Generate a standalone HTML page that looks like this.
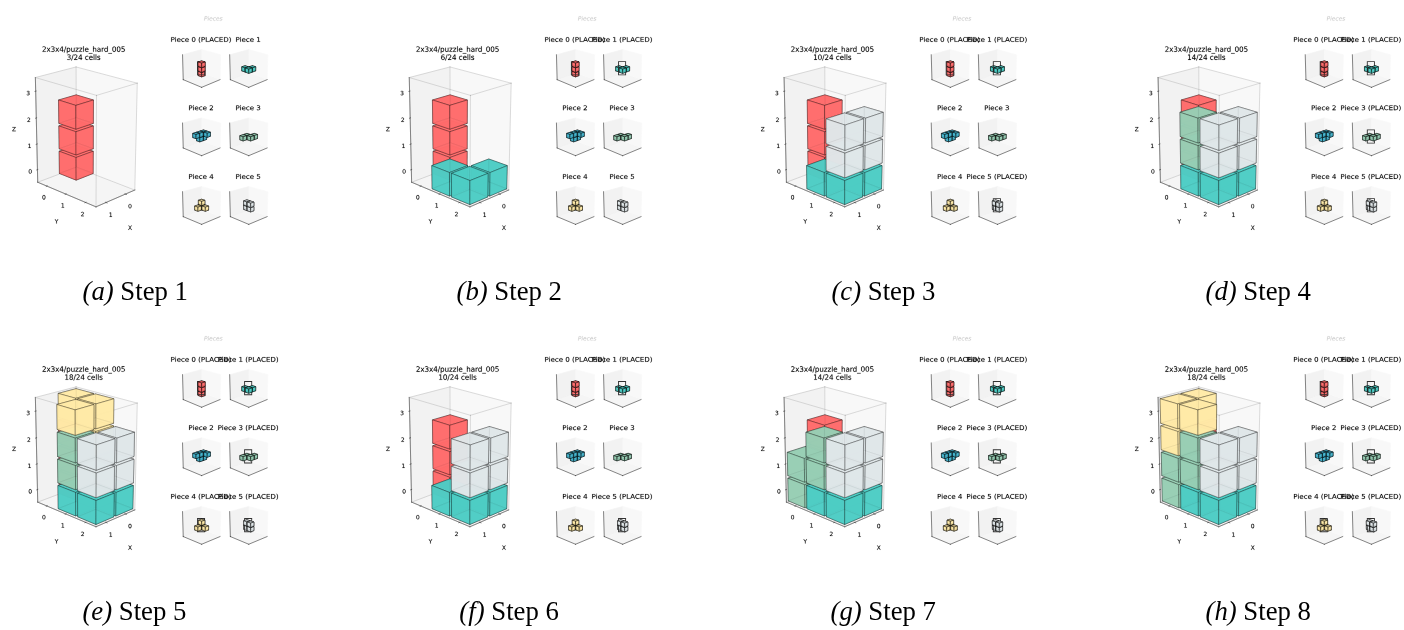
<!DOCTYPE html>
<html><head><meta charset="utf-8"><style>
html,body{margin:0;padding:0;background:#fff;}
body{width:1404px;height:630px;position:relative;overflow:hidden;}
.pn{position:absolute;width:360px;height:262px;}
.pn svg{display:block;overflow:visible;filter:blur(0.3px)}
.pn g[transform]{stroke:#000;stroke-width:0.12px}
.pn g.s12[transform]{stroke:#cccccc}
.pn use[href="#DejaVuSans-2705"]{stroke:none;fill:#333}
.cap{position:absolute;width:200px;text-align:center;font-family:"Liberation Serif",serif;font-size:28px;line-height:1;white-space:nowrap;color:#000;}
.cap span{display:inline-block;transform:scaleX(0.955);transform-origin:50% 50%;}
.s0{fill:#f2f2f2;opacity:0.5;stroke:#f2f2f2;stroke-linejoin:miter}.s1{fill:#e6e6e6;opacity:0.5;stroke:#e6e6e6;stroke-linejoin:miter}.s2{fill:#ececec;opacity:0.5;stroke:#ececec;stroke-linejoin:miter}.s3{fill:none;stroke:#000000;stroke-width:0.8;stroke-linecap:square}.s4{fill:none;stroke:#808080;stroke-opacity:0.45;stroke-linecap:square}.s5{fill:#ff6b6b;fill-opacity:0.85;stroke:#000000;stroke-width:0.5}.s6{fill:#ff6b6b;fill-opacity:0.85;stroke:#000000;stroke-width:0.8}.s7{fill:#4ecdc4;fill-opacity:0.85;stroke:#000000;stroke-width:0.8}.s8{fill:#45b7d1;fill-opacity:0.85;stroke:#000000;stroke-width:0.8}.s9{fill:#96ceb4;fill-opacity:0.85;stroke:#000000;stroke-width:0.8}.s10{fill:#ffeaa7;fill-opacity:0.85;stroke:#000000;stroke-width:0.8}.s11{fill:#dfe6e9;fill-opacity:0.85;stroke:#000000;stroke-width:0.8}.s12{fill:#cccccc;stroke:#cccccc}.s13{fill:#4ecdc4;fill-opacity:0.85;stroke:#000000;stroke-width:0.5}.s14{fill:#dfe6e9;fill-opacity:0.85;stroke:#000000;stroke-width:0.5}.s15{fill:#96ceb4;fill-opacity:0.85;stroke:#000000;stroke-width:0.5}.s16{fill:#ffeaa7;fill-opacity:0.85;stroke:#000000;stroke-width:0.5}
</style></head><body>
<svg width="0" height="0" style="position:absolute"><defs><path id="DejaVuSans-30" d="M2034 4250Q1547 4250 1301 3770Q1056 3291 1056 2328Q1056 1369 1301 889Q1547 409 2034 409Q2525 409 2770 889Q3016 1369 3016 2328Q3016 3291 2770 3770Q2525 4250 2034 4250zM2034 4750Q2819 4750 3233 4129Q3647 3509 3647 2328Q3647 1150 3233 529Q2819 -91 2034 -91Q1250 -91 836 529Q422 1150 422 2328Q422 3509 836 4129Q1250 4750 2034 4750z" transform="scale(0.015625)" vector-effect="non-scaling-stroke"/><path id="DejaVuSans-31" d="M794 531L1825 531L1825 4091L703 3866L703 4441L1819 4666L2450 4666L2450 531L3481 531L3481 0L794 0L794 531z" transform="scale(0.015625)" vector-effect="non-scaling-stroke"/><path id="DejaVuSans-58" d="M403 4666L1081 4666L2241 2931L3406 4666L4084 4666L2584 2425L4184 0L3506 0L2194 1984L872 0L191 0L1856 2491L403 4666z" transform="scale(0.015625)" vector-effect="non-scaling-stroke"/><path id="DejaVuSans-32" d="M1228 531L3431 531L3431 0L469 0L469 531Q828 903 1448 1529Q2069 2156 2228 2338Q2531 2678 2651 2914Q2772 3150 2772 3378Q2772 3750 2511 3984Q2250 4219 1831 4219Q1534 4219 1204 4116Q875 4013 500 3803L500 4441Q881 4594 1212 4672Q1544 4750 1819 4750Q2544 4750 2975 4387Q3406 4025 3406 3419Q3406 3131 3298 2873Q3191 2616 2906 2266Q2828 2175 2409 1742Q1991 1309 1228 531z" transform="scale(0.015625)" vector-effect="non-scaling-stroke"/><path id="DejaVuSans-59" d="M-13 4666L666 4666L1959 2747L3244 4666L3922 4666L2272 2222L2272 0L1638 0L1638 2222L-13 4666z" transform="scale(0.015625)" vector-effect="non-scaling-stroke"/><path id="DejaVuSans-33" d="M2597 2516Q3050 2419 3304 2112Q3559 1806 3559 1356Q3559 666 3084 287Q2609 -91 1734 -91Q1441 -91 1130 -33Q819 25 488 141L488 750Q750 597 1062 519Q1375 441 1716 441Q2309 441 2620 675Q2931 909 2931 1356Q2931 1769 2642 2001Q2353 2234 1838 2234L1294 2234L1294 2753L1863 2753Q2328 2753 2575 2939Q2822 3125 2822 3475Q2822 3834 2567 4026Q2313 4219 1838 4219Q1578 4219 1281 4162Q984 4106 628 3988L628 4550Q988 4650 1302 4700Q1616 4750 1894 4750Q2613 4750 3031 4423Q3450 4097 3450 3541Q3450 3153 3228 2886Q3006 2619 2597 2516z" transform="scale(0.015625)" vector-effect="non-scaling-stroke"/><path id="DejaVuSans-5a" d="M359 4666L4025 4666L4025 4184L1075 531L4097 531L4097 0L288 0L288 481L3238 4134L359 4134L359 4666z" transform="scale(0.015625)" vector-effect="non-scaling-stroke"/><path id="DejaVuSans-78" d="M3513 3500L2247 1797L3578 0L2900 0L1881 1375L863 0L184 0L1544 1831L300 3500L978 3500L1906 2253L2834 3500L3513 3500z" transform="scale(0.015625)" vector-effect="non-scaling-stroke"/><path id="DejaVuSans-34" d="M2419 4116L825 1625L2419 1625L2419 4116zM2253 4666L3047 4666L3047 1625L3713 1625L3713 1100L3047 1100L3047 0L2419 0L2419 1100L313 1100L313 1709L2253 4666z" transform="scale(0.015625)" vector-effect="non-scaling-stroke"/><path id="DejaVuSans-2f" d="M1625 4666L2156 4666L531 -594L0 -594L1625 4666z" transform="scale(0.015625)" vector-effect="non-scaling-stroke"/><path id="DejaVuSans-70" d="M1159 525L1159 -1331L581 -1331L581 3500L1159 3500L1159 2969Q1341 3281 1617 3432Q1894 3584 2278 3584Q2916 3584 3314 3078Q3713 2572 3713 1747Q3713 922 3314 415Q2916 -91 2278 -91Q1894 -91 1617 61Q1341 213 1159 525zM3116 1747Q3116 2381 2855 2742Q2594 3103 2138 3103Q1681 3103 1420 2742Q1159 2381 1159 1747Q1159 1113 1420 752Q1681 391 2138 391Q2594 391 2855 752Q3116 1113 3116 1747z" transform="scale(0.015625)" vector-effect="non-scaling-stroke"/><path id="DejaVuSans-75" d="M544 1381L544 3500L1119 3500L1119 1403Q1119 906 1312 657Q1506 409 1894 409Q2359 409 2629 706Q2900 1003 2900 1516L2900 3500L3475 3500L3475 0L2900 0L2900 538Q2691 219 2414 64Q2138 -91 1772 -91Q1169 -91 856 284Q544 659 544 1381zM1991 3584L1991 3584z" transform="scale(0.015625)" vector-effect="non-scaling-stroke"/><path id="DejaVuSans-7a" d="M353 3500L3084 3500L3084 2975L922 459L3084 459L3084 0L275 0L275 525L2438 3041L353 3041L353 3500z" transform="scale(0.015625)" vector-effect="non-scaling-stroke"/><path id="DejaVuSans-6c" d="M603 4863L1178 4863L1178 0L603 0L603 4863z" transform="scale(0.015625)" vector-effect="non-scaling-stroke"/><path id="DejaVuSans-65" d="M3597 1894L3597 1613L953 1613Q991 1019 1311 708Q1631 397 2203 397Q2534 397 2845 478Q3156 559 3463 722L3463 178Q3153 47 2828 -22Q2503 -91 2169 -91Q1331 -91 842 396Q353 884 353 1716Q353 2575 817 3079Q1281 3584 2069 3584Q2775 3584 3186 3129Q3597 2675 3597 1894zM3022 2063Q3016 2534 2758 2815Q2500 3097 2075 3097Q1594 3097 1305 2825Q1016 2553 972 2059L3022 2063z" transform="scale(0.015625)" vector-effect="non-scaling-stroke"/><path id="DejaVuSans-5f" d="M3263 -1063L3263 -1509L-63 -1509L-63 -1063L3263 -1063z" transform="scale(0.015625)" vector-effect="non-scaling-stroke"/><path id="DejaVuSans-68" d="M3513 2113L3513 0L2938 0L2938 2094Q2938 2591 2744 2837Q2550 3084 2163 3084Q1697 3084 1428 2787Q1159 2491 1159 1978L1159 0L581 0L581 4863L1159 4863L1159 2956Q1366 3272 1645 3428Q1925 3584 2291 3584Q2894 3584 3203 3211Q3513 2838 3513 2113z" transform="scale(0.015625)" vector-effect="non-scaling-stroke"/><path id="DejaVuSans-61" d="M2194 1759Q1497 1759 1228 1600Q959 1441 959 1056Q959 750 1161 570Q1363 391 1709 391Q2188 391 2477 730Q2766 1069 2766 1631L2766 1759L2194 1759zM3341 1997L3341 0L2766 0L2766 531Q2569 213 2275 61Q1981 -91 1556 -91Q1019 -91 701 211Q384 513 384 1019Q384 1609 779 1909Q1175 2209 1959 2209L2766 2209L2766 2266Q2766 2663 2505 2880Q2244 3097 1772 3097Q1472 3097 1187 3025Q903 2953 641 2809L641 3341Q956 3463 1253 3523Q1550 3584 1831 3584Q2591 3584 2966 3190Q3341 2797 3341 1997z" transform="scale(0.015625)" vector-effect="non-scaling-stroke"/><path id="DejaVuSans-72" d="M2631 2963Q2534 3019 2420 3045Q2306 3072 2169 3072Q1681 3072 1420 2755Q1159 2438 1159 1844L1159 0L581 0L581 3500L1159 3500L1159 2956Q1341 3275 1631 3429Q1922 3584 2338 3584Q2397 3584 2469 3576Q2541 3569 2628 3553L2631 2963z" transform="scale(0.015625)" vector-effect="non-scaling-stroke"/><path id="DejaVuSans-64" d="M2906 2969L2906 4863L3481 4863L3481 0L2906 0L2906 525Q2725 213 2448 61Q2172 -91 1784 -91Q1150 -91 751 415Q353 922 353 1747Q353 2572 751 3078Q1150 3584 1784 3584Q2172 3584 2448 3432Q2725 3281 2906 2969zM947 1747Q947 1113 1208 752Q1469 391 1925 391Q2381 391 2643 752Q2906 1113 2906 1747Q2906 2381 2643 2742Q2381 3103 1925 3103Q1469 3103 1208 2742Q947 2381 947 1747z" transform="scale(0.015625)" vector-effect="non-scaling-stroke"/><path id="DejaVuSans-35" d="M691 4666L3169 4666L3169 4134L1269 4134L1269 2991Q1406 3038 1543 3061Q1681 3084 1819 3084Q2600 3084 3056 2656Q3513 2228 3513 1497Q3513 744 3044 326Q2575 -91 1722 -91Q1428 -91 1123 -41Q819 9 494 109L494 744Q775 591 1075 516Q1375 441 1709 441Q2250 441 2565 725Q2881 1009 2881 1497Q2881 1984 2565 2268Q2250 2553 1709 2553Q1456 2553 1204 2497Q953 2441 691 2322L691 4666z" transform="scale(0.015625)" vector-effect="non-scaling-stroke"/><path id="DejaVuSans-63" d="M3122 3366L3122 2828Q2878 2963 2633 3030Q2388 3097 2138 3097Q1578 3097 1268 2742Q959 2388 959 1747Q959 1106 1268 751Q1578 397 2138 397Q2388 397 2633 464Q2878 531 3122 666L3122 134Q2881 22 2623 -34Q2366 -91 2075 -91Q1284 -91 818 406Q353 903 353 1747Q353 2603 823 3093Q1294 3584 2113 3584Q2378 3584 2631 3529Q2884 3475 3122 3366z" transform="scale(0.015625)" vector-effect="non-scaling-stroke"/><path id="DejaVuSans-73" d="M2834 3397L2834 2853Q2591 2978 2328 3040Q2066 3103 1784 3103Q1356 3103 1142 2972Q928 2841 928 2578Q928 2378 1081 2264Q1234 2150 1697 2047L1894 2003Q2506 1872 2764 1633Q3022 1394 3022 966Q3022 478 2636 193Q2250 -91 1575 -91Q1294 -91 989 -36Q684 19 347 128L347 722Q666 556 975 473Q1284 391 1588 391Q1994 391 2212 530Q2431 669 2431 922Q2431 1156 2273 1281Q2116 1406 1581 1522L1381 1569Q847 1681 609 1914Q372 2147 372 2553Q372 3047 722 3315Q1072 3584 1716 3584Q2034 3584 2315 3537Q2597 3491 2834 3397z" transform="scale(0.015625)" vector-effect="non-scaling-stroke"/><path id="DejaVuSans-2705" d="M319 -1131L319 4513L3519 4513L3519 -1131L319 -1131zM678 -775L3163 -775L3163 4153L678 4153L678 -775z" transform="scale(0.015625)" vector-effect="non-scaling-stroke"/><path id="DejaVuSans-50" d="M1259 4147L1259 2394L2053 2394Q2494 2394 2734 2622Q2975 2850 2975 3272Q2975 3691 2734 3919Q2494 4147 2053 4147L1259 4147zM628 4666L2053 4666Q2838 4666 3239 4311Q3641 3956 3641 3272Q3641 2581 3239 2228Q2838 1875 2053 1875L1259 1875L1259 0L628 0L628 4666z" transform="scale(0.015625)" vector-effect="non-scaling-stroke"/><path id="DejaVuSans-69" d="M603 3500L1178 3500L1178 0L603 0L603 3500zM603 4863L1178 4863L1178 4134L603 4134L603 4863z" transform="scale(0.015625)" vector-effect="non-scaling-stroke"/><path id="DejaVuSans-28" d="M1984 4856Q1566 4138 1362 3434Q1159 2731 1159 2009Q1159 1288 1364 580Q1569 -128 1984 -844L1484 -844Q1016 -109 783 600Q550 1309 550 2009Q550 2706 781 3412Q1013 4119 1484 4856L1984 4856z" transform="scale(0.015625)" vector-effect="non-scaling-stroke"/><path id="DejaVuSans-4c" d="M628 4666L1259 4666L1259 531L3531 531L3531 0L628 0L628 4666z" transform="scale(0.015625)" vector-effect="non-scaling-stroke"/><path id="DejaVuSans-41" d="M2188 4044L1331 1722L3047 1722L2188 4044zM1831 4666L2547 4666L4325 0L3669 0L3244 1197L1141 1197L716 0L50 0L1831 4666z" transform="scale(0.015625)" vector-effect="non-scaling-stroke"/><path id="DejaVuSans-43" d="M4122 4306L4122 3641Q3803 3938 3442 4084Q3081 4231 2675 4231Q1875 4231 1450 3742Q1025 3253 1025 2328Q1025 1406 1450 917Q1875 428 2675 428Q3081 428 3442 575Q3803 722 4122 1019L4122 359Q3791 134 3420 21Q3050 -91 2638 -91Q1578 -91 968 557Q359 1206 359 2328Q359 3453 968 4101Q1578 4750 2638 4750Q3056 4750 3426 4639Q3797 4528 4122 4306z" transform="scale(0.015625)" vector-effect="non-scaling-stroke"/><path id="DejaVuSans-45" d="M628 4666L3578 4666L3578 4134L1259 4134L1259 2753L3481 2753L3481 2222L1259 2222L1259 531L3634 531L3634 0L628 0L628 4666z" transform="scale(0.015625)" vector-effect="non-scaling-stroke"/><path id="DejaVuSans-44" d="M1259 4147L1259 519L2022 519Q2988 519 3436 956Q3884 1394 3884 2338Q3884 3275 3436 3711Q2988 4147 2022 4147L1259 4147zM628 4666L1925 4666Q3281 4666 3915 4102Q4550 3538 4550 2338Q4550 1131 3912 565Q3275 0 1925 0L628 0L628 4666z" transform="scale(0.015625)" vector-effect="non-scaling-stroke"/><path id="DejaVuSans-29" d="M513 4856L1013 4856Q1481 4119 1714 3412Q1947 2706 1947 2009Q1947 1309 1714 600Q1481 -109 1013 -844L513 -844Q928 -128 1133 580Q1338 1288 1338 2009Q1338 2731 1133 3434Q928 4138 513 4856z" transform="scale(0.015625)" vector-effect="non-scaling-stroke"/><path id="DejaVuSans-Oblique-50" d="M1081 4666L2541 4666Q3178 4666 3512 4369Q3847 4072 3847 3500Q3847 2731 3353 2303Q2859 1875 1966 1875L1172 1875L806 0L172 0L1081 4666zM1613 4147L1275 2394L2069 2394Q2606 2394 2893 2669Q3181 2944 3181 3456Q3181 3784 2986 3965Q2791 4147 2438 4147L1613 4147z" transform="scale(0.015625)" vector-effect="non-scaling-stroke"/><path id="DejaVuSans-Oblique-69" d="M1172 4863L1747 4863L1606 4134L1031 4134L1172 4863zM909 3500L1484 3500L800 0L225 0L909 3500z" transform="scale(0.015625)" vector-effect="non-scaling-stroke"/><path id="DejaVuSans-Oblique-65" d="M3078 2063Q3088 2113 3092 2166Q3097 2219 3097 2272Q3097 2653 2873 2875Q2650 3097 2266 3097Q1838 3097 1509 2826Q1181 2556 1013 2059L3078 2063zM3578 1613L903 1613Q884 1494 878 1425Q872 1356 872 1306Q872 872 1139 634Q1406 397 1894 397Q2269 397 2603 481Q2938 566 3225 728L3116 159Q2806 34 2476 -28Q2147 -91 1806 -91Q1078 -91 686 257Q294 606 294 1247Q294 1794 489 2264Q684 2734 1063 3103Q1306 3334 1642 3459Q1978 3584 2356 3584Q2950 3584 3301 3228Q3653 2872 3653 2272Q3653 2128 3634 1964Q3616 1800 3578 1613z" transform="scale(0.015625)" vector-effect="non-scaling-stroke"/><path id="DejaVuSans-Oblique-63" d="M3431 3366L3316 2797Q3109 2947 2876 3022Q2644 3097 2394 3097Q2119 3097 1870 3000Q1622 2903 1453 2725Q1184 2453 1037 2087Q891 1722 891 1331Q891 859 1127 628Q1363 397 1844 397Q2081 397 2348 469Q2616 541 2906 684L2797 116Q2547 13 2283 -39Q2019 -91 1741 -91Q1044 -91 669 257Q294 606 294 1253Q294 1797 489 2255Q684 2713 1069 3078Q1331 3328 1684 3456Q2038 3584 2456 3584Q2700 3584 2940 3529Q3181 3475 3431 3366z" transform="scale(0.015625)" vector-effect="non-scaling-stroke"/><path id="DejaVuSans-Oblique-73" d="M3200 3397L3091 2853Q2863 2978 2609 3040Q2356 3103 2088 3103Q1634 3103 1373 2948Q1113 2794 1113 2528Q1113 2219 1719 2053Q1766 2041 1788 2034L1972 1978Q2547 1819 2739 1644Q2931 1469 2931 1166Q2931 609 2489 259Q2047 -91 1331 -91Q1053 -91 747 -37Q441 16 72 128L184 722Q500 559 806 475Q1113 391 1394 391Q1816 391 2080 572Q2344 753 2344 1031Q2344 1331 1650 1516L1591 1531L1394 1581Q956 1697 753 1886Q550 2075 550 2369Q550 2928 970 3256Q1391 3584 2113 3584Q2397 3584 2667 3537Q2938 3491 3200 3397z" transform="scale(0.015625)" vector-effect="non-scaling-stroke"/><path id="DejaVuSans-36" d="M2113 2584Q1688 2584 1439 2293Q1191 2003 1191 1497Q1191 994 1439 701Q1688 409 2113 409Q2538 409 2786 701Q3034 994 3034 1497Q3034 2003 2786 2293Q2538 2584 2113 2584zM3366 4563L3366 3988Q3128 4100 2886 4159Q2644 4219 2406 4219Q1781 4219 1451 3797Q1122 3375 1075 2522Q1259 2794 1537 2939Q1816 3084 2150 3084Q2853 3084 3261 2657Q3669 2231 3669 1497Q3669 778 3244 343Q2819 -91 2113 -91Q1303 -91 875 529Q447 1150 447 2328Q447 3434 972 4092Q1497 4750 2381 4750Q2619 4750 2861 4703Q3103 4656 3366 4563z" transform="scale(0.015625)" vector-effect="non-scaling-stroke"/><path id="DejaVuSans-38" d="M2034 2216Q1584 2216 1326 1975Q1069 1734 1069 1313Q1069 891 1326 650Q1584 409 2034 409Q2484 409 2743 651Q3003 894 3003 1313Q3003 1734 2745 1975Q2488 2216 2034 2216zM1403 2484Q997 2584 770 2862Q544 3141 544 3541Q544 4100 942 4425Q1341 4750 2034 4750Q2731 4750 3128 4425Q3525 4100 3525 3541Q3525 3141 3298 2862Q3072 2584 2669 2484Q3125 2378 3379 2068Q3634 1759 3634 1313Q3634 634 3220 271Q2806 -91 2034 -91Q1263 -91 848 271Q434 634 434 1313Q434 1759 690 2068Q947 2378 1403 2484zM1172 3481Q1172 3119 1398 2916Q1625 2713 2034 2713Q2441 2713 2670 2916Q2900 3119 2900 3481Q2900 3844 2670 4047Q2441 4250 2034 4250Q1625 4250 1398 4047Q1172 3844 1172 3481z" transform="scale(0.015625)" vector-effect="non-scaling-stroke"/></defs></svg>
<div class="pn" style="left:0px;top:0px"><svg width="360" height="262" viewBox="-0.511 -0.681 612.766 445.957"><path d="M129.7 284.6L228.9 322.8L233.1 140.9L129 113.3" class="s0"/><path d="M129.7 284.6L63.7 309.5L59.7 131.3L129 113.3" class="s1"/><path d="M129.7 284.6L63.7 309.5L162.9 351.4L228.9 322.8" class="s2"/><path d="M228.9 322.8L162.9 351.4" class="s3"/><path d="M212.1 329.3L214.7 330.3" class="s3"/><g transform="translate(217.6 353.8) scale(0.1 -0.1)"><use href="#DejaVuSans-30"/></g><path d="M179.1 343.6L181.7 344.7" class="s3"/><g transform="translate(184.8 368.5) scale(0.1 -0.1)"><use href="#DejaVuSans-31"/></g><g transform="translate(217.4 390.6) scale(0.1 -0.1)"><use href="#DejaVuSans-58"/></g><path d="M63.7 309.5L162.9 351.4" class="s3"/><path d="M79.8 315.8L78.2 316.5" class="s3"/><g transform="translate(71.08 338.7) scale(0.1 -0.1)"><use href="#DejaVuSans-30"/></g><path d="M112.1 329.4L110.4 330.1" class="s3"/><g transform="translate(103.2 352.7) scale(0.1 -0.1)"><use href="#DejaVuSans-31"/></g><path d="M145.9 343.7L144.2 344.4" class="s3"/><g transform="translate(136.9 367.3) scale(0.1 -0.1)"><use href="#DejaVuSans-32"/></g><g transform="translate(92.67 379.9) scale(0.1 -0.1)"><use href="#DejaVuSans-59"/></g><path d="M63.7 309.5L59.7 131.3" class="s3"/><path d="M63.8 287.9L62.1 288.5" class="s3"/><g transform="translate(47.72 294.7) scale(0.1 -0.1)"><use href="#DejaVuSans-30"/></g><path d="M62.8 244.4L61.1 245" class="s3"/><g transform="translate(46.59 251.3) scale(0.1 -0.1)"><use href="#DejaVuSans-31"/></g><path d="M61.8 199.9L60.1 200.5" class="s3"/><g transform="translate(45.45 206.9) scale(0.1 -0.1)"><use href="#DejaVuSans-32"/></g><path d="M60.8 154.4L59.1 154.8" class="s3"/><g transform="translate(44.27 161.4) scale(0.1 -0.1)"><use href="#DejaVuSans-33"/></g><g transform="translate(19.96 222.6) scale(0.1 -0.1)"><use href="#DejaVuSans-5a"/></g><path d="M129.7 284.6L129 113.3" class="s4"/><path d="M228.9 322.8L233.1 140.9" class="s4"/><path d="M63.7 309.5L59.7 131.3" class="s4"/><path d="M162.9 351.4L163.8 161.7" class="s4"/><path d="M129.7 284.6L228.9 322.8" class="s4"/><path d="M129 113.3L233.1 140.9" class="s4"/><path d="M63.7 309.5L162.9 351.4" class="s4"/><path d="M59.7 131.3L163.8 161.7" class="s4"/><path d="M129.7 284.6L63.7 309.5" class="s4"/><path d="M129 113.3L59.7 131.3" class="s4"/><path d="M228.9 322.8L162.9 351.4" class="s4"/><path d="M233.1 140.9L163.8 161.7" class="s4"/><path d="M129.7 283.7L158.1 294.6L158.3 256.7L129.5 246.4z" class="s5"/><path d="M129.7 283.7L100.6 294.6L100.1 256.7L129.5 246.4z" class="s5"/><path d="M129.7 283.7L100.6 294.6L129.1 306L158.1 294.6z" class="s5"/><path d="M129.5 246.4L100.1 256.7L128.9 267.4L158.3 256.7z" class="s5"/><path d="M100.6 294.6L129.1 306L128.9 267.4L100.1 256.7z" class="s5"/><path d="M158.1 294.6L129.1 306L128.9 267.4L158.3 256.7z" class="s5"/><g transform="translate(71.03 87.52) scale(0.12 -0.1248)"><use href="#DejaVuSans-32"/><use href="#DejaVuSans-78" transform="translate(63.62 0)"/><use href="#DejaVuSans-33" transform="translate(122.8 0)"/><use href="#DejaVuSans-78" transform="translate(186.4 0)"/><use href="#DejaVuSans-34" transform="translate(245.6 0)"/><use href="#DejaVuSans-2f" transform="translate(309.2 0)"/><use href="#DejaVuSans-70" transform="translate(342.9 0)"/><use href="#DejaVuSans-75" transform="translate(406.4 0)"/><use href="#DejaVuSans-7a" transform="translate(469.8 0)"/><use href="#DejaVuSans-7a" transform="translate(522.3 0)"/><use href="#DejaVuSans-6c" transform="translate(574.8 0)"/><use href="#DejaVuSans-65" transform="translate(602.5 0)"/><use href="#DejaVuSans-5f" transform="translate(664.1 0)"/><use href="#DejaVuSans-68" transform="translate(714.1 0)"/><use href="#DejaVuSans-61" transform="translate(777.4 0)"/><use href="#DejaVuSans-72" transform="translate(838.7 0)"/><use href="#DejaVuSans-64" transform="translate(878.1 0)"/><use href="#DejaVuSans-5f" transform="translate(941.6 0)"/><use href="#DejaVuSans-30" transform="translate(991.6 0)"/><use href="#DejaVuSans-30" transform="translate(1055 0)"/><use href="#DejaVuSans-35" transform="translate(1119 0)"/></g><g transform="translate(113.1 101.3) scale(0.12 -0.1248)"><use href="#DejaVuSans-33"/><use href="#DejaVuSans-2f" transform="translate(63.62 0)"/><use href="#DejaVuSans-32" transform="translate(97.31 0)"/><use href="#DejaVuSans-34" transform="translate(160.9 0)"/><use href="#DejaVuSans-20" transform="translate(224.6 0)"/><use href="#DejaVuSans-63" transform="translate(256.3 0)"/><use href="#DejaVuSans-65" transform="translate(311.3 0)"/><use href="#DejaVuSans-6c" transform="translate(372.9 0)"/><use href="#DejaVuSans-6c" transform="translate(400.6 0)"/><use href="#DejaVuSans-73" transform="translate(428.4 0)"/></g><path d="M129.5 242.2L158.3 252.5L158.4 213.6L129.3 204.1z" class="s5"/><path d="M129.5 242.2L100.1 252.5L99.6 213.6L129.3 204.1z" class="s5"/><path d="M129.5 242.2L100.1 252.5L128.9 263.1L158.3 252.5z" class="s5"/><path d="M129.3 204.1L99.6 213.6L128.7 223.6L158.4 213.6z" class="s5"/><path d="M100.1 252.5L128.9 263.1L128.7 223.6L99.6 213.6z" class="s5"/><path d="M158.3 252.5L128.9 263.1L128.7 223.6L158.4 213.6z" class="s5"/><path d="M129.3 199.8L158.4 209.3L158.6 169.5L129.2 160.8z" class="s5"/><path d="M129.3 199.8L99.6 209.3L99.1 169.5L129.2 160.8z" class="s5"/><path d="M129.3 199.8L99.6 209.3L128.7 219.2L158.4 209.3z" class="s5"/><path d="M129.2 160.8L99.1 169.5L128.5 178.7L158.6 169.5z" class="s5"/><path d="M99.6 209.3L128.7 219.2L128.5 178.7L99.1 169.5z" class="s5"/><path d="M158.4 209.3L128.7 219.2L128.5 178.7L158.6 169.5z" class="s5"/><path d="M342.7 123.5L374 134.9L375.2 92.6L342.7 83.7" class="s0"/><path d="M342.7 123.5L311.4 134.9L310.2 92.6L342.7 83.7" class="s1"/><path d="M342.7 123.5L311.4 134.9L342.7 148L374 134.9" class="s2"/><g/><g/><g/><path d="M374 134.9L342.7 148" class="s3"/><path d="M311.4 134.9L342.7 148" class="s3"/><path d="M311.4 134.9L310.2 92.6" class="s3"/><path d="M342.7 125.8L348.7 128L348.7 120.9L342.7 118.8z" class="s6"/><path d="M342.7 125.8L336.8 128L336.7 120.9L342.7 118.8z" class="s6"/><path d="M342.7 125.8L336.8 128L342.7 130.2L348.7 128z" class="s6"/><path d="M342.7 118.8L336.7 120.9L342.7 123.1L348.7 120.9z" class="s6"/><path d="M336.8 128L342.7 130.2L342.7 123.1L336.7 120.9z" class="s6"/><path d="M348.7 128L342.7 130.2L342.7 123.1L348.7 120.9z" class="s6"/><g transform="translate(333.5 122.7) scale(0.273 -0.273)"><use href="#DejaVuSans-2705"/></g><g transform="translate(289.8 70.58) scale(0.12 -0.1104)"><use href="#DejaVuSans-50"/><use href="#DejaVuSans-69" transform="translate(58.05 0)"/><use href="#DejaVuSans-65" transform="translate(85.84 0)"/><use href="#DejaVuSans-63" transform="translate(147.4 0)"/><use href="#DejaVuSans-65" transform="translate(202.3 0)"/><use href="#DejaVuSans-20" transform="translate(263.9 0)"/><use href="#DejaVuSans-30" transform="translate(295.7 0)"/><use href="#DejaVuSans-20" transform="translate(359.3 0)"/><use href="#DejaVuSans-28" transform="translate(391.1 0)"/><use href="#DejaVuSans-50" transform="translate(430.1 0)"/><use href="#DejaVuSans-4c" transform="translate(490.4 0)"/><use href="#DejaVuSans-41" transform="translate(548.3 0)"/><use href="#DejaVuSans-43" transform="translate(615 0)"/><use href="#DejaVuSans-45" transform="translate(684.8 0)"/><use href="#DejaVuSans-44" transform="translate(748 0)"/><use href="#DejaVuSans-29" transform="translate(825 0)"/></g><path d="M342.7 118L348.7 120.1L348.7 112.9L342.7 110.9z" class="s6"/><path d="M342.7 118L336.7 120.1L336.7 112.9L342.7 110.9z" class="s6"/><path d="M342.7 118L336.7 120.1L342.7 122.3L348.7 120.1z" class="s6"/><path d="M342.7 110.9L336.7 112.9L342.7 115L348.7 112.9z" class="s6"/><path d="M336.7 120.1L342.7 122.3L342.7 115L336.7 112.9z" class="s6"/><path d="M348.7 120.1L342.7 122.3L342.7 115L348.7 112.9z" class="s6"/><path d="M342.7 110.1L348.8 112.1L348.8 104.8L342.7 102.9z" class="s6"/><path d="M342.7 110.1L336.7 112.1L336.6 104.8L342.7 102.9z" class="s6"/><path d="M342.7 110.1L336.7 112.1L342.7 114.2L348.8 112.1z" class="s6"/><path d="M342.7 102.9L336.6 104.8L342.7 106.8L348.8 104.8z" class="s6"/><path d="M336.7 112.1L342.7 114.2L342.7 106.8L336.6 104.8z" class="s6"/><path d="M348.8 112.1L342.7 114.2L342.7 106.8L348.8 104.8z" class="s6"/><path d="M422.9 123.5L454.2 134.9L455.4 92.6L422.9 83.7" class="s0"/><path d="M422.9 123.5L391.6 134.9L390.4 92.6L422.9 83.7" class="s1"/><path d="M422.9 123.5L391.6 134.9L422.9 148L454.2 134.9" class="s2"/><g/><g/><g/><path d="M454.2 134.9L422.9 148" class="s3"/><path d="M391.6 134.9L422.9 148" class="s3"/><path d="M391.6 134.9L390.4 92.6" class="s3"/><path d="M416.7 117.9L422.3 119.9L422.3 113L416.7 111.1z" class="s7"/><path d="M416.7 117.9L411 119.9L411 113L416.7 111.1z" class="s7"/><path d="M416.7 117.9L411 119.9L416.6 121.9L422.3 119.9z" class="s7"/><path d="M416.7 111.1L411 113L416.5 114.9L422.3 113z" class="s7"/><path d="M411 119.9L416.6 121.9L416.5 114.9L411 113z" class="s7"/><path d="M422.3 119.9L416.6 121.9L416.5 114.9L422.3 113z" class="s7"/><g transform="translate(400.3 70.58) scale(0.12 -0.1104)"><use href="#DejaVuSans-50"/><use href="#DejaVuSans-69" transform="translate(58.05 0)"/><use href="#DejaVuSans-65" transform="translate(85.84 0)"/><use href="#DejaVuSans-63" transform="translate(147.4 0)"/><use href="#DejaVuSans-65" transform="translate(202.3 0)"/><use href="#DejaVuSans-20" transform="translate(263.9 0)"/><use href="#DejaVuSans-31" transform="translate(295.7 0)"/></g><path d="M429.1 117.9L434.7 119.9L434.8 113L429.1 111.1z" class="s7"/><path d="M429.1 117.9L423.5 119.9L423.5 113L429.1 111.1z" class="s7"/><path d="M429.1 117.9L423.5 119.9L429.2 121.9L434.7 119.9z" class="s7"/><path d="M429.1 111.1L423.5 113L429.3 114.9L434.8 113z" class="s7"/><path d="M423.5 119.9L429.2 121.9L429.3 114.9L423.5 113z" class="s7"/><path d="M434.7 119.9L429.2 121.9L429.3 114.9L434.8 113z" class="s7"/><path d="M422.9 120.1L428.6 122.1L428.6 115.1L422.9 113.2z" class="s7"/><path d="M422.9 120.1L417.2 122.1L417.2 115.1L422.9 113.2z" class="s7"/><path d="M422.9 120.1L417.2 122.1L422.9 124.2L428.6 122.1z" class="s7"/><path d="M422.9 113.2L417.2 115.1L422.9 117.1L428.6 115.1z" class="s7"/><path d="M417.2 122.1L422.9 124.2L422.9 117.1L417.2 115.1z" class="s7"/><path d="M428.6 122.1L422.9 124.2L422.9 117.1L428.6 115.1z" class="s7"/><path d="M342.7 239.8L374 251.2L375.2 208.8L342.7 200" class="s0"/><path d="M342.7 239.8L311.4 251.2L310.2 208.8L342.7 200" class="s1"/><path d="M342.7 239.8L311.4 251.2L342.7 264.3L374 251.2" class="s2"/><g/><g/><g/><path d="M374 251.2L342.7 264.3" class="s3"/><path d="M311.4 251.2L342.7 264.3" class="s3"/><path d="M311.4 251.2L310.2 208.8" class="s3"/><path d="M345.7 234.7L351.2 236.6L351.3 229.9L345.7 228z" class="s8"/><path d="M345.7 234.7L340.3 236.6L340.3 229.9L345.7 228z" class="s8"/><path d="M345.7 234.7L340.3 236.6L345.8 238.6L351.2 236.6z" class="s8"/><path d="M345.7 228L340.3 229.9L345.8 231.8L351.3 229.9z" class="s8"/><path d="M340.3 236.6L345.8 238.6L345.8 231.8L340.3 229.9z" class="s8"/><path d="M351.2 236.6L345.8 238.6L345.8 231.8L351.3 229.9z" class="s8"/><g transform="translate(320.1 186.8) scale(0.12 -0.1104)"><use href="#DejaVuSans-50"/><use href="#DejaVuSans-69" transform="translate(58.05 0)"/><use href="#DejaVuSans-65" transform="translate(85.84 0)"/><use href="#DejaVuSans-63" transform="translate(147.4 0)"/><use href="#DejaVuSans-65" transform="translate(202.3 0)"/><use href="#DejaVuSans-20" transform="translate(263.9 0)"/><use href="#DejaVuSans-32" transform="translate(295.7 0)"/></g><path d="M345.7 227.3L351.3 229.1L351.3 222.3L345.8 220.5z" class="s8"/><path d="M345.7 227.3L340.3 229.1L340.2 222.3L345.8 220.5z" class="s8"/><path d="M345.7 227.3L340.3 229.1L345.8 231L351.3 229.1z" class="s8"/><path d="M345.8 220.5L340.2 222.3L345.8 224.1L351.3 222.3z" class="s8"/><path d="M340.3 229.1L345.8 231L345.8 224.1L340.2 222.3z" class="s8"/><path d="M351.3 229.1L345.8 231L345.8 224.1L351.3 222.3z" class="s8"/><path d="M339.7 236.8L345.2 238.8L345.2 232L339.6 230.1z" class="s8"/><path d="M339.7 236.8L334.1 238.8L334 232L339.6 230.1z" class="s8"/><path d="M339.7 236.8L334.1 238.8L339.6 240.8L345.2 238.8z" class="s8"/><path d="M339.6 230.1L334 232L339.6 233.9L345.2 232z" class="s8"/><path d="M334.1 238.8L339.6 240.8L339.6 233.9L334 232z" class="s8"/><path d="M345.2 238.8L339.6 240.8L339.6 233.9L345.2 232z" class="s8"/><path d="M339.6 229.3L345.2 231.2L345.2 224.3L339.6 222.5z" class="s8"/><path d="M339.6 229.3L334 231.2L334 224.3L339.6 222.5z" class="s8"/><path d="M339.6 229.3L334 231.2L339.6 233.2L345.2 231.2z" class="s8"/><path d="M339.6 222.5L334 224.3L339.5 226.2L345.2 224.3z" class="s8"/><path d="M334 231.2L339.6 233.2L339.5 226.2L334 224.3z" class="s8"/><path d="M345.2 231.2L339.6 233.2L339.5 226.2L345.2 224.3z" class="s8"/><path d="M351.9 229.3L357.6 231.2L357.7 224.3L352 222.5z" class="s8"/><path d="M351.9 229.3L346.4 231.2L346.5 224.3L352 222.5z" class="s8"/><path d="M351.9 229.3L346.4 231.2L352.2 233.2L357.6 231.2z" class="s8"/><path d="M352 222.5L346.5 224.3L352.2 226.2L357.7 224.3z" class="s8"/><path d="M346.4 231.2L352.2 233.2L352.2 226.2L346.5 224.3z" class="s8"/><path d="M357.6 231.2L352.2 233.2L352.2 226.2L357.7 224.3z" class="s8"/><path d="M333.4 231.4L338.9 233.4L338.9 226.4L333.3 224.5z" class="s8"/><path d="M333.4 231.4L327.6 233.4L327.5 226.4L333.3 224.5z" class="s8"/><path d="M333.4 231.4L327.6 233.4L333.1 235.4L338.9 233.4z" class="s8"/><path d="M333.3 224.5L327.5 226.4L333.1 228.3L338.9 226.4z" class="s8"/><path d="M327.6 233.4L333.1 235.4L333.1 228.3L327.5 226.4z" class="s8"/><path d="M338.9 233.4L333.1 235.4L333.1 228.3L338.9 226.4z" class="s8"/><path d="M422.9 239.8L454.2 251.2L455.4 208.8L422.9 200" class="s0"/><path d="M422.9 239.8L391.6 251.2L390.4 208.8L422.9 200" class="s1"/><path d="M422.9 239.8L391.6 251.2L422.9 264.3L454.2 251.2" class="s2"/><g/><g/><g/><path d="M454.2 251.2L422.9 264.3" class="s3"/><path d="M391.6 251.2L422.9 264.3" class="s3"/><path d="M391.6 251.2L390.4 208.8" class="s3"/><path d="M419.8 233.1L425.4 235L425.4 228.2L419.8 226.3z" class="s9"/><path d="M419.8 233.1L414.2 235L414.2 228.2L419.8 226.3z" class="s9"/><path d="M419.8 233.1L414.2 235L419.8 237L425.4 235z" class="s9"/><path d="M419.8 226.3L414.2 228.2L419.7 230.1L425.4 228.2z" class="s9"/><path d="M414.2 235L419.8 237L419.7 230.1L414.2 228.2z" class="s9"/><path d="M425.4 235L419.8 237L419.7 230.1L425.4 228.2z" class="s9"/><g transform="translate(400.3 186.8) scale(0.12 -0.1104)"><use href="#DejaVuSans-50"/><use href="#DejaVuSans-69" transform="translate(58.05 0)"/><use href="#DejaVuSans-65" transform="translate(85.84 0)"/><use href="#DejaVuSans-63" transform="translate(147.4 0)"/><use href="#DejaVuSans-65" transform="translate(202.3 0)"/><use href="#DejaVuSans-20" transform="translate(263.9 0)"/><use href="#DejaVuSans-33" transform="translate(295.7 0)"/></g><path d="M432.1 233.1L437.8 235L437.9 228.2L432.1 226.3z" class="s9"/><path d="M432.1 233.1L426.6 235L426.6 228.2L432.1 226.3z" class="s9"/><path d="M432.1 233.1L426.6 235L432.3 237L437.8 235z" class="s9"/><path d="M432.1 226.3L426.6 228.2L432.4 230.1L437.9 228.2z" class="s9"/><path d="M426.6 235L432.3 237L432.4 230.1L426.6 228.2z" class="s9"/><path d="M437.8 235L432.3 237L432.4 230.1L437.9 228.2z" class="s9"/><path d="M413.6 235.2L419.1 237.2L419.1 230.3L413.5 228.4z" class="s9"/><path d="M413.6 235.2L407.8 237.2L407.7 230.3L413.5 228.4z" class="s9"/><path d="M413.6 235.2L407.8 237.2L413.3 239.3L419.1 237.2z" class="s9"/><path d="M413.5 228.4L407.7 230.3L413.3 232.3L419.1 230.3z" class="s9"/><path d="M407.8 237.2L413.3 239.3L413.3 232.3L407.7 230.3z" class="s9"/><path d="M419.1 237.2L413.3 239.3L413.3 232.3L419.1 230.3z" class="s9"/><path d="M426 235.2L431.7 237.2L431.7 230.3L426 228.4z" class="s9"/><path d="M426 235.2L420.4 237.2L420.4 230.3L426 228.4z" class="s9"/><path d="M426 235.2L420.4 237.2L426.1 239.3L431.7 237.2z" class="s9"/><path d="M426 228.4L420.4 230.3L426.1 232.3L431.7 230.3z" class="s9"/><path d="M420.4 237.2L426.1 239.3L426.1 232.3L420.4 230.3z" class="s9"/><path d="M431.7 237.2L426.1 239.3L426.1 232.3L431.7 230.3z" class="s9"/><path d="M342.7 356.7L374 368.1L375.2 325.7L342.7 316.9" class="s0"/><path d="M342.7 356.7L311.4 368.1L310.2 325.7L342.7 316.9" class="s1"/><path d="M342.7 356.7L311.4 368.1L342.7 381.2L374 368.1" class="s2"/><g/><g/><g/><path d="M374 368.1L342.7 381.2" class="s3"/><path d="M311.4 368.1L342.7 381.2" class="s3"/><path d="M311.4 368.1L310.2 325.7" class="s3"/><path d="M342.7 352.7L348.2 354.6L348.3 347.9L342.7 346z" class="s10"/><path d="M342.7 352.7L337.2 354.6L337.2 347.9L342.7 346z" class="s10"/><path d="M342.7 352.7L337.2 354.6L342.7 356.6L348.2 354.6z" class="s10"/><path d="M342.7 346L337.2 347.9L342.7 349.8L348.3 347.9z" class="s10"/><path d="M337.2 354.6L342.7 356.6L342.7 349.8L337.2 347.9z" class="s10"/><path d="M348.2 354.6L342.7 356.6L342.7 349.8L348.3 347.9z" class="s10"/><g transform="translate(320.1 303.8) scale(0.12 -0.1104)"><use href="#DejaVuSans-50"/><use href="#DejaVuSans-69" transform="translate(58.05 0)"/><use href="#DejaVuSans-65" transform="translate(85.84 0)"/><use href="#DejaVuSans-63" transform="translate(147.4 0)"/><use href="#DejaVuSans-65" transform="translate(202.3 0)"/><use href="#DejaVuSans-20" transform="translate(263.9 0)"/><use href="#DejaVuSans-34" transform="translate(295.7 0)"/></g><path d="M342.7 345.2L348.3 347.1L348.3 340.2L342.7 338.4z" class="s10"/><path d="M342.7 345.2L337.2 347.1L337.1 340.2L342.7 338.4z" class="s10"/><path d="M342.7 345.2L337.2 347.1L342.7 349L348.3 347.1z" class="s10"/><path d="M342.7 338.4L337.1 340.2L342.7 342.1L348.3 340.2z" class="s10"/><path d="M337.2 347.1L342.7 349L342.7 342.1L337.1 340.2z" class="s10"/><path d="M348.3 347.1L342.7 349L342.7 342.1L348.3 340.2z" class="s10"/><path d="M336.6 354.8L342.1 356.9L342.1 350L336.5 348.1z" class="s10"/><path d="M336.6 354.8L330.9 356.9L330.8 350L336.5 348.1z" class="s10"/><path d="M336.6 354.8L330.9 356.9L336.4 358.9L342.1 356.9z" class="s10"/><path d="M336.5 348.1L330.8 350L336.4 352L342.1 350z" class="s10"/><path d="M330.9 356.9L336.4 358.9L336.4 352L330.8 350z" class="s10"/><path d="M342.1 356.9L336.4 358.9L336.4 352L342.1 350z" class="s10"/><path d="M348.8 354.8L354.5 356.9L354.6 350L348.9 348.1z" class="s10"/><path d="M348.8 354.8L343.3 356.9L343.3 350L348.9 348.1z" class="s10"/><path d="M348.8 354.8L343.3 356.9L349 358.9L354.5 356.9z" class="s10"/><path d="M348.9 348.1L343.3 350L349 352L354.6 350z" class="s10"/><path d="M343.3 356.9L349 358.9L349 352L343.3 350z" class="s10"/><path d="M354.5 356.9L349 358.9L349 352L354.6 350z" class="s10"/><path d="M422.9 356.7L454.2 368.1L455.4 325.7L422.9 316.9" class="s0"/><path d="M422.9 356.7L391.6 368.1L390.4 325.7L422.9 316.9" class="s1"/><path d="M422.9 356.7L391.6 368.1L422.9 381.2L454.2 368.1" class="s2"/><g/><g/><g/><path d="M454.2 368.1L422.9 381.2" class="s3"/><path d="M391.6 368.1L422.9 381.2" class="s3"/><path d="M391.6 368.1L390.4 325.7" class="s3"/><path d="M419.8 353.8L425.4 355.7L425.4 348.9L419.8 347z" class="s11"/><path d="M419.8 353.8L414.3 355.7L414.2 348.9L419.8 347z" class="s11"/><path d="M419.8 353.8L414.3 355.7L419.8 357.8L425.4 355.7z" class="s11"/><path d="M419.8 347L414.2 348.9L419.8 350.9L425.4 348.9z" class="s11"/><path d="M414.3 355.7L419.8 357.8L419.8 350.9L414.2 348.9z" class="s11"/><path d="M425.4 355.7L419.8 357.8L419.8 350.9L425.4 348.9z" class="s11"/><g transform="translate(400.3 303.8) scale(0.12 -0.1104)"><use href="#DejaVuSans-50"/><use href="#DejaVuSans-69" transform="translate(58.05 0)"/><use href="#DejaVuSans-65" transform="translate(85.84 0)"/><use href="#DejaVuSans-63" transform="translate(147.4 0)"/><use href="#DejaVuSans-65" transform="translate(202.3 0)"/><use href="#DejaVuSans-20" transform="translate(263.9 0)"/><use href="#DejaVuSans-35" transform="translate(295.7 0)"/></g><path d="M419.8 346.3L425.4 348.2L425.4 341.3L419.8 339.4z" class="s11"/><path d="M419.8 346.3L414.2 348.2L414.1 341.3L419.8 339.4z" class="s11"/><path d="M419.8 346.3L414.2 348.2L419.7 350.1L425.4 348.2z" class="s11"/><path d="M419.8 339.4L414.1 341.3L419.7 343.1L425.4 341.3z" class="s11"/><path d="M414.2 348.2L419.7 350.1L419.7 343.1L414.1 341.3z" class="s11"/><path d="M425.4 348.2L419.7 350.1L419.7 343.1L425.4 341.3z" class="s11"/><path d="M426 356L431.7 358L431.7 351.1L426 349.1z" class="s11"/><path d="M426 356L420.4 358L420.4 351.1L426 349.1z" class="s11"/><path d="M426 356L420.4 358L426.1 360.1L431.7 358z" class="s11"/><path d="M426 349.1L420.4 351.1L426.1 353.1L431.7 351.1z" class="s11"/><path d="M420.4 358L426.1 360.1L426.1 353.1L420.4 351.1z" class="s11"/><path d="M431.7 358L426.1 360.1L426.1 353.1L431.7 351.1z" class="s11"/><path d="M426 348.4L431.7 350.3L431.8 343.3L426 341.5z" class="s11"/><path d="M426 348.4L420.4 350.3L420.4 343.3L426 341.5z" class="s11"/><path d="M426 348.4L420.4 350.3L426.1 352.3L431.7 350.3z" class="s11"/><path d="M426 341.5L420.4 343.3L426.1 345.3L431.8 343.3z" class="s11"/><path d="M420.4 350.3L426.1 352.3L426.1 345.3L420.4 343.3z" class="s11"/><path d="M431.7 350.3L426.1 352.3L426.1 345.3L431.8 343.3z" class="s11"/><g class="s12" transform="translate(346.6 34.38) scale(0.1 -0.1)"><use href="#DejaVuSans-Oblique-50"/><use href="#DejaVuSans-Oblique-69" transform="translate(60.3 0)"/><use href="#DejaVuSans-Oblique-65" transform="translate(88.09 0)"/><use href="#DejaVuSans-Oblique-63" transform="translate(149.6 0)"/><use href="#DejaVuSans-Oblique-65" transform="translate(204.6 0)"/><use href="#DejaVuSans-Oblique-73" transform="translate(266.1 0)"/></g></svg></div>
<div class="cap" style="left:34.9px;top:276.75px"><span><i>(a)</i> Step 1</span></div>
<div class="pn" style="left:374px;top:0px"><svg width="360" height="262" viewBox="-0.340 -0.681 612.766 445.957"><path d="M129.7 284.6L228.9 322.8L233.1 140.9L129 113.3" class="s0"/><path d="M129.7 284.6L63.7 309.5L59.7 131.3L129 113.3" class="s1"/><path d="M129.7 284.6L63.7 309.5L162.9 351.4L228.9 322.8" class="s2"/><path d="M228.9 322.8L162.9 351.4" class="s3"/><path d="M212.1 329.3L214.7 330.3" class="s3"/><g transform="translate(217.6 353.8) scale(0.1 -0.1)"><use href="#DejaVuSans-30"/></g><path d="M179.1 343.6L181.7 344.7" class="s3"/><g transform="translate(184.8 368.5) scale(0.1 -0.1)"><use href="#DejaVuSans-31"/></g><g transform="translate(217.4 390.6) scale(0.1 -0.1)"><use href="#DejaVuSans-58"/></g><path d="M63.7 309.5L162.9 351.4" class="s3"/><path d="M79.8 315.8L78.2 316.5" class="s3"/><g transform="translate(71.08 338.7) scale(0.1 -0.1)"><use href="#DejaVuSans-30"/></g><path d="M112.1 329.4L110.4 330.1" class="s3"/><g transform="translate(103.2 352.7) scale(0.1 -0.1)"><use href="#DejaVuSans-31"/></g><path d="M145.9 343.7L144.2 344.4" class="s3"/><g transform="translate(136.9 367.3) scale(0.1 -0.1)"><use href="#DejaVuSans-32"/></g><g transform="translate(92.67 379.9) scale(0.1 -0.1)"><use href="#DejaVuSans-59"/></g><path d="M63.7 309.5L59.7 131.3" class="s3"/><path d="M63.8 287.9L62.1 288.5" class="s3"/><g transform="translate(47.72 294.7) scale(0.1 -0.1)"><use href="#DejaVuSans-30"/></g><path d="M62.8 244.4L61.1 245" class="s3"/><g transform="translate(46.59 251.3) scale(0.1 -0.1)"><use href="#DejaVuSans-31"/></g><path d="M61.8 199.9L60.1 200.5" class="s3"/><g transform="translate(45.45 206.9) scale(0.1 -0.1)"><use href="#DejaVuSans-32"/></g><path d="M60.8 154.4L59.1 154.8" class="s3"/><g transform="translate(44.27 161.4) scale(0.1 -0.1)"><use href="#DejaVuSans-33"/></g><g transform="translate(19.96 222.6) scale(0.1 -0.1)"><use href="#DejaVuSans-5a"/></g><path d="M129.7 284.6L129 113.3" class="s4"/><path d="M228.9 322.8L233.1 140.9" class="s4"/><path d="M63.7 309.5L59.7 131.3" class="s4"/><path d="M162.9 351.4L163.8 161.7" class="s4"/><path d="M129.7 284.6L228.9 322.8" class="s4"/><path d="M129 113.3L233.1 140.9" class="s4"/><path d="M63.7 309.5L162.9 351.4" class="s4"/><path d="M59.7 131.3L163.8 161.7" class="s4"/><path d="M129.7 284.6L63.7 309.5" class="s4"/><path d="M129 113.3L59.7 131.3" class="s4"/><path d="M228.9 322.8L162.9 351.4" class="s4"/><path d="M233.1 140.9L163.8 161.7" class="s4"/><path d="M129.7 283.7L158.1 294.6L158.3 256.7L129.5 246.4z" class="s5"/><path d="M129.7 283.7L100.6 294.6L100.1 256.7L129.5 246.4z" class="s5"/><path d="M129.7 283.7L100.6 294.6L129.1 306L158.1 294.6z" class="s5"/><path d="M129.5 246.4L100.1 256.7L128.9 267.4L158.3 256.7z" class="s5"/><path d="M100.6 294.6L129.1 306L128.9 267.4L100.1 256.7z" class="s5"/><path d="M158.1 294.6L129.1 306L128.9 267.4L158.3 256.7z" class="s5"/><g transform="translate(71.03 87.52) scale(0.12 -0.1248)"><use href="#DejaVuSans-32"/><use href="#DejaVuSans-78" transform="translate(63.62 0)"/><use href="#DejaVuSans-33" transform="translate(122.8 0)"/><use href="#DejaVuSans-78" transform="translate(186.4 0)"/><use href="#DejaVuSans-34" transform="translate(245.6 0)"/><use href="#DejaVuSans-2f" transform="translate(309.2 0)"/><use href="#DejaVuSans-70" transform="translate(342.9 0)"/><use href="#DejaVuSans-75" transform="translate(406.4 0)"/><use href="#DejaVuSans-7a" transform="translate(469.8 0)"/><use href="#DejaVuSans-7a" transform="translate(522.3 0)"/><use href="#DejaVuSans-6c" transform="translate(574.8 0)"/><use href="#DejaVuSans-65" transform="translate(602.5 0)"/><use href="#DejaVuSans-5f" transform="translate(664.1 0)"/><use href="#DejaVuSans-68" transform="translate(714.1 0)"/><use href="#DejaVuSans-61" transform="translate(777.4 0)"/><use href="#DejaVuSans-72" transform="translate(838.7 0)"/><use href="#DejaVuSans-64" transform="translate(878.1 0)"/><use href="#DejaVuSans-5f" transform="translate(941.6 0)"/><use href="#DejaVuSans-30" transform="translate(991.6 0)"/><use href="#DejaVuSans-30" transform="translate(1055 0)"/><use href="#DejaVuSans-35" transform="translate(1119 0)"/></g><g transform="translate(113.1 101.3) scale(0.12 -0.1248)"><use href="#DejaVuSans-36"/><use href="#DejaVuSans-2f" transform="translate(63.62 0)"/><use href="#DejaVuSans-32" transform="translate(97.31 0)"/><use href="#DejaVuSans-34" transform="translate(160.9 0)"/><use href="#DejaVuSans-20" transform="translate(224.6 0)"/><use href="#DejaVuSans-63" transform="translate(256.3 0)"/><use href="#DejaVuSans-65" transform="translate(311.3 0)"/><use href="#DejaVuSans-6c" transform="translate(372.9 0)"/><use href="#DejaVuSans-6c" transform="translate(400.6 0)"/><use href="#DejaVuSans-73" transform="translate(428.4 0)"/></g><path d="M129.5 242.2L158.3 252.5L158.4 213.6L129.3 204.1z" class="s5"/><path d="M129.5 242.2L100.1 252.5L99.6 213.6L129.3 204.1z" class="s5"/><path d="M129.5 242.2L100.1 252.5L128.9 263.1L158.3 252.5z" class="s5"/><path d="M129.3 204.1L99.6 213.6L128.7 223.6L158.4 213.6z" class="s5"/><path d="M100.1 252.5L128.9 263.1L128.7 223.6L99.6 213.6z" class="s5"/><path d="M158.3 252.5L128.9 263.1L128.7 223.6L158.4 213.6z" class="s5"/><path d="M129.3 199.8L158.4 209.3L158.6 169.5L129.2 160.8z" class="s5"/><path d="M129.3 199.8L99.6 209.3L99.1 169.5L129.2 160.8z" class="s5"/><path d="M129.3 199.8L99.6 209.3L128.7 219.2L158.4 209.3z" class="s5"/><path d="M129.2 160.8L99.1 169.5L128.5 178.7L158.6 169.5z" class="s5"/><path d="M99.6 209.3L128.7 219.2L128.5 178.7L99.1 169.5z" class="s5"/><path d="M158.4 209.3L128.7 219.2L128.5 178.7L158.6 169.5z" class="s5"/><path d="M129 308.6L158.7 320.6L158.9 281.2L128.8 269.9z" class="s13"/><path d="M129 308.6L98.5 320.6L98 281.2L128.8 269.9z" class="s13"/><path d="M129 308.6L98.5 320.6L128.3 333.1L158.7 320.6z" class="s13"/><path d="M128.8 269.9L98 281.2L128.1 293L158.9 281.2z" class="s13"/><path d="M98.5 320.6L128.3 333.1L128.1 293L98 281.2z" class="s13"/><path d="M158.7 320.6L128.3 333.1L128.1 293L158.9 281.2z" class="s13"/><path d="M194.5 308.6L225.6 320.6L226.5 281.2L195 269.9z" class="s13"/><path d="M194.5 308.6L165.4 320.6L165.6 281.2L195 269.9z" class="s13"/><path d="M194.5 308.6L165.4 320.6L196.6 333.1L225.6 320.6z" class="s13"/><path d="M195 269.9L165.6 281.2L197.2 293L226.5 281.2z" class="s13"/><path d="M165.4 320.6L196.6 333.1L197.2 293L165.6 281.2z" class="s13"/><path d="M225.6 320.6L196.6 333.1L197.2 293L226.5 281.2z" class="s13"/><path d="M162.1 322L193.3 334.5L193.8 294.3L162.3 282.5z" class="s13"/><path d="M162.1 322L131.7 334.5L131.5 294.3L162.3 282.5z" class="s13"/><path d="M162.1 322L131.7 334.5L162.8 347.6L193.3 334.5z" class="s13"/><path d="M162.3 282.5L131.5 294.3L163 306.7L193.8 294.3z" class="s13"/><path d="M131.7 334.5L162.8 347.6L163 306.7L131.5 294.3z" class="s13"/><path d="M193.3 334.5L162.8 347.6L163 306.7L193.8 294.3z" class="s13"/><path d="M342.7 123.5L374 134.9L375.2 92.6L342.7 83.7" class="s0"/><path d="M342.7 123.5L311.4 134.9L310.2 92.6L342.7 83.7" class="s1"/><path d="M342.7 123.5L311.4 134.9L342.7 148L374 134.9" class="s2"/><g/><g/><g/><path d="M374 134.9L342.7 148" class="s3"/><path d="M311.4 134.9L342.7 148" class="s3"/><path d="M311.4 134.9L310.2 92.6" class="s3"/><path d="M342.7 125.8L348.7 128L348.7 120.9L342.7 118.8z" class="s6"/><path d="M342.7 125.8L336.8 128L336.7 120.9L342.7 118.8z" class="s6"/><path d="M342.7 125.8L336.8 128L342.7 130.2L348.7 128z" class="s6"/><path d="M342.7 118.8L336.7 120.9L342.7 123.1L348.7 120.9z" class="s6"/><path d="M336.8 128L342.7 130.2L342.7 123.1L336.7 120.9z" class="s6"/><path d="M348.7 128L342.7 130.2L342.7 123.1L348.7 120.9z" class="s6"/><g transform="translate(333.5 122.7) scale(0.273 -0.273)"><use href="#DejaVuSans-2705"/></g><g transform="translate(289.8 70.58) scale(0.12 -0.1104)"><use href="#DejaVuSans-50"/><use href="#DejaVuSans-69" transform="translate(58.05 0)"/><use href="#DejaVuSans-65" transform="translate(85.84 0)"/><use href="#DejaVuSans-63" transform="translate(147.4 0)"/><use href="#DejaVuSans-65" transform="translate(202.3 0)"/><use href="#DejaVuSans-20" transform="translate(263.9 0)"/><use href="#DejaVuSans-30" transform="translate(295.7 0)"/><use href="#DejaVuSans-20" transform="translate(359.3 0)"/><use href="#DejaVuSans-28" transform="translate(391.1 0)"/><use href="#DejaVuSans-50" transform="translate(430.1 0)"/><use href="#DejaVuSans-4c" transform="translate(490.4 0)"/><use href="#DejaVuSans-41" transform="translate(548.3 0)"/><use href="#DejaVuSans-43" transform="translate(615 0)"/><use href="#DejaVuSans-45" transform="translate(684.8 0)"/><use href="#DejaVuSans-44" transform="translate(748 0)"/><use href="#DejaVuSans-29" transform="translate(825 0)"/></g><path d="M342.7 118L348.7 120.1L348.7 112.9L342.7 110.9z" class="s6"/><path d="M342.7 118L336.7 120.1L336.7 112.9L342.7 110.9z" class="s6"/><path d="M342.7 118L336.7 120.1L342.7 122.3L348.7 120.1z" class="s6"/><path d="M342.7 110.9L336.7 112.9L342.7 115L348.7 112.9z" class="s6"/><path d="M336.7 120.1L342.7 122.3L342.7 115L336.7 112.9z" class="s6"/><path d="M348.7 120.1L342.7 122.3L342.7 115L348.7 112.9z" class="s6"/><path d="M342.7 110.1L348.8 112.1L348.8 104.8L342.7 102.9z" class="s6"/><path d="M342.7 110.1L336.7 112.1L336.6 104.8L342.7 102.9z" class="s6"/><path d="M342.7 110.1L336.7 112.1L342.7 114.2L348.8 112.1z" class="s6"/><path d="M342.7 102.9L336.6 104.8L342.7 106.8L348.8 104.8z" class="s6"/><path d="M336.7 112.1L342.7 114.2L342.7 106.8L336.6 104.8z" class="s6"/><path d="M348.8 112.1L342.7 114.2L342.7 106.8L348.8 104.8z" class="s6"/><path d="M422.9 123.5L454.2 134.9L455.4 92.6L422.9 83.7" class="s0"/><path d="M422.9 123.5L391.6 134.9L390.4 92.6L422.9 83.7" class="s1"/><path d="M422.9 123.5L391.6 134.9L422.9 148L454.2 134.9" class="s2"/><g/><g/><g/><path d="M454.2 134.9L422.9 148" class="s3"/><path d="M391.6 134.9L422.9 148" class="s3"/><path d="M391.6 134.9L390.4 92.6" class="s3"/><path d="M416.7 117.9L422.3 119.9L422.3 113L416.7 111.1z" class="s7"/><path d="M416.7 117.9L411 119.9L411 113L416.7 111.1z" class="s7"/><path d="M416.7 117.9L411 119.9L416.6 121.9L422.3 119.9z" class="s7"/><path d="M416.7 111.1L411 113L416.5 114.9L422.3 113z" class="s7"/><path d="M411 119.9L416.6 121.9L416.5 114.9L411 113z" class="s7"/><path d="M422.3 119.9L416.6 121.9L416.5 114.9L422.3 113z" class="s7"/><g transform="translate(413.7 122.7) scale(0.273 -0.273)"><use href="#DejaVuSans-2705"/></g><g transform="translate(370 70.58) scale(0.12 -0.1104)"><use href="#DejaVuSans-50"/><use href="#DejaVuSans-69" transform="translate(58.05 0)"/><use href="#DejaVuSans-65" transform="translate(85.84 0)"/><use href="#DejaVuSans-63" transform="translate(147.4 0)"/><use href="#DejaVuSans-65" transform="translate(202.3 0)"/><use href="#DejaVuSans-20" transform="translate(263.9 0)"/><use href="#DejaVuSans-31" transform="translate(295.7 0)"/><use href="#DejaVuSans-20" transform="translate(359.3 0)"/><use href="#DejaVuSans-28" transform="translate(391.1 0)"/><use href="#DejaVuSans-50" transform="translate(430.1 0)"/><use href="#DejaVuSans-4c" transform="translate(490.4 0)"/><use href="#DejaVuSans-41" transform="translate(548.3 0)"/><use href="#DejaVuSans-43" transform="translate(615 0)"/><use href="#DejaVuSans-45" transform="translate(684.8 0)"/><use href="#DejaVuSans-44" transform="translate(748 0)"/><use href="#DejaVuSans-29" transform="translate(825 0)"/></g><path d="M429.1 117.9L434.7 119.9L434.8 113L429.1 111.1z" class="s7"/><path d="M429.1 117.9L423.5 119.9L423.5 113L429.1 111.1z" class="s7"/><path d="M429.1 117.9L423.5 119.9L429.2 121.9L434.7 119.9z" class="s7"/><path d="M429.1 111.1L423.5 113L429.3 114.9L434.8 113z" class="s7"/><path d="M423.5 119.9L429.2 121.9L429.3 114.9L423.5 113z" class="s7"/><path d="M434.7 119.9L429.2 121.9L429.3 114.9L434.8 113z" class="s7"/><path d="M422.9 120.1L428.6 122.1L428.6 115.1L422.9 113.2z" class="s7"/><path d="M422.9 120.1L417.2 122.1L417.2 115.1L422.9 113.2z" class="s7"/><path d="M422.9 120.1L417.2 122.1L422.9 124.2L428.6 122.1z" class="s7"/><path d="M422.9 113.2L417.2 115.1L422.9 117.1L428.6 115.1z" class="s7"/><path d="M417.2 122.1L422.9 124.2L422.9 117.1L417.2 115.1z" class="s7"/><path d="M428.6 122.1L422.9 124.2L422.9 117.1L428.6 115.1z" class="s7"/><path d="M342.7 239.8L374 251.2L375.2 208.8L342.7 200" class="s0"/><path d="M342.7 239.8L311.4 251.2L310.2 208.8L342.7 200" class="s1"/><path d="M342.7 239.8L311.4 251.2L342.7 264.3L374 251.2" class="s2"/><g/><g/><g/><path d="M374 251.2L342.7 264.3" class="s3"/><path d="M311.4 251.2L342.7 264.3" class="s3"/><path d="M311.4 251.2L310.2 208.8" class="s3"/><path d="M345.7 234.7L351.2 236.6L351.3 229.9L345.7 228z" class="s8"/><path d="M345.7 234.7L340.3 236.6L340.3 229.9L345.7 228z" class="s8"/><path d="M345.7 234.7L340.3 236.6L345.8 238.6L351.2 236.6z" class="s8"/><path d="M345.7 228L340.3 229.9L345.8 231.8L351.3 229.9z" class="s8"/><path d="M340.3 236.6L345.8 238.6L345.8 231.8L340.3 229.9z" class="s8"/><path d="M351.2 236.6L345.8 238.6L345.8 231.8L351.3 229.9z" class="s8"/><g transform="translate(320.1 186.8) scale(0.12 -0.1104)"><use href="#DejaVuSans-50"/><use href="#DejaVuSans-69" transform="translate(58.05 0)"/><use href="#DejaVuSans-65" transform="translate(85.84 0)"/><use href="#DejaVuSans-63" transform="translate(147.4 0)"/><use href="#DejaVuSans-65" transform="translate(202.3 0)"/><use href="#DejaVuSans-20" transform="translate(263.9 0)"/><use href="#DejaVuSans-32" transform="translate(295.7 0)"/></g><path d="M345.7 227.3L351.3 229.1L351.3 222.3L345.8 220.5z" class="s8"/><path d="M345.7 227.3L340.3 229.1L340.2 222.3L345.8 220.5z" class="s8"/><path d="M345.7 227.3L340.3 229.1L345.8 231L351.3 229.1z" class="s8"/><path d="M345.8 220.5L340.2 222.3L345.8 224.1L351.3 222.3z" class="s8"/><path d="M340.3 229.1L345.8 231L345.8 224.1L340.2 222.3z" class="s8"/><path d="M351.3 229.1L345.8 231L345.8 224.1L351.3 222.3z" class="s8"/><path d="M339.7 236.8L345.2 238.8L345.2 232L339.6 230.1z" class="s8"/><path d="M339.7 236.8L334.1 238.8L334 232L339.6 230.1z" class="s8"/><path d="M339.7 236.8L334.1 238.8L339.6 240.8L345.2 238.8z" class="s8"/><path d="M339.6 230.1L334 232L339.6 233.9L345.2 232z" class="s8"/><path d="M334.1 238.8L339.6 240.8L339.6 233.9L334 232z" class="s8"/><path d="M345.2 238.8L339.6 240.8L339.6 233.9L345.2 232z" class="s8"/><path d="M339.6 229.3L345.2 231.2L345.2 224.3L339.6 222.5z" class="s8"/><path d="M339.6 229.3L334 231.2L334 224.3L339.6 222.5z" class="s8"/><path d="M339.6 229.3L334 231.2L339.6 233.2L345.2 231.2z" class="s8"/><path d="M339.6 222.5L334 224.3L339.5 226.2L345.2 224.3z" class="s8"/><path d="M334 231.2L339.6 233.2L339.5 226.2L334 224.3z" class="s8"/><path d="M345.2 231.2L339.6 233.2L339.5 226.2L345.2 224.3z" class="s8"/><path d="M351.9 229.3L357.6 231.2L357.7 224.3L352 222.5z" class="s8"/><path d="M351.9 229.3L346.4 231.2L346.5 224.3L352 222.5z" class="s8"/><path d="M351.9 229.3L346.4 231.2L352.2 233.2L357.6 231.2z" class="s8"/><path d="M352 222.5L346.5 224.3L352.2 226.2L357.7 224.3z" class="s8"/><path d="M346.4 231.2L352.2 233.2L352.2 226.2L346.5 224.3z" class="s8"/><path d="M357.6 231.2L352.2 233.2L352.2 226.2L357.7 224.3z" class="s8"/><path d="M333.4 231.4L338.9 233.4L338.9 226.4L333.3 224.5z" class="s8"/><path d="M333.4 231.4L327.6 233.4L327.5 226.4L333.3 224.5z" class="s8"/><path d="M333.4 231.4L327.6 233.4L333.1 235.4L338.9 233.4z" class="s8"/><path d="M333.3 224.5L327.5 226.4L333.1 228.3L338.9 226.4z" class="s8"/><path d="M327.6 233.4L333.1 235.4L333.1 228.3L327.5 226.4z" class="s8"/><path d="M338.9 233.4L333.1 235.4L333.1 228.3L338.9 226.4z" class="s8"/><path d="M422.9 239.8L454.2 251.2L455.4 208.8L422.9 200" class="s0"/><path d="M422.9 239.8L391.6 251.2L390.4 208.8L422.9 200" class="s1"/><path d="M422.9 239.8L391.6 251.2L422.9 264.3L454.2 251.2" class="s2"/><g/><g/><g/><path d="M454.2 251.2L422.9 264.3" class="s3"/><path d="M391.6 251.2L422.9 264.3" class="s3"/><path d="M391.6 251.2L390.4 208.8" class="s3"/><path d="M419.8 233.1L425.4 235L425.4 228.2L419.8 226.3z" class="s9"/><path d="M419.8 233.1L414.2 235L414.2 228.2L419.8 226.3z" class="s9"/><path d="M419.8 233.1L414.2 235L419.8 237L425.4 235z" class="s9"/><path d="M419.8 226.3L414.2 228.2L419.7 230.1L425.4 228.2z" class="s9"/><path d="M414.2 235L419.8 237L419.7 230.1L414.2 228.2z" class="s9"/><path d="M425.4 235L419.8 237L419.7 230.1L425.4 228.2z" class="s9"/><g transform="translate(400.3 186.8) scale(0.12 -0.1104)"><use href="#DejaVuSans-50"/><use href="#DejaVuSans-69" transform="translate(58.05 0)"/><use href="#DejaVuSans-65" transform="translate(85.84 0)"/><use href="#DejaVuSans-63" transform="translate(147.4 0)"/><use href="#DejaVuSans-65" transform="translate(202.3 0)"/><use href="#DejaVuSans-20" transform="translate(263.9 0)"/><use href="#DejaVuSans-33" transform="translate(295.7 0)"/></g><path d="M432.1 233.1L437.8 235L437.9 228.2L432.1 226.3z" class="s9"/><path d="M432.1 233.1L426.6 235L426.6 228.2L432.1 226.3z" class="s9"/><path d="M432.1 233.1L426.6 235L432.3 237L437.8 235z" class="s9"/><path d="M432.1 226.3L426.6 228.2L432.4 230.1L437.9 228.2z" class="s9"/><path d="M426.6 235L432.3 237L432.4 230.1L426.6 228.2z" class="s9"/><path d="M437.8 235L432.3 237L432.4 230.1L437.9 228.2z" class="s9"/><path d="M413.6 235.2L419.1 237.2L419.1 230.3L413.5 228.4z" class="s9"/><path d="M413.6 235.2L407.8 237.2L407.7 230.3L413.5 228.4z" class="s9"/><path d="M413.6 235.2L407.8 237.2L413.3 239.3L419.1 237.2z" class="s9"/><path d="M413.5 228.4L407.7 230.3L413.3 232.3L419.1 230.3z" class="s9"/><path d="M407.8 237.2L413.3 239.3L413.3 232.3L407.7 230.3z" class="s9"/><path d="M419.1 237.2L413.3 239.3L413.3 232.3L419.1 230.3z" class="s9"/><path d="M426 235.2L431.7 237.2L431.7 230.3L426 228.4z" class="s9"/><path d="M426 235.2L420.4 237.2L420.4 230.3L426 228.4z" class="s9"/><path d="M426 235.2L420.4 237.2L426.1 239.3L431.7 237.2z" class="s9"/><path d="M426 228.4L420.4 230.3L426.1 232.3L431.7 230.3z" class="s9"/><path d="M420.4 237.2L426.1 239.3L426.1 232.3L420.4 230.3z" class="s9"/><path d="M431.7 237.2L426.1 239.3L426.1 232.3L431.7 230.3z" class="s9"/><path d="M342.7 356.7L374 368.1L375.2 325.7L342.7 316.9" class="s0"/><path d="M342.7 356.7L311.4 368.1L310.2 325.7L342.7 316.9" class="s1"/><path d="M342.7 356.7L311.4 368.1L342.7 381.2L374 368.1" class="s2"/><g/><g/><g/><path d="M374 368.1L342.7 381.2" class="s3"/><path d="M311.4 368.1L342.7 381.2" class="s3"/><path d="M311.4 368.1L310.2 325.7" class="s3"/><path d="M342.7 352.7L348.2 354.6L348.3 347.9L342.7 346z" class="s10"/><path d="M342.7 352.7L337.2 354.6L337.2 347.9L342.7 346z" class="s10"/><path d="M342.7 352.7L337.2 354.6L342.7 356.6L348.2 354.6z" class="s10"/><path d="M342.7 346L337.2 347.9L342.7 349.8L348.3 347.9z" class="s10"/><path d="M337.2 354.6L342.7 356.6L342.7 349.8L337.2 347.9z" class="s10"/><path d="M348.2 354.6L342.7 356.6L342.7 349.8L348.3 347.9z" class="s10"/><g transform="translate(320.1 303.8) scale(0.12 -0.1104)"><use href="#DejaVuSans-50"/><use href="#DejaVuSans-69" transform="translate(58.05 0)"/><use href="#DejaVuSans-65" transform="translate(85.84 0)"/><use href="#DejaVuSans-63" transform="translate(147.4 0)"/><use href="#DejaVuSans-65" transform="translate(202.3 0)"/><use href="#DejaVuSans-20" transform="translate(263.9 0)"/><use href="#DejaVuSans-34" transform="translate(295.7 0)"/></g><path d="M342.7 345.2L348.3 347.1L348.3 340.2L342.7 338.4z" class="s10"/><path d="M342.7 345.2L337.2 347.1L337.1 340.2L342.7 338.4z" class="s10"/><path d="M342.7 345.2L337.2 347.1L342.7 349L348.3 347.1z" class="s10"/><path d="M342.7 338.4L337.1 340.2L342.7 342.1L348.3 340.2z" class="s10"/><path d="M337.2 347.1L342.7 349L342.7 342.1L337.1 340.2z" class="s10"/><path d="M348.3 347.1L342.7 349L342.7 342.1L348.3 340.2z" class="s10"/><path d="M336.6 354.8L342.1 356.9L342.1 350L336.5 348.1z" class="s10"/><path d="M336.6 354.8L330.9 356.9L330.8 350L336.5 348.1z" class="s10"/><path d="M336.6 354.8L330.9 356.9L336.4 358.9L342.1 356.9z" class="s10"/><path d="M336.5 348.1L330.8 350L336.4 352L342.1 350z" class="s10"/><path d="M330.9 356.9L336.4 358.9L336.4 352L330.8 350z" class="s10"/><path d="M342.1 356.9L336.4 358.9L336.4 352L342.1 350z" class="s10"/><path d="M348.8 354.8L354.5 356.9L354.6 350L348.9 348.1z" class="s10"/><path d="M348.8 354.8L343.3 356.9L343.3 350L348.9 348.1z" class="s10"/><path d="M348.8 354.8L343.3 356.9L349 358.9L354.5 356.9z" class="s10"/><path d="M348.9 348.1L343.3 350L349 352L354.6 350z" class="s10"/><path d="M343.3 356.9L349 358.9L349 352L343.3 350z" class="s10"/><path d="M354.5 356.9L349 358.9L349 352L354.6 350z" class="s10"/><path d="M422.9 356.7L454.2 368.1L455.4 325.7L422.9 316.9" class="s0"/><path d="M422.9 356.7L391.6 368.1L390.4 325.7L422.9 316.9" class="s1"/><path d="M422.9 356.7L391.6 368.1L422.9 381.2L454.2 368.1" class="s2"/><g/><g/><g/><path d="M454.2 368.1L422.9 381.2" class="s3"/><path d="M391.6 368.1L422.9 381.2" class="s3"/><path d="M391.6 368.1L390.4 325.7" class="s3"/><path d="M419.8 353.8L425.4 355.7L425.4 348.9L419.8 347z" class="s11"/><path d="M419.8 353.8L414.3 355.7L414.2 348.9L419.8 347z" class="s11"/><path d="M419.8 353.8L414.3 355.7L419.8 357.8L425.4 355.7z" class="s11"/><path d="M419.8 347L414.2 348.9L419.8 350.9L425.4 348.9z" class="s11"/><path d="M414.3 355.7L419.8 357.8L419.8 350.9L414.2 348.9z" class="s11"/><path d="M425.4 355.7L419.8 357.8L419.8 350.9L425.4 348.9z" class="s11"/><g transform="translate(400.3 303.8) scale(0.12 -0.1104)"><use href="#DejaVuSans-50"/><use href="#DejaVuSans-69" transform="translate(58.05 0)"/><use href="#DejaVuSans-65" transform="translate(85.84 0)"/><use href="#DejaVuSans-63" transform="translate(147.4 0)"/><use href="#DejaVuSans-65" transform="translate(202.3 0)"/><use href="#DejaVuSans-20" transform="translate(263.9 0)"/><use href="#DejaVuSans-35" transform="translate(295.7 0)"/></g><path d="M419.8 346.3L425.4 348.2L425.4 341.3L419.8 339.4z" class="s11"/><path d="M419.8 346.3L414.2 348.2L414.1 341.3L419.8 339.4z" class="s11"/><path d="M419.8 346.3L414.2 348.2L419.7 350.1L425.4 348.2z" class="s11"/><path d="M419.8 339.4L414.1 341.3L419.7 343.1L425.4 341.3z" class="s11"/><path d="M414.2 348.2L419.7 350.1L419.7 343.1L414.1 341.3z" class="s11"/><path d="M425.4 348.2L419.7 350.1L419.7 343.1L425.4 341.3z" class="s11"/><path d="M426 356L431.7 358L431.7 351.1L426 349.1z" class="s11"/><path d="M426 356L420.4 358L420.4 351.1L426 349.1z" class="s11"/><path d="M426 356L420.4 358L426.1 360.1L431.7 358z" class="s11"/><path d="M426 349.1L420.4 351.1L426.1 353.1L431.7 351.1z" class="s11"/><path d="M420.4 358L426.1 360.1L426.1 353.1L420.4 351.1z" class="s11"/><path d="M431.7 358L426.1 360.1L426.1 353.1L431.7 351.1z" class="s11"/><path d="M426 348.4L431.7 350.3L431.8 343.3L426 341.5z" class="s11"/><path d="M426 348.4L420.4 350.3L420.4 343.3L426 341.5z" class="s11"/><path d="M426 348.4L420.4 350.3L426.1 352.3L431.7 350.3z" class="s11"/><path d="M426 341.5L420.4 343.3L426.1 345.3L431.8 343.3z" class="s11"/><path d="M420.4 350.3L426.1 352.3L426.1 345.3L420.4 343.3z" class="s11"/><path d="M431.7 350.3L426.1 352.3L426.1 345.3L431.8 343.3z" class="s11"/><g class="s12" transform="translate(346.6 34.38) scale(0.1 -0.1)"><use href="#DejaVuSans-Oblique-50"/><use href="#DejaVuSans-Oblique-69" transform="translate(60.3 0)"/><use href="#DejaVuSans-Oblique-65" transform="translate(88.09 0)"/><use href="#DejaVuSans-Oblique-63" transform="translate(149.6 0)"/><use href="#DejaVuSans-Oblique-65" transform="translate(204.6 0)"/><use href="#DejaVuSans-Oblique-73" transform="translate(266.1 0)"/></g></svg></div>
<div class="cap" style="left:409.2px;top:276.75px"><span><i>(b)</i> Step 2</span></div>
<div class="pn" style="left:749px;top:0px"><svg width="360" height="262" viewBox="-0.000 -0.681 612.766 445.957"><path d="M129.7 284.6L228.9 322.8L233.1 140.9L129 113.3" class="s0"/><path d="M129.7 284.6L63.7 309.5L59.7 131.3L129 113.3" class="s1"/><path d="M129.7 284.6L63.7 309.5L162.9 351.4L228.9 322.8" class="s2"/><path d="M228.9 322.8L162.9 351.4" class="s3"/><path d="M212.1 329.3L214.7 330.3" class="s3"/><g transform="translate(217.6 353.8) scale(0.1 -0.1)"><use href="#DejaVuSans-30"/></g><path d="M179.1 343.6L181.7 344.7" class="s3"/><g transform="translate(184.8 368.5) scale(0.1 -0.1)"><use href="#DejaVuSans-31"/></g><g transform="translate(217.4 390.6) scale(0.1 -0.1)"><use href="#DejaVuSans-58"/></g><path d="M63.7 309.5L162.9 351.4" class="s3"/><path d="M79.8 315.8L78.2 316.5" class="s3"/><g transform="translate(71.08 338.7) scale(0.1 -0.1)"><use href="#DejaVuSans-30"/></g><path d="M112.1 329.4L110.4 330.1" class="s3"/><g transform="translate(103.2 352.7) scale(0.1 -0.1)"><use href="#DejaVuSans-31"/></g><path d="M145.9 343.7L144.2 344.4" class="s3"/><g transform="translate(136.9 367.3) scale(0.1 -0.1)"><use href="#DejaVuSans-32"/></g><g transform="translate(92.67 379.9) scale(0.1 -0.1)"><use href="#DejaVuSans-59"/></g><path d="M63.7 309.5L59.7 131.3" class="s3"/><path d="M63.8 287.9L62.1 288.5" class="s3"/><g transform="translate(47.72 294.7) scale(0.1 -0.1)"><use href="#DejaVuSans-30"/></g><path d="M62.8 244.4L61.1 245" class="s3"/><g transform="translate(46.59 251.3) scale(0.1 -0.1)"><use href="#DejaVuSans-31"/></g><path d="M61.8 199.9L60.1 200.5" class="s3"/><g transform="translate(45.45 206.9) scale(0.1 -0.1)"><use href="#DejaVuSans-32"/></g><path d="M60.8 154.4L59.1 154.8" class="s3"/><g transform="translate(44.27 161.4) scale(0.1 -0.1)"><use href="#DejaVuSans-33"/></g><g transform="translate(19.96 222.6) scale(0.1 -0.1)"><use href="#DejaVuSans-5a"/></g><path d="M129.7 284.6L129 113.3" class="s4"/><path d="M228.9 322.8L233.1 140.9" class="s4"/><path d="M63.7 309.5L59.7 131.3" class="s4"/><path d="M162.9 351.4L163.8 161.7" class="s4"/><path d="M129.7 284.6L228.9 322.8" class="s4"/><path d="M129 113.3L233.1 140.9" class="s4"/><path d="M63.7 309.5L162.9 351.4" class="s4"/><path d="M59.7 131.3L163.8 161.7" class="s4"/><path d="M129.7 284.6L63.7 309.5" class="s4"/><path d="M129 113.3L59.7 131.3" class="s4"/><path d="M228.9 322.8L162.9 351.4" class="s4"/><path d="M233.1 140.9L163.8 161.7" class="s4"/><path d="M129.7 283.7L158.1 294.6L158.3 256.7L129.5 246.4z" class="s5"/><path d="M129.7 283.7L100.6 294.6L100.1 256.7L129.5 246.4z" class="s5"/><path d="M129.7 283.7L100.6 294.6L129.1 306L158.1 294.6z" class="s5"/><path d="M129.5 246.4L100.1 256.7L128.9 267.4L158.3 256.7z" class="s5"/><path d="M100.6 294.6L129.1 306L128.9 267.4L100.1 256.7z" class="s5"/><path d="M158.1 294.6L129.1 306L128.9 267.4L158.3 256.7z" class="s5"/><g transform="translate(71.03 87.52) scale(0.12 -0.1248)"><use href="#DejaVuSans-32"/><use href="#DejaVuSans-78" transform="translate(63.62 0)"/><use href="#DejaVuSans-33" transform="translate(122.8 0)"/><use href="#DejaVuSans-78" transform="translate(186.4 0)"/><use href="#DejaVuSans-34" transform="translate(245.6 0)"/><use href="#DejaVuSans-2f" transform="translate(309.2 0)"/><use href="#DejaVuSans-70" transform="translate(342.9 0)"/><use href="#DejaVuSans-75" transform="translate(406.4 0)"/><use href="#DejaVuSans-7a" transform="translate(469.8 0)"/><use href="#DejaVuSans-7a" transform="translate(522.3 0)"/><use href="#DejaVuSans-6c" transform="translate(574.8 0)"/><use href="#DejaVuSans-65" transform="translate(602.5 0)"/><use href="#DejaVuSans-5f" transform="translate(664.1 0)"/><use href="#DejaVuSans-68" transform="translate(714.1 0)"/><use href="#DejaVuSans-61" transform="translate(777.4 0)"/><use href="#DejaVuSans-72" transform="translate(838.7 0)"/><use href="#DejaVuSans-64" transform="translate(878.1 0)"/><use href="#DejaVuSans-5f" transform="translate(941.6 0)"/><use href="#DejaVuSans-30" transform="translate(991.6 0)"/><use href="#DejaVuSans-30" transform="translate(1055 0)"/><use href="#DejaVuSans-35" transform="translate(1119 0)"/></g><g transform="translate(109.3 101.3) scale(0.12 -0.1248)"><use href="#DejaVuSans-31"/><use href="#DejaVuSans-30" transform="translate(63.62 0)"/><use href="#DejaVuSans-2f" transform="translate(127.2 0)"/><use href="#DejaVuSans-32" transform="translate(160.9 0)"/><use href="#DejaVuSans-34" transform="translate(224.6 0)"/><use href="#DejaVuSans-20" transform="translate(288.2 0)"/><use href="#DejaVuSans-63" transform="translate(320 0)"/><use href="#DejaVuSans-65" transform="translate(375 0)"/><use href="#DejaVuSans-6c" transform="translate(436.5 0)"/><use href="#DejaVuSans-6c" transform="translate(464.3 0)"/><use href="#DejaVuSans-73" transform="translate(492 0)"/></g><path d="M129.5 242.2L158.3 252.5L158.4 213.6L129.3 204.1z" class="s5"/><path d="M129.5 242.2L100.1 252.5L99.6 213.6L129.3 204.1z" class="s5"/><path d="M129.5 242.2L100.1 252.5L128.9 263.1L158.3 252.5z" class="s5"/><path d="M129.3 204.1L99.6 213.6L128.7 223.6L158.4 213.6z" class="s5"/><path d="M100.1 252.5L128.9 263.1L128.7 223.6L99.6 213.6z" class="s5"/><path d="M158.3 252.5L128.9 263.1L128.7 223.6L158.4 213.6z" class="s5"/><path d="M129.3 199.8L158.4 209.3L158.6 169.5L129.2 160.8z" class="s5"/><path d="M129.3 199.8L99.6 209.3L99.1 169.5L129.2 160.8z" class="s5"/><path d="M129.3 199.8L99.6 209.3L128.7 219.2L158.4 209.3z" class="s5"/><path d="M129.2 160.8L99.1 169.5L128.5 178.7L158.6 169.5z" class="s5"/><path d="M99.6 209.3L128.7 219.2L128.5 178.7L99.1 169.5z" class="s5"/><path d="M158.4 209.3L128.7 219.2L128.5 178.7L158.6 169.5z" class="s5"/><path d="M129 308.6L158.7 320.6L158.9 281.2L128.8 269.9z" class="s13"/><path d="M129 308.6L98.5 320.6L98 281.2L128.8 269.9z" class="s13"/><path d="M129 308.6L98.5 320.6L128.3 333.1L158.7 320.6z" class="s13"/><path d="M128.8 269.9L98 281.2L128.1 293L158.9 281.2z" class="s13"/><path d="M98.5 320.6L128.3 333.1L128.1 293L98 281.2z" class="s13"/><path d="M158.7 320.6L128.3 333.1L128.1 293L158.9 281.2z" class="s13"/><path d="M194.5 308.6L225.6 320.6L226.5 281.2L195 269.9z" class="s13"/><path d="M194.5 308.6L165.4 320.6L165.6 281.2L195 269.9z" class="s13"/><path d="M194.5 308.6L165.4 320.6L196.6 333.1L225.6 320.6z" class="s13"/><path d="M195 269.9L165.6 281.2L197.2 293L226.5 281.2z" class="s13"/><path d="M165.4 320.6L196.6 333.1L197.2 293L165.6 281.2z" class="s13"/><path d="M225.6 320.6L196.6 333.1L197.2 293L226.5 281.2z" class="s13"/><path d="M195.1 265.5L226.6 276.7L227.5 236.4L195.6 225.9z" class="s14"/><path d="M195.1 265.5L165.7 276.7L165.9 236.4L195.6 225.9z" class="s14"/><path d="M195.1 265.5L165.7 276.7L197.2 288.4L226.6 276.7z" class="s14"/><path d="M195.6 225.9L165.9 236.4L197.8 247.3L227.5 236.4z" class="s14"/><path d="M165.7 276.7L197.2 288.4L197.8 247.3L165.9 236.4z" class="s14"/><path d="M226.6 276.7L197.2 288.4L197.8 247.3L227.5 236.4z" class="s14"/><path d="M162.1 322L193.3 334.5L193.8 294.3L162.3 282.5z" class="s13"/><path d="M162.1 322L131.7 334.5L131.5 294.3L162.3 282.5z" class="s13"/><path d="M162.1 322L131.7 334.5L162.8 347.6L193.3 334.5z" class="s13"/><path d="M162.3 282.5L131.5 294.3L163 306.7L193.8 294.3z" class="s13"/><path d="M131.7 334.5L162.8 347.6L163 306.7L131.5 294.3z" class="s13"/><path d="M193.3 334.5L162.8 347.6L163 306.7L193.8 294.3z" class="s13"/><path d="M195.7 221.4L227.6 231.8L228.5 190.4L196.2 180.8z" class="s14"/><path d="M195.7 221.4L165.9 231.8L166.1 190.4L196.2 180.8z" class="s14"/><path d="M195.7 221.4L165.9 231.8L197.9 242.7L227.6 231.8z" class="s14"/><path d="M196.2 180.8L166.1 190.4L198.5 200.5L228.5 190.4z" class="s14"/><path d="M165.9 231.8L197.9 242.7L198.5 200.5L166.1 190.4z" class="s14"/><path d="M227.6 231.8L197.9 242.7L198.5 200.5L228.5 190.4z" class="s14"/><path d="M162.3 278L193.9 289.8L194.4 248.5L162.5 237.5z" class="s14"/><path d="M162.3 278L131.5 289.8L131.3 248.5L162.5 237.5z" class="s14"/><path d="M162.3 278L131.5 289.8L163.1 302L193.9 289.8z" class="s14"/><path d="M162.5 237.5L131.3 248.5L163.3 260L194.4 248.5z" class="s14"/><path d="M131.5 289.8L163.1 302L163.3 260L131.3 248.5z" class="s14"/><path d="M193.9 289.8L163.1 302L163.3 260L194.4 248.5z" class="s14"/><path d="M162.5 233L194.5 243.9L195.1 201.6L162.7 191.5z" class="s14"/><path d="M162.5 233L131.3 243.9L131.2 201.6L162.7 191.5z" class="s14"/><path d="M162.5 233L131.3 243.9L163.3 255.3L194.5 243.9z" class="s14"/><path d="M162.7 191.5L131.2 201.6L163.5 212.2L195.1 201.6z" class="s14"/><path d="M131.3 243.9L163.3 255.3L163.5 212.2L131.2 201.6z" class="s14"/><path d="M194.5 243.9L163.3 255.3L163.5 212.2L195.1 201.6z" class="s14"/><path d="M342.7 123.5L374 134.9L375.2 92.6L342.7 83.7" class="s0"/><path d="M342.7 123.5L311.4 134.9L310.2 92.6L342.7 83.7" class="s1"/><path d="M342.7 123.5L311.4 134.9L342.7 148L374 134.9" class="s2"/><g/><g/><g/><path d="M374 134.9L342.7 148" class="s3"/><path d="M311.4 134.9L342.7 148" class="s3"/><path d="M311.4 134.9L310.2 92.6" class="s3"/><path d="M342.7 125.8L348.7 128L348.7 120.9L342.7 118.8z" class="s6"/><path d="M342.7 125.8L336.8 128L336.7 120.9L342.7 118.8z" class="s6"/><path d="M342.7 125.8L336.8 128L342.7 130.2L348.7 128z" class="s6"/><path d="M342.7 118.8L336.7 120.9L342.7 123.1L348.7 120.9z" class="s6"/><path d="M336.8 128L342.7 130.2L342.7 123.1L336.7 120.9z" class="s6"/><path d="M348.7 128L342.7 130.2L342.7 123.1L348.7 120.9z" class="s6"/><g transform="translate(333.5 122.7) scale(0.273 -0.273)"><use href="#DejaVuSans-2705"/></g><g transform="translate(289.8 70.58) scale(0.12 -0.1104)"><use href="#DejaVuSans-50"/><use href="#DejaVuSans-69" transform="translate(58.05 0)"/><use href="#DejaVuSans-65" transform="translate(85.84 0)"/><use href="#DejaVuSans-63" transform="translate(147.4 0)"/><use href="#DejaVuSans-65" transform="translate(202.3 0)"/><use href="#DejaVuSans-20" transform="translate(263.9 0)"/><use href="#DejaVuSans-30" transform="translate(295.7 0)"/><use href="#DejaVuSans-20" transform="translate(359.3 0)"/><use href="#DejaVuSans-28" transform="translate(391.1 0)"/><use href="#DejaVuSans-50" transform="translate(430.1 0)"/><use href="#DejaVuSans-4c" transform="translate(490.4 0)"/><use href="#DejaVuSans-41" transform="translate(548.3 0)"/><use href="#DejaVuSans-43" transform="translate(615 0)"/><use href="#DejaVuSans-45" transform="translate(684.8 0)"/><use href="#DejaVuSans-44" transform="translate(748 0)"/><use href="#DejaVuSans-29" transform="translate(825 0)"/></g><path d="M342.7 118L348.7 120.1L348.7 112.9L342.7 110.9z" class="s6"/><path d="M342.7 118L336.7 120.1L336.7 112.9L342.7 110.9z" class="s6"/><path d="M342.7 118L336.7 120.1L342.7 122.3L348.7 120.1z" class="s6"/><path d="M342.7 110.9L336.7 112.9L342.7 115L348.7 112.9z" class="s6"/><path d="M336.7 120.1L342.7 122.3L342.7 115L336.7 112.9z" class="s6"/><path d="M348.7 120.1L342.7 122.3L342.7 115L348.7 112.9z" class="s6"/><path d="M342.7 110.1L348.8 112.1L348.8 104.8L342.7 102.9z" class="s6"/><path d="M342.7 110.1L336.7 112.1L336.6 104.8L342.7 102.9z" class="s6"/><path d="M342.7 110.1L336.7 112.1L342.7 114.2L348.8 112.1z" class="s6"/><path d="M342.7 102.9L336.6 104.8L342.7 106.8L348.8 104.8z" class="s6"/><path d="M336.7 112.1L342.7 114.2L342.7 106.8L336.6 104.8z" class="s6"/><path d="M348.8 112.1L342.7 114.2L342.7 106.8L348.8 104.8z" class="s6"/><path d="M422.9 123.5L454.2 134.9L455.4 92.6L422.9 83.7" class="s0"/><path d="M422.9 123.5L391.6 134.9L390.4 92.6L422.9 83.7" class="s1"/><path d="M422.9 123.5L391.6 134.9L422.9 148L454.2 134.9" class="s2"/><g/><g/><g/><path d="M454.2 134.9L422.9 148" class="s3"/><path d="M391.6 134.9L422.9 148" class="s3"/><path d="M391.6 134.9L390.4 92.6" class="s3"/><path d="M416.7 117.9L422.3 119.9L422.3 113L416.7 111.1z" class="s7"/><path d="M416.7 117.9L411 119.9L411 113L416.7 111.1z" class="s7"/><path d="M416.7 117.9L411 119.9L416.6 121.9L422.3 119.9z" class="s7"/><path d="M416.7 111.1L411 113L416.5 114.9L422.3 113z" class="s7"/><path d="M411 119.9L416.6 121.9L416.5 114.9L411 113z" class="s7"/><path d="M422.3 119.9L416.6 121.9L416.5 114.9L422.3 113z" class="s7"/><g transform="translate(413.7 122.7) scale(0.273 -0.273)"><use href="#DejaVuSans-2705"/></g><g transform="translate(370 70.58) scale(0.12 -0.1104)"><use href="#DejaVuSans-50"/><use href="#DejaVuSans-69" transform="translate(58.05 0)"/><use href="#DejaVuSans-65" transform="translate(85.84 0)"/><use href="#DejaVuSans-63" transform="translate(147.4 0)"/><use href="#DejaVuSans-65" transform="translate(202.3 0)"/><use href="#DejaVuSans-20" transform="translate(263.9 0)"/><use href="#DejaVuSans-31" transform="translate(295.7 0)"/><use href="#DejaVuSans-20" transform="translate(359.3 0)"/><use href="#DejaVuSans-28" transform="translate(391.1 0)"/><use href="#DejaVuSans-50" transform="translate(430.1 0)"/><use href="#DejaVuSans-4c" transform="translate(490.4 0)"/><use href="#DejaVuSans-41" transform="translate(548.3 0)"/><use href="#DejaVuSans-43" transform="translate(615 0)"/><use href="#DejaVuSans-45" transform="translate(684.8 0)"/><use href="#DejaVuSans-44" transform="translate(748 0)"/><use href="#DejaVuSans-29" transform="translate(825 0)"/></g><path d="M429.1 117.9L434.7 119.9L434.8 113L429.1 111.1z" class="s7"/><path d="M429.1 117.9L423.5 119.9L423.5 113L429.1 111.1z" class="s7"/><path d="M429.1 117.9L423.5 119.9L429.2 121.9L434.7 119.9z" class="s7"/><path d="M429.1 111.1L423.5 113L429.3 114.9L434.8 113z" class="s7"/><path d="M423.5 119.9L429.2 121.9L429.3 114.9L423.5 113z" class="s7"/><path d="M434.7 119.9L429.2 121.9L429.3 114.9L434.8 113z" class="s7"/><path d="M422.9 120.1L428.6 122.1L428.6 115.1L422.9 113.2z" class="s7"/><path d="M422.9 120.1L417.2 122.1L417.2 115.1L422.9 113.2z" class="s7"/><path d="M422.9 120.1L417.2 122.1L422.9 124.2L428.6 122.1z" class="s7"/><path d="M422.9 113.2L417.2 115.1L422.9 117.1L428.6 115.1z" class="s7"/><path d="M417.2 122.1L422.9 124.2L422.9 117.1L417.2 115.1z" class="s7"/><path d="M428.6 122.1L422.9 124.2L422.9 117.1L428.6 115.1z" class="s7"/><path d="M342.7 239.8L374 251.2L375.2 208.8L342.7 200" class="s0"/><path d="M342.7 239.8L311.4 251.2L310.2 208.8L342.7 200" class="s1"/><path d="M342.7 239.8L311.4 251.2L342.7 264.3L374 251.2" class="s2"/><g/><g/><g/><path d="M374 251.2L342.7 264.3" class="s3"/><path d="M311.4 251.2L342.7 264.3" class="s3"/><path d="M311.4 251.2L310.2 208.8" class="s3"/><path d="M345.7 234.7L351.2 236.6L351.3 229.9L345.7 228z" class="s8"/><path d="M345.7 234.7L340.3 236.6L340.3 229.9L345.7 228z" class="s8"/><path d="M345.7 234.7L340.3 236.6L345.8 238.6L351.2 236.6z" class="s8"/><path d="M345.7 228L340.3 229.9L345.8 231.8L351.3 229.9z" class="s8"/><path d="M340.3 236.6L345.8 238.6L345.8 231.8L340.3 229.9z" class="s8"/><path d="M351.2 236.6L345.8 238.6L345.8 231.8L351.3 229.9z" class="s8"/><g transform="translate(320.1 186.8) scale(0.12 -0.1104)"><use href="#DejaVuSans-50"/><use href="#DejaVuSans-69" transform="translate(58.05 0)"/><use href="#DejaVuSans-65" transform="translate(85.84 0)"/><use href="#DejaVuSans-63" transform="translate(147.4 0)"/><use href="#DejaVuSans-65" transform="translate(202.3 0)"/><use href="#DejaVuSans-20" transform="translate(263.9 0)"/><use href="#DejaVuSans-32" transform="translate(295.7 0)"/></g><path d="M345.7 227.3L351.3 229.1L351.3 222.3L345.8 220.5z" class="s8"/><path d="M345.7 227.3L340.3 229.1L340.2 222.3L345.8 220.5z" class="s8"/><path d="M345.7 227.3L340.3 229.1L345.8 231L351.3 229.1z" class="s8"/><path d="M345.8 220.5L340.2 222.3L345.8 224.1L351.3 222.3z" class="s8"/><path d="M340.3 229.1L345.8 231L345.8 224.1L340.2 222.3z" class="s8"/><path d="M351.3 229.1L345.8 231L345.8 224.1L351.3 222.3z" class="s8"/><path d="M339.7 236.8L345.2 238.8L345.2 232L339.6 230.1z" class="s8"/><path d="M339.7 236.8L334.1 238.8L334 232L339.6 230.1z" class="s8"/><path d="M339.7 236.8L334.1 238.8L339.6 240.8L345.2 238.8z" class="s8"/><path d="M339.6 230.1L334 232L339.6 233.9L345.2 232z" class="s8"/><path d="M334.1 238.8L339.6 240.8L339.6 233.9L334 232z" class="s8"/><path d="M345.2 238.8L339.6 240.8L339.6 233.9L345.2 232z" class="s8"/><path d="M339.6 229.3L345.2 231.2L345.2 224.3L339.6 222.5z" class="s8"/><path d="M339.6 229.3L334 231.2L334 224.3L339.6 222.5z" class="s8"/><path d="M339.6 229.3L334 231.2L339.6 233.2L345.2 231.2z" class="s8"/><path d="M339.6 222.5L334 224.3L339.5 226.2L345.2 224.3z" class="s8"/><path d="M334 231.2L339.6 233.2L339.5 226.2L334 224.3z" class="s8"/><path d="M345.2 231.2L339.6 233.2L339.5 226.2L345.2 224.3z" class="s8"/><path d="M351.9 229.3L357.6 231.2L357.7 224.3L352 222.5z" class="s8"/><path d="M351.9 229.3L346.4 231.2L346.5 224.3L352 222.5z" class="s8"/><path d="M351.9 229.3L346.4 231.2L352.2 233.2L357.6 231.2z" class="s8"/><path d="M352 222.5L346.5 224.3L352.2 226.2L357.7 224.3z" class="s8"/><path d="M346.4 231.2L352.2 233.2L352.2 226.2L346.5 224.3z" class="s8"/><path d="M357.6 231.2L352.2 233.2L352.2 226.2L357.7 224.3z" class="s8"/><path d="M333.4 231.4L338.9 233.4L338.9 226.4L333.3 224.5z" class="s8"/><path d="M333.4 231.4L327.6 233.4L327.5 226.4L333.3 224.5z" class="s8"/><path d="M333.4 231.4L327.6 233.4L333.1 235.4L338.9 233.4z" class="s8"/><path d="M333.3 224.5L327.5 226.4L333.1 228.3L338.9 226.4z" class="s8"/><path d="M327.6 233.4L333.1 235.4L333.1 228.3L327.5 226.4z" class="s8"/><path d="M338.9 233.4L333.1 235.4L333.1 228.3L338.9 226.4z" class="s8"/><path d="M422.9 239.8L454.2 251.2L455.4 208.8L422.9 200" class="s0"/><path d="M422.9 239.8L391.6 251.2L390.4 208.8L422.9 200" class="s1"/><path d="M422.9 239.8L391.6 251.2L422.9 264.3L454.2 251.2" class="s2"/><g/><g/><g/><path d="M454.2 251.2L422.9 264.3" class="s3"/><path d="M391.6 251.2L422.9 264.3" class="s3"/><path d="M391.6 251.2L390.4 208.8" class="s3"/><path d="M419.8 233.1L425.4 235L425.4 228.2L419.8 226.3z" class="s9"/><path d="M419.8 233.1L414.2 235L414.2 228.2L419.8 226.3z" class="s9"/><path d="M419.8 233.1L414.2 235L419.8 237L425.4 235z" class="s9"/><path d="M419.8 226.3L414.2 228.2L419.7 230.1L425.4 228.2z" class="s9"/><path d="M414.2 235L419.8 237L419.7 230.1L414.2 228.2z" class="s9"/><path d="M425.4 235L419.8 237L419.7 230.1L425.4 228.2z" class="s9"/><g transform="translate(400.3 186.8) scale(0.12 -0.1104)"><use href="#DejaVuSans-50"/><use href="#DejaVuSans-69" transform="translate(58.05 0)"/><use href="#DejaVuSans-65" transform="translate(85.84 0)"/><use href="#DejaVuSans-63" transform="translate(147.4 0)"/><use href="#DejaVuSans-65" transform="translate(202.3 0)"/><use href="#DejaVuSans-20" transform="translate(263.9 0)"/><use href="#DejaVuSans-33" transform="translate(295.7 0)"/></g><path d="M432.1 233.1L437.8 235L437.9 228.2L432.1 226.3z" class="s9"/><path d="M432.1 233.1L426.6 235L426.6 228.2L432.1 226.3z" class="s9"/><path d="M432.1 233.1L426.6 235L432.3 237L437.8 235z" class="s9"/><path d="M432.1 226.3L426.6 228.2L432.4 230.1L437.9 228.2z" class="s9"/><path d="M426.6 235L432.3 237L432.4 230.1L426.6 228.2z" class="s9"/><path d="M437.8 235L432.3 237L432.4 230.1L437.9 228.2z" class="s9"/><path d="M413.6 235.2L419.1 237.2L419.1 230.3L413.5 228.4z" class="s9"/><path d="M413.6 235.2L407.8 237.2L407.7 230.3L413.5 228.4z" class="s9"/><path d="M413.6 235.2L407.8 237.2L413.3 239.3L419.1 237.2z" class="s9"/><path d="M413.5 228.4L407.7 230.3L413.3 232.3L419.1 230.3z" class="s9"/><path d="M407.8 237.2L413.3 239.3L413.3 232.3L407.7 230.3z" class="s9"/><path d="M419.1 237.2L413.3 239.3L413.3 232.3L419.1 230.3z" class="s9"/><path d="M426 235.2L431.7 237.2L431.7 230.3L426 228.4z" class="s9"/><path d="M426 235.2L420.4 237.2L420.4 230.3L426 228.4z" class="s9"/><path d="M426 235.2L420.4 237.2L426.1 239.3L431.7 237.2z" class="s9"/><path d="M426 228.4L420.4 230.3L426.1 232.3L431.7 230.3z" class="s9"/><path d="M420.4 237.2L426.1 239.3L426.1 232.3L420.4 230.3z" class="s9"/><path d="M431.7 237.2L426.1 239.3L426.1 232.3L431.7 230.3z" class="s9"/><path d="M342.7 356.7L374 368.1L375.2 325.7L342.7 316.9" class="s0"/><path d="M342.7 356.7L311.4 368.1L310.2 325.7L342.7 316.9" class="s1"/><path d="M342.7 356.7L311.4 368.1L342.7 381.2L374 368.1" class="s2"/><g/><g/><g/><path d="M374 368.1L342.7 381.2" class="s3"/><path d="M311.4 368.1L342.7 381.2" class="s3"/><path d="M311.4 368.1L310.2 325.7" class="s3"/><path d="M342.7 352.7L348.2 354.6L348.3 347.9L342.7 346z" class="s10"/><path d="M342.7 352.7L337.2 354.6L337.2 347.9L342.7 346z" class="s10"/><path d="M342.7 352.7L337.2 354.6L342.7 356.6L348.2 354.6z" class="s10"/><path d="M342.7 346L337.2 347.9L342.7 349.8L348.3 347.9z" class="s10"/><path d="M337.2 354.6L342.7 356.6L342.7 349.8L337.2 347.9z" class="s10"/><path d="M348.2 354.6L342.7 356.6L342.7 349.8L348.3 347.9z" class="s10"/><g transform="translate(320.1 303.8) scale(0.12 -0.1104)"><use href="#DejaVuSans-50"/><use href="#DejaVuSans-69" transform="translate(58.05 0)"/><use href="#DejaVuSans-65" transform="translate(85.84 0)"/><use href="#DejaVuSans-63" transform="translate(147.4 0)"/><use href="#DejaVuSans-65" transform="translate(202.3 0)"/><use href="#DejaVuSans-20" transform="translate(263.9 0)"/><use href="#DejaVuSans-34" transform="translate(295.7 0)"/></g><path d="M342.7 345.2L348.3 347.1L348.3 340.2L342.7 338.4z" class="s10"/><path d="M342.7 345.2L337.2 347.1L337.1 340.2L342.7 338.4z" class="s10"/><path d="M342.7 345.2L337.2 347.1L342.7 349L348.3 347.1z" class="s10"/><path d="M342.7 338.4L337.1 340.2L342.7 342.1L348.3 340.2z" class="s10"/><path d="M337.2 347.1L342.7 349L342.7 342.1L337.1 340.2z" class="s10"/><path d="M348.3 347.1L342.7 349L342.7 342.1L348.3 340.2z" class="s10"/><path d="M336.6 354.8L342.1 356.9L342.1 350L336.5 348.1z" class="s10"/><path d="M336.6 354.8L330.9 356.9L330.8 350L336.5 348.1z" class="s10"/><path d="M336.6 354.8L330.9 356.9L336.4 358.9L342.1 356.9z" class="s10"/><path d="M336.5 348.1L330.8 350L336.4 352L342.1 350z" class="s10"/><path d="M330.9 356.9L336.4 358.9L336.4 352L330.8 350z" class="s10"/><path d="M342.1 356.9L336.4 358.9L336.4 352L342.1 350z" class="s10"/><path d="M348.8 354.8L354.5 356.9L354.6 350L348.9 348.1z" class="s10"/><path d="M348.8 354.8L343.3 356.9L343.3 350L348.9 348.1z" class="s10"/><path d="M348.8 354.8L343.3 356.9L349 358.9L354.5 356.9z" class="s10"/><path d="M348.9 348.1L343.3 350L349 352L354.6 350z" class="s10"/><path d="M343.3 356.9L349 358.9L349 352L343.3 350z" class="s10"/><path d="M354.5 356.9L349 358.9L349 352L354.6 350z" class="s10"/><path d="M422.9 356.7L454.2 368.1L455.4 325.7L422.9 316.9" class="s0"/><path d="M422.9 356.7L391.6 368.1L390.4 325.7L422.9 316.9" class="s1"/><path d="M422.9 356.7L391.6 368.1L422.9 381.2L454.2 368.1" class="s2"/><g/><g/><g/><path d="M454.2 368.1L422.9 381.2" class="s3"/><path d="M391.6 368.1L422.9 381.2" class="s3"/><path d="M391.6 368.1L390.4 325.7" class="s3"/><path d="M419.8 353.8L425.4 355.7L425.4 348.9L419.8 347z" class="s11"/><path d="M419.8 353.8L414.3 355.7L414.2 348.9L419.8 347z" class="s11"/><path d="M419.8 353.8L414.3 355.7L419.8 357.8L425.4 355.7z" class="s11"/><path d="M419.8 347L414.2 348.9L419.8 350.9L425.4 348.9z" class="s11"/><path d="M414.3 355.7L419.8 357.8L419.8 350.9L414.2 348.9z" class="s11"/><path d="M425.4 355.7L419.8 357.8L419.8 350.9L425.4 348.9z" class="s11"/><g transform="translate(413.7 355.9) scale(0.273 -0.273)"><use href="#DejaVuSans-2705"/></g><g transform="translate(370 303.8) scale(0.12 -0.1104)"><use href="#DejaVuSans-50"/><use href="#DejaVuSans-69" transform="translate(58.05 0)"/><use href="#DejaVuSans-65" transform="translate(85.84 0)"/><use href="#DejaVuSans-63" transform="translate(147.4 0)"/><use href="#DejaVuSans-65" transform="translate(202.3 0)"/><use href="#DejaVuSans-20" transform="translate(263.9 0)"/><use href="#DejaVuSans-35" transform="translate(295.7 0)"/><use href="#DejaVuSans-20" transform="translate(359.3 0)"/><use href="#DejaVuSans-28" transform="translate(391.1 0)"/><use href="#DejaVuSans-50" transform="translate(430.1 0)"/><use href="#DejaVuSans-4c" transform="translate(490.4 0)"/><use href="#DejaVuSans-41" transform="translate(548.3 0)"/><use href="#DejaVuSans-43" transform="translate(615 0)"/><use href="#DejaVuSans-45" transform="translate(684.8 0)"/><use href="#DejaVuSans-44" transform="translate(748 0)"/><use href="#DejaVuSans-29" transform="translate(825 0)"/></g><path d="M419.8 346.3L425.4 348.2L425.4 341.3L419.8 339.4z" class="s11"/><path d="M419.8 346.3L414.2 348.2L414.1 341.3L419.8 339.4z" class="s11"/><path d="M419.8 346.3L414.2 348.2L419.7 350.1L425.4 348.2z" class="s11"/><path d="M419.8 339.4L414.1 341.3L419.7 343.1L425.4 341.3z" class="s11"/><path d="M414.2 348.2L419.7 350.1L419.7 343.1L414.1 341.3z" class="s11"/><path d="M425.4 348.2L419.7 350.1L419.7 343.1L425.4 341.3z" class="s11"/><path d="M426 356L431.7 358L431.7 351.1L426 349.1z" class="s11"/><path d="M426 356L420.4 358L420.4 351.1L426 349.1z" class="s11"/><path d="M426 356L420.4 358L426.1 360.1L431.7 358z" class="s11"/><path d="M426 349.1L420.4 351.1L426.1 353.1L431.7 351.1z" class="s11"/><path d="M420.4 358L426.1 360.1L426.1 353.1L420.4 351.1z" class="s11"/><path d="M431.7 358L426.1 360.1L426.1 353.1L431.7 351.1z" class="s11"/><path d="M426 348.4L431.7 350.3L431.8 343.3L426 341.5z" class="s11"/><path d="M426 348.4L420.4 350.3L420.4 343.3L426 341.5z" class="s11"/><path d="M426 348.4L420.4 350.3L426.1 352.3L431.7 350.3z" class="s11"/><path d="M426 341.5L420.4 343.3L426.1 345.3L431.8 343.3z" class="s11"/><path d="M420.4 350.3L426.1 352.3L426.1 345.3L420.4 343.3z" class="s11"/><path d="M431.7 350.3L426.1 352.3L426.1 345.3L431.8 343.3z" class="s11"/><g class="s12" transform="translate(346.6 34.38) scale(0.1 -0.1)"><use href="#DejaVuSans-Oblique-50"/><use href="#DejaVuSans-Oblique-69" transform="translate(60.3 0)"/><use href="#DejaVuSans-Oblique-65" transform="translate(88.09 0)"/><use href="#DejaVuSans-Oblique-63" transform="translate(149.6 0)"/><use href="#DejaVuSans-Oblique-65" transform="translate(204.6 0)"/><use href="#DejaVuSans-Oblique-73" transform="translate(266.1 0)"/></g></svg></div>
<div class="cap" style="left:783.5px;top:276.75px"><span><i>(c)</i> Step 3</span></div>
<div class="pn" style="left:1123px;top:0px"><svg width="360" height="262" viewBox="-0.000 -0.681 612.766 445.957"><path d="M129.7 284.6L228.9 322.8L233.1 140.9L129 113.3" class="s0"/><path d="M129.7 284.6L63.7 309.5L59.7 131.3L129 113.3" class="s1"/><path d="M129.7 284.6L63.7 309.5L162.9 351.4L228.9 322.8" class="s2"/><path d="M228.9 322.8L162.9 351.4" class="s3"/><path d="M212.1 329.3L214.7 330.3" class="s3"/><g transform="translate(217.6 353.8) scale(0.1 -0.1)"><use href="#DejaVuSans-30"/></g><path d="M179.1 343.6L181.7 344.7" class="s3"/><g transform="translate(184.8 368.5) scale(0.1 -0.1)"><use href="#DejaVuSans-31"/></g><g transform="translate(217.4 390.6) scale(0.1 -0.1)"><use href="#DejaVuSans-58"/></g><path d="M63.7 309.5L162.9 351.4" class="s3"/><path d="M79.8 315.8L78.2 316.5" class="s3"/><g transform="translate(71.08 338.7) scale(0.1 -0.1)"><use href="#DejaVuSans-30"/></g><path d="M112.1 329.4L110.4 330.1" class="s3"/><g transform="translate(103.2 352.7) scale(0.1 -0.1)"><use href="#DejaVuSans-31"/></g><path d="M145.9 343.7L144.2 344.4" class="s3"/><g transform="translate(136.9 367.3) scale(0.1 -0.1)"><use href="#DejaVuSans-32"/></g><g transform="translate(92.67 379.9) scale(0.1 -0.1)"><use href="#DejaVuSans-59"/></g><path d="M63.7 309.5L59.7 131.3" class="s3"/><path d="M63.8 287.9L62.1 288.5" class="s3"/><g transform="translate(47.72 294.7) scale(0.1 -0.1)"><use href="#DejaVuSans-30"/></g><path d="M62.8 244.4L61.1 245" class="s3"/><g transform="translate(46.59 251.3) scale(0.1 -0.1)"><use href="#DejaVuSans-31"/></g><path d="M61.8 199.9L60.1 200.5" class="s3"/><g transform="translate(45.45 206.9) scale(0.1 -0.1)"><use href="#DejaVuSans-32"/></g><path d="M60.8 154.4L59.1 154.8" class="s3"/><g transform="translate(44.27 161.4) scale(0.1 -0.1)"><use href="#DejaVuSans-33"/></g><g transform="translate(19.96 222.6) scale(0.1 -0.1)"><use href="#DejaVuSans-5a"/></g><path d="M129.7 284.6L129 113.3" class="s4"/><path d="M228.9 322.8L233.1 140.9" class="s4"/><path d="M63.7 309.5L59.7 131.3" class="s4"/><path d="M162.9 351.4L163.8 161.7" class="s4"/><path d="M129.7 284.6L228.9 322.8" class="s4"/><path d="M129 113.3L233.1 140.9" class="s4"/><path d="M63.7 309.5L162.9 351.4" class="s4"/><path d="M59.7 131.3L163.8 161.7" class="s4"/><path d="M129.7 284.6L63.7 309.5" class="s4"/><path d="M129 113.3L59.7 131.3" class="s4"/><path d="M228.9 322.8L162.9 351.4" class="s4"/><path d="M233.1 140.9L163.8 161.7" class="s4"/><path d="M129.7 283.7L158.1 294.6L158.3 256.7L129.5 246.4z" class="s5"/><path d="M129.7 283.7L100.6 294.6L100.1 256.7L129.5 246.4z" class="s5"/><path d="M129.7 283.7L100.6 294.6L129.1 306L158.1 294.6z" class="s5"/><path d="M129.5 246.4L100.1 256.7L128.9 267.4L158.3 256.7z" class="s5"/><path d="M100.6 294.6L129.1 306L128.9 267.4L100.1 256.7z" class="s5"/><path d="M158.1 294.6L129.1 306L128.9 267.4L158.3 256.7z" class="s5"/><g transform="translate(71.03 87.52) scale(0.12 -0.1248)"><use href="#DejaVuSans-32"/><use href="#DejaVuSans-78" transform="translate(63.62 0)"/><use href="#DejaVuSans-33" transform="translate(122.8 0)"/><use href="#DejaVuSans-78" transform="translate(186.4 0)"/><use href="#DejaVuSans-34" transform="translate(245.6 0)"/><use href="#DejaVuSans-2f" transform="translate(309.2 0)"/><use href="#DejaVuSans-70" transform="translate(342.9 0)"/><use href="#DejaVuSans-75" transform="translate(406.4 0)"/><use href="#DejaVuSans-7a" transform="translate(469.8 0)"/><use href="#DejaVuSans-7a" transform="translate(522.3 0)"/><use href="#DejaVuSans-6c" transform="translate(574.8 0)"/><use href="#DejaVuSans-65" transform="translate(602.5 0)"/><use href="#DejaVuSans-5f" transform="translate(664.1 0)"/><use href="#DejaVuSans-68" transform="translate(714.1 0)"/><use href="#DejaVuSans-61" transform="translate(777.4 0)"/><use href="#DejaVuSans-72" transform="translate(838.7 0)"/><use href="#DejaVuSans-64" transform="translate(878.1 0)"/><use href="#DejaVuSans-5f" transform="translate(941.6 0)"/><use href="#DejaVuSans-30" transform="translate(991.6 0)"/><use href="#DejaVuSans-30" transform="translate(1055 0)"/><use href="#DejaVuSans-35" transform="translate(1119 0)"/></g><g transform="translate(109.3 101.3) scale(0.12 -0.1248)"><use href="#DejaVuSans-31"/><use href="#DejaVuSans-34" transform="translate(63.62 0)"/><use href="#DejaVuSans-2f" transform="translate(127.2 0)"/><use href="#DejaVuSans-32" transform="translate(160.9 0)"/><use href="#DejaVuSans-34" transform="translate(224.6 0)"/><use href="#DejaVuSans-20" transform="translate(288.2 0)"/><use href="#DejaVuSans-63" transform="translate(320 0)"/><use href="#DejaVuSans-65" transform="translate(375 0)"/><use href="#DejaVuSans-6c" transform="translate(436.5 0)"/><use href="#DejaVuSans-6c" transform="translate(464.3 0)"/><use href="#DejaVuSans-73" transform="translate(492 0)"/></g><path d="M129.5 242.2L158.3 252.5L158.4 213.6L129.3 204.1z" class="s5"/><path d="M129.5 242.2L100.1 252.5L99.6 213.6L129.3 204.1z" class="s5"/><path d="M129.5 242.2L100.1 252.5L128.9 263.1L158.3 252.5z" class="s5"/><path d="M129.3 204.1L99.6 213.6L128.7 223.6L158.4 213.6z" class="s5"/><path d="M100.1 252.5L128.9 263.1L128.7 223.6L99.6 213.6z" class="s5"/><path d="M158.3 252.5L128.9 263.1L128.7 223.6L158.4 213.6z" class="s5"/><path d="M161.4 295.9L191.1 307.3L191.6 268.7L161.5 257.9z" class="s15"/><path d="M161.4 295.9L132.3 307.3L132.1 268.7L161.5 257.9z" class="s15"/><path d="M161.4 295.9L132.3 307.3L162 319.3L191.1 307.3z" class="s15"/><path d="M161.5 257.9L132.1 268.7L162.2 279.9L191.6 268.7z" class="s15"/><path d="M132.3 307.3L162 319.3L162.2 279.9L132.1 268.7z" class="s15"/><path d="M191.1 307.3L162 319.3L162.2 279.9L191.6 268.7z" class="s15"/><path d="M129.3 199.8L158.4 209.3L158.6 169.5L129.2 160.8z" class="s5"/><path d="M129.3 199.8L99.6 209.3L99.1 169.5L129.2 160.8z" class="s5"/><path d="M129.3 199.8L99.6 209.3L128.7 219.2L158.4 209.3z" class="s5"/><path d="M129.2 160.8L99.1 169.5L128.5 178.7L158.6 169.5z" class="s5"/><path d="M99.6 209.3L128.7 219.2L128.5 178.7L99.1 169.5z" class="s5"/><path d="M158.4 209.3L128.7 219.2L128.5 178.7L158.6 169.5z" class="s5"/><path d="M161.6 253.6L191.7 264.3L192.2 224.7L161.7 214.7z" class="s15"/><path d="M161.6 253.6L132.1 264.3L132 224.7L161.7 214.7z" class="s15"/><path d="M161.6 253.6L132.1 264.3L162.2 275.5L191.7 264.3z" class="s15"/><path d="M161.7 214.7L132 224.7L162.4 235.2L192.2 224.7z" class="s15"/><path d="M132.1 264.3L162.2 275.5L162.4 235.2L132 224.7z" class="s15"/><path d="M191.7 264.3L162.2 275.5L162.4 235.2L192.2 224.7z" class="s15"/><path d="M129 308.6L158.7 320.6L158.9 281.2L128.8 269.9z" class="s13"/><path d="M129 308.6L98.5 320.6L98 281.2L128.8 269.9z" class="s13"/><path d="M129 308.6L98.5 320.6L128.3 333.1L158.7 320.6z" class="s13"/><path d="M128.8 269.9L98 281.2L128.1 293L158.9 281.2z" class="s13"/><path d="M98.5 320.6L128.3 333.1L128.1 293L98 281.2z" class="s13"/><path d="M158.7 320.6L128.3 333.1L128.1 293L158.9 281.2z" class="s13"/><path d="M194.5 308.6L225.6 320.6L226.5 281.2L195 269.9z" class="s13"/><path d="M194.5 308.6L165.4 320.6L165.6 281.2L195 269.9z" class="s13"/><path d="M194.5 308.6L165.4 320.6L196.6 333.1L225.6 320.6z" class="s13"/><path d="M195 269.9L165.6 281.2L197.2 293L226.5 281.2z" class="s13"/><path d="M165.4 320.6L196.6 333.1L197.2 293L165.6 281.2z" class="s13"/><path d="M225.6 320.6L196.6 333.1L197.2 293L226.5 281.2z" class="s13"/><path d="M195.1 265.5L226.6 276.7L227.5 236.4L195.6 225.9z" class="s14"/><path d="M195.1 265.5L165.7 276.7L165.9 236.4L195.6 225.9z" class="s14"/><path d="M195.1 265.5L165.7 276.7L197.2 288.4L226.6 276.7z" class="s14"/><path d="M195.6 225.9L165.9 236.4L197.8 247.3L227.5 236.4z" class="s14"/><path d="M165.7 276.7L197.2 288.4L197.8 247.3L165.9 236.4z" class="s14"/><path d="M226.6 276.7L197.2 288.4L197.8 247.3L227.5 236.4z" class="s14"/><path d="M128.8 265.5L158.9 276.7L159 236.4L128.6 225.9z" class="s15"/><path d="M128.8 265.5L98 276.7L97.4 236.4L128.6 225.9z" class="s15"/><path d="M128.8 265.5L98 276.7L128.1 288.4L158.9 276.7z" class="s15"/><path d="M128.6 225.9L97.4 236.4L127.9 247.3L159 236.4z" class="s15"/><path d="M98 276.7L128.1 288.4L127.9 247.3L97.4 236.4z" class="s15"/><path d="M158.9 276.7L128.1 288.4L127.9 247.3L159 236.4z" class="s15"/><path d="M162.1 322L193.3 334.5L193.8 294.3L162.3 282.5z" class="s13"/><path d="M162.1 322L131.7 334.5L131.5 294.3L162.3 282.5z" class="s13"/><path d="M162.1 322L131.7 334.5L162.8 347.6L193.3 334.5z" class="s13"/><path d="M162.3 282.5L131.5 294.3L163 306.7L193.8 294.3z" class="s13"/><path d="M131.7 334.5L162.8 347.6L163 306.7L131.5 294.3z" class="s13"/><path d="M193.3 334.5L162.8 347.6L163 306.7L193.8 294.3z" class="s13"/><path d="M195.7 221.4L227.6 231.8L228.5 190.4L196.2 180.8z" class="s14"/><path d="M195.7 221.4L165.9 231.8L166.1 190.4L196.2 180.8z" class="s14"/><path d="M195.7 221.4L165.9 231.8L197.9 242.7L227.6 231.8z" class="s14"/><path d="M196.2 180.8L166.1 190.4L198.5 200.5L228.5 190.4z" class="s14"/><path d="M165.9 231.8L197.9 242.7L198.5 200.5L166.1 190.4z" class="s14"/><path d="M227.6 231.8L197.9 242.7L198.5 200.5L228.5 190.4z" class="s14"/><path d="M128.6 221.4L159.1 231.8L159.2 190.4L128.4 180.8z" class="s15"/><path d="M128.6 221.4L97.4 231.8L96.9 190.4L128.4 180.8z" class="s15"/><path d="M128.6 221.4L97.4 231.8L127.8 242.7L159.1 231.8z" class="s15"/><path d="M128.4 180.8L96.9 190.4L127.6 200.5L159.2 190.4z" class="s15"/><path d="M97.4 231.8L127.8 242.7L127.6 200.5L96.9 190.4z" class="s15"/><path d="M159.1 231.8L127.8 242.7L127.6 200.5L159.2 190.4z" class="s15"/><path d="M162.3 278L193.9 289.8L194.4 248.5L162.5 237.5z" class="s14"/><path d="M162.3 278L131.5 289.8L131.3 248.5L162.5 237.5z" class="s14"/><path d="M162.3 278L131.5 289.8L163.1 302L193.9 289.8z" class="s14"/><path d="M162.5 237.5L131.3 248.5L163.3 260L194.4 248.5z" class="s14"/><path d="M131.5 289.8L163.1 302L163.3 260L131.3 248.5z" class="s14"/><path d="M193.9 289.8L163.1 302L163.3 260L194.4 248.5z" class="s14"/><path d="M162.5 233L194.5 243.9L195.1 201.6L162.7 191.5z" class="s14"/><path d="M162.5 233L131.3 243.9L131.2 201.6L162.7 191.5z" class="s14"/><path d="M162.5 233L131.3 243.9L163.3 255.3L194.5 243.9z" class="s14"/><path d="M162.7 191.5L131.2 201.6L163.5 212.2L195.1 201.6z" class="s14"/><path d="M131.3 243.9L163.3 255.3L163.5 212.2L131.2 201.6z" class="s14"/><path d="M194.5 243.9L163.3 255.3L163.5 212.2L195.1 201.6z" class="s14"/><path d="M342.7 123.5L374 134.9L375.2 92.6L342.7 83.7" class="s0"/><path d="M342.7 123.5L311.4 134.9L310.2 92.6L342.7 83.7" class="s1"/><path d="M342.7 123.5L311.4 134.9L342.7 148L374 134.9" class="s2"/><g/><g/><g/><path d="M374 134.9L342.7 148" class="s3"/><path d="M311.4 134.9L342.7 148" class="s3"/><path d="M311.4 134.9L310.2 92.6" class="s3"/><path d="M342.7 125.8L348.7 128L348.7 120.9L342.7 118.8z" class="s6"/><path d="M342.7 125.8L336.8 128L336.7 120.9L342.7 118.8z" class="s6"/><path d="M342.7 125.8L336.8 128L342.7 130.2L348.7 128z" class="s6"/><path d="M342.7 118.8L336.7 120.9L342.7 123.1L348.7 120.9z" class="s6"/><path d="M336.8 128L342.7 130.2L342.7 123.1L336.7 120.9z" class="s6"/><path d="M348.7 128L342.7 130.2L342.7 123.1L348.7 120.9z" class="s6"/><g transform="translate(333.5 122.7) scale(0.273 -0.273)"><use href="#DejaVuSans-2705"/></g><g transform="translate(289.8 70.58) scale(0.12 -0.1104)"><use href="#DejaVuSans-50"/><use href="#DejaVuSans-69" transform="translate(58.05 0)"/><use href="#DejaVuSans-65" transform="translate(85.84 0)"/><use href="#DejaVuSans-63" transform="translate(147.4 0)"/><use href="#DejaVuSans-65" transform="translate(202.3 0)"/><use href="#DejaVuSans-20" transform="translate(263.9 0)"/><use href="#DejaVuSans-30" transform="translate(295.7 0)"/><use href="#DejaVuSans-20" transform="translate(359.3 0)"/><use href="#DejaVuSans-28" transform="translate(391.1 0)"/><use href="#DejaVuSans-50" transform="translate(430.1 0)"/><use href="#DejaVuSans-4c" transform="translate(490.4 0)"/><use href="#DejaVuSans-41" transform="translate(548.3 0)"/><use href="#DejaVuSans-43" transform="translate(615 0)"/><use href="#DejaVuSans-45" transform="translate(684.8 0)"/><use href="#DejaVuSans-44" transform="translate(748 0)"/><use href="#DejaVuSans-29" transform="translate(825 0)"/></g><path d="M342.7 118L348.7 120.1L348.7 112.9L342.7 110.9z" class="s6"/><path d="M342.7 118L336.7 120.1L336.7 112.9L342.7 110.9z" class="s6"/><path d="M342.7 118L336.7 120.1L342.7 122.3L348.7 120.1z" class="s6"/><path d="M342.7 110.9L336.7 112.9L342.7 115L348.7 112.9z" class="s6"/><path d="M336.7 120.1L342.7 122.3L342.7 115L336.7 112.9z" class="s6"/><path d="M348.7 120.1L342.7 122.3L342.7 115L348.7 112.9z" class="s6"/><path d="M342.7 110.1L348.8 112.1L348.8 104.8L342.7 102.9z" class="s6"/><path d="M342.7 110.1L336.7 112.1L336.6 104.8L342.7 102.9z" class="s6"/><path d="M342.7 110.1L336.7 112.1L342.7 114.2L348.8 112.1z" class="s6"/><path d="M342.7 102.9L336.6 104.8L342.7 106.8L348.8 104.8z" class="s6"/><path d="M336.7 112.1L342.7 114.2L342.7 106.8L336.6 104.8z" class="s6"/><path d="M348.8 112.1L342.7 114.2L342.7 106.8L348.8 104.8z" class="s6"/><path d="M422.9 123.5L454.2 134.9L455.4 92.6L422.9 83.7" class="s0"/><path d="M422.9 123.5L391.6 134.9L390.4 92.6L422.9 83.7" class="s1"/><path d="M422.9 123.5L391.6 134.9L422.9 148L454.2 134.9" class="s2"/><g/><g/><g/><path d="M454.2 134.9L422.9 148" class="s3"/><path d="M391.6 134.9L422.9 148" class="s3"/><path d="M391.6 134.9L390.4 92.6" class="s3"/><path d="M416.7 117.9L422.3 119.9L422.3 113L416.7 111.1z" class="s7"/><path d="M416.7 117.9L411 119.9L411 113L416.7 111.1z" class="s7"/><path d="M416.7 117.9L411 119.9L416.6 121.9L422.3 119.9z" class="s7"/><path d="M416.7 111.1L411 113L416.5 114.9L422.3 113z" class="s7"/><path d="M411 119.9L416.6 121.9L416.5 114.9L411 113z" class="s7"/><path d="M422.3 119.9L416.6 121.9L416.5 114.9L422.3 113z" class="s7"/><g transform="translate(413.7 122.7) scale(0.273 -0.273)"><use href="#DejaVuSans-2705"/></g><g transform="translate(370 70.58) scale(0.12 -0.1104)"><use href="#DejaVuSans-50"/><use href="#DejaVuSans-69" transform="translate(58.05 0)"/><use href="#DejaVuSans-65" transform="translate(85.84 0)"/><use href="#DejaVuSans-63" transform="translate(147.4 0)"/><use href="#DejaVuSans-65" transform="translate(202.3 0)"/><use href="#DejaVuSans-20" transform="translate(263.9 0)"/><use href="#DejaVuSans-31" transform="translate(295.7 0)"/><use href="#DejaVuSans-20" transform="translate(359.3 0)"/><use href="#DejaVuSans-28" transform="translate(391.1 0)"/><use href="#DejaVuSans-50" transform="translate(430.1 0)"/><use href="#DejaVuSans-4c" transform="translate(490.4 0)"/><use href="#DejaVuSans-41" transform="translate(548.3 0)"/><use href="#DejaVuSans-43" transform="translate(615 0)"/><use href="#DejaVuSans-45" transform="translate(684.8 0)"/><use href="#DejaVuSans-44" transform="translate(748 0)"/><use href="#DejaVuSans-29" transform="translate(825 0)"/></g><path d="M429.1 117.9L434.7 119.9L434.8 113L429.1 111.1z" class="s7"/><path d="M429.1 117.9L423.5 119.9L423.5 113L429.1 111.1z" class="s7"/><path d="M429.1 117.9L423.5 119.9L429.2 121.9L434.7 119.9z" class="s7"/><path d="M429.1 111.1L423.5 113L429.3 114.9L434.8 113z" class="s7"/><path d="M423.5 119.9L429.2 121.9L429.3 114.9L423.5 113z" class="s7"/><path d="M434.7 119.9L429.2 121.9L429.3 114.9L434.8 113z" class="s7"/><path d="M422.9 120.1L428.6 122.1L428.6 115.1L422.9 113.2z" class="s7"/><path d="M422.9 120.1L417.2 122.1L417.2 115.1L422.9 113.2z" class="s7"/><path d="M422.9 120.1L417.2 122.1L422.9 124.2L428.6 122.1z" class="s7"/><path d="M422.9 113.2L417.2 115.1L422.9 117.1L428.6 115.1z" class="s7"/><path d="M417.2 122.1L422.9 124.2L422.9 117.1L417.2 115.1z" class="s7"/><path d="M428.6 122.1L422.9 124.2L422.9 117.1L428.6 115.1z" class="s7"/><path d="M342.7 239.8L374 251.2L375.2 208.8L342.7 200" class="s0"/><path d="M342.7 239.8L311.4 251.2L310.2 208.8L342.7 200" class="s1"/><path d="M342.7 239.8L311.4 251.2L342.7 264.3L374 251.2" class="s2"/><g/><g/><g/><path d="M374 251.2L342.7 264.3" class="s3"/><path d="M311.4 251.2L342.7 264.3" class="s3"/><path d="M311.4 251.2L310.2 208.8" class="s3"/><path d="M345.7 234.7L351.2 236.6L351.3 229.9L345.7 228z" class="s8"/><path d="M345.7 234.7L340.3 236.6L340.3 229.9L345.7 228z" class="s8"/><path d="M345.7 234.7L340.3 236.6L345.8 238.6L351.2 236.6z" class="s8"/><path d="M345.7 228L340.3 229.9L345.8 231.8L351.3 229.9z" class="s8"/><path d="M340.3 236.6L345.8 238.6L345.8 231.8L340.3 229.9z" class="s8"/><path d="M351.2 236.6L345.8 238.6L345.8 231.8L351.3 229.9z" class="s8"/><g transform="translate(320.1 186.8) scale(0.12 -0.1104)"><use href="#DejaVuSans-50"/><use href="#DejaVuSans-69" transform="translate(58.05 0)"/><use href="#DejaVuSans-65" transform="translate(85.84 0)"/><use href="#DejaVuSans-63" transform="translate(147.4 0)"/><use href="#DejaVuSans-65" transform="translate(202.3 0)"/><use href="#DejaVuSans-20" transform="translate(263.9 0)"/><use href="#DejaVuSans-32" transform="translate(295.7 0)"/></g><path d="M345.7 227.3L351.3 229.1L351.3 222.3L345.8 220.5z" class="s8"/><path d="M345.7 227.3L340.3 229.1L340.2 222.3L345.8 220.5z" class="s8"/><path d="M345.7 227.3L340.3 229.1L345.8 231L351.3 229.1z" class="s8"/><path d="M345.8 220.5L340.2 222.3L345.8 224.1L351.3 222.3z" class="s8"/><path d="M340.3 229.1L345.8 231L345.8 224.1L340.2 222.3z" class="s8"/><path d="M351.3 229.1L345.8 231L345.8 224.1L351.3 222.3z" class="s8"/><path d="M339.7 236.8L345.2 238.8L345.2 232L339.6 230.1z" class="s8"/><path d="M339.7 236.8L334.1 238.8L334 232L339.6 230.1z" class="s8"/><path d="M339.7 236.8L334.1 238.8L339.6 240.8L345.2 238.8z" class="s8"/><path d="M339.6 230.1L334 232L339.6 233.9L345.2 232z" class="s8"/><path d="M334.1 238.8L339.6 240.8L339.6 233.9L334 232z" class="s8"/><path d="M345.2 238.8L339.6 240.8L339.6 233.9L345.2 232z" class="s8"/><path d="M339.6 229.3L345.2 231.2L345.2 224.3L339.6 222.5z" class="s8"/><path d="M339.6 229.3L334 231.2L334 224.3L339.6 222.5z" class="s8"/><path d="M339.6 229.3L334 231.2L339.6 233.2L345.2 231.2z" class="s8"/><path d="M339.6 222.5L334 224.3L339.5 226.2L345.2 224.3z" class="s8"/><path d="M334 231.2L339.6 233.2L339.5 226.2L334 224.3z" class="s8"/><path d="M345.2 231.2L339.6 233.2L339.5 226.2L345.2 224.3z" class="s8"/><path d="M351.9 229.3L357.6 231.2L357.7 224.3L352 222.5z" class="s8"/><path d="M351.9 229.3L346.4 231.2L346.5 224.3L352 222.5z" class="s8"/><path d="M351.9 229.3L346.4 231.2L352.2 233.2L357.6 231.2z" class="s8"/><path d="M352 222.5L346.5 224.3L352.2 226.2L357.7 224.3z" class="s8"/><path d="M346.4 231.2L352.2 233.2L352.2 226.2L346.5 224.3z" class="s8"/><path d="M357.6 231.2L352.2 233.2L352.2 226.2L357.7 224.3z" class="s8"/><path d="M333.4 231.4L338.9 233.4L338.9 226.4L333.3 224.5z" class="s8"/><path d="M333.4 231.4L327.6 233.4L327.5 226.4L333.3 224.5z" class="s8"/><path d="M333.4 231.4L327.6 233.4L333.1 235.4L338.9 233.4z" class="s8"/><path d="M333.3 224.5L327.5 226.4L333.1 228.3L338.9 226.4z" class="s8"/><path d="M327.6 233.4L333.1 235.4L333.1 228.3L327.5 226.4z" class="s8"/><path d="M338.9 233.4L333.1 235.4L333.1 228.3L338.9 226.4z" class="s8"/><path d="M422.9 239.8L454.2 251.2L455.4 208.8L422.9 200" class="s0"/><path d="M422.9 239.8L391.6 251.2L390.4 208.8L422.9 200" class="s1"/><path d="M422.9 239.8L391.6 251.2L422.9 264.3L454.2 251.2" class="s2"/><g/><g/><g/><path d="M454.2 251.2L422.9 264.3" class="s3"/><path d="M391.6 251.2L422.9 264.3" class="s3"/><path d="M391.6 251.2L390.4 208.8" class="s3"/><path d="M419.8 233.1L425.4 235L425.4 228.2L419.8 226.3z" class="s9"/><path d="M419.8 233.1L414.2 235L414.2 228.2L419.8 226.3z" class="s9"/><path d="M419.8 233.1L414.2 235L419.8 237L425.4 235z" class="s9"/><path d="M419.8 226.3L414.2 228.2L419.7 230.1L425.4 228.2z" class="s9"/><path d="M414.2 235L419.8 237L419.7 230.1L414.2 228.2z" class="s9"/><path d="M425.4 235L419.8 237L419.7 230.1L425.4 228.2z" class="s9"/><g transform="translate(413.7 238.9) scale(0.273 -0.273)"><use href="#DejaVuSans-2705"/></g><g transform="translate(370 186.8) scale(0.12 -0.1104)"><use href="#DejaVuSans-50"/><use href="#DejaVuSans-69" transform="translate(58.05 0)"/><use href="#DejaVuSans-65" transform="translate(85.84 0)"/><use href="#DejaVuSans-63" transform="translate(147.4 0)"/><use href="#DejaVuSans-65" transform="translate(202.3 0)"/><use href="#DejaVuSans-20" transform="translate(263.9 0)"/><use href="#DejaVuSans-33" transform="translate(295.7 0)"/><use href="#DejaVuSans-20" transform="translate(359.3 0)"/><use href="#DejaVuSans-28" transform="translate(391.1 0)"/><use href="#DejaVuSans-50" transform="translate(430.1 0)"/><use href="#DejaVuSans-4c" transform="translate(490.4 0)"/><use href="#DejaVuSans-41" transform="translate(548.3 0)"/><use href="#DejaVuSans-43" transform="translate(615 0)"/><use href="#DejaVuSans-45" transform="translate(684.8 0)"/><use href="#DejaVuSans-44" transform="translate(748 0)"/><use href="#DejaVuSans-29" transform="translate(825 0)"/></g><path d="M432.1 233.1L437.8 235L437.9 228.2L432.1 226.3z" class="s9"/><path d="M432.1 233.1L426.6 235L426.6 228.2L432.1 226.3z" class="s9"/><path d="M432.1 233.1L426.6 235L432.3 237L437.8 235z" class="s9"/><path d="M432.1 226.3L426.6 228.2L432.4 230.1L437.9 228.2z" class="s9"/><path d="M426.6 235L432.3 237L432.4 230.1L426.6 228.2z" class="s9"/><path d="M437.8 235L432.3 237L432.4 230.1L437.9 228.2z" class="s9"/><path d="M413.6 235.2L419.1 237.2L419.1 230.3L413.5 228.4z" class="s9"/><path d="M413.6 235.2L407.8 237.2L407.7 230.3L413.5 228.4z" class="s9"/><path d="M413.6 235.2L407.8 237.2L413.3 239.3L419.1 237.2z" class="s9"/><path d="M413.5 228.4L407.7 230.3L413.3 232.3L419.1 230.3z" class="s9"/><path d="M407.8 237.2L413.3 239.3L413.3 232.3L407.7 230.3z" class="s9"/><path d="M419.1 237.2L413.3 239.3L413.3 232.3L419.1 230.3z" class="s9"/><path d="M426 235.2L431.7 237.2L431.7 230.3L426 228.4z" class="s9"/><path d="M426 235.2L420.4 237.2L420.4 230.3L426 228.4z" class="s9"/><path d="M426 235.2L420.4 237.2L426.1 239.3L431.7 237.2z" class="s9"/><path d="M426 228.4L420.4 230.3L426.1 232.3L431.7 230.3z" class="s9"/><path d="M420.4 237.2L426.1 239.3L426.1 232.3L420.4 230.3z" class="s9"/><path d="M431.7 237.2L426.1 239.3L426.1 232.3L431.7 230.3z" class="s9"/><path d="M342.7 356.7L374 368.1L375.2 325.7L342.7 316.9" class="s0"/><path d="M342.7 356.7L311.4 368.1L310.2 325.7L342.7 316.9" class="s1"/><path d="M342.7 356.7L311.4 368.1L342.7 381.2L374 368.1" class="s2"/><g/><g/><g/><path d="M374 368.1L342.7 381.2" class="s3"/><path d="M311.4 368.1L342.7 381.2" class="s3"/><path d="M311.4 368.1L310.2 325.7" class="s3"/><path d="M342.7 352.7L348.2 354.6L348.3 347.9L342.7 346z" class="s10"/><path d="M342.7 352.7L337.2 354.6L337.2 347.9L342.7 346z" class="s10"/><path d="M342.7 352.7L337.2 354.6L342.7 356.6L348.2 354.6z" class="s10"/><path d="M342.7 346L337.2 347.9L342.7 349.8L348.3 347.9z" class="s10"/><path d="M337.2 354.6L342.7 356.6L342.7 349.8L337.2 347.9z" class="s10"/><path d="M348.2 354.6L342.7 356.6L342.7 349.8L348.3 347.9z" class="s10"/><g transform="translate(320.1 303.8) scale(0.12 -0.1104)"><use href="#DejaVuSans-50"/><use href="#DejaVuSans-69" transform="translate(58.05 0)"/><use href="#DejaVuSans-65" transform="translate(85.84 0)"/><use href="#DejaVuSans-63" transform="translate(147.4 0)"/><use href="#DejaVuSans-65" transform="translate(202.3 0)"/><use href="#DejaVuSans-20" transform="translate(263.9 0)"/><use href="#DejaVuSans-34" transform="translate(295.7 0)"/></g><path d="M342.7 345.2L348.3 347.1L348.3 340.2L342.7 338.4z" class="s10"/><path d="M342.7 345.2L337.2 347.1L337.1 340.2L342.7 338.4z" class="s10"/><path d="M342.7 345.2L337.2 347.1L342.7 349L348.3 347.1z" class="s10"/><path d="M342.7 338.4L337.1 340.2L342.7 342.1L348.3 340.2z" class="s10"/><path d="M337.2 347.1L342.7 349L342.7 342.1L337.1 340.2z" class="s10"/><path d="M348.3 347.1L342.7 349L342.7 342.1L348.3 340.2z" class="s10"/><path d="M336.6 354.8L342.1 356.9L342.1 350L336.5 348.1z" class="s10"/><path d="M336.6 354.8L330.9 356.9L330.8 350L336.5 348.1z" class="s10"/><path d="M336.6 354.8L330.9 356.9L336.4 358.9L342.1 356.9z" class="s10"/><path d="M336.5 348.1L330.8 350L336.4 352L342.1 350z" class="s10"/><path d="M330.9 356.9L336.4 358.9L336.4 352L330.8 350z" class="s10"/><path d="M342.1 356.9L336.4 358.9L336.4 352L342.1 350z" class="s10"/><path d="M348.8 354.8L354.5 356.9L354.6 350L348.9 348.1z" class="s10"/><path d="M348.8 354.8L343.3 356.9L343.3 350L348.9 348.1z" class="s10"/><path d="M348.8 354.8L343.3 356.9L349 358.9L354.5 356.9z" class="s10"/><path d="M348.9 348.1L343.3 350L349 352L354.6 350z" class="s10"/><path d="M343.3 356.9L349 358.9L349 352L343.3 350z" class="s10"/><path d="M354.5 356.9L349 358.9L349 352L354.6 350z" class="s10"/><path d="M422.9 356.7L454.2 368.1L455.4 325.7L422.9 316.9" class="s0"/><path d="M422.9 356.7L391.6 368.1L390.4 325.7L422.9 316.9" class="s1"/><path d="M422.9 356.7L391.6 368.1L422.9 381.2L454.2 368.1" class="s2"/><g/><g/><g/><path d="M454.2 368.1L422.9 381.2" class="s3"/><path d="M391.6 368.1L422.9 381.2" class="s3"/><path d="M391.6 368.1L390.4 325.7" class="s3"/><path d="M419.8 353.8L425.4 355.7L425.4 348.9L419.8 347z" class="s11"/><path d="M419.8 353.8L414.3 355.7L414.2 348.9L419.8 347z" class="s11"/><path d="M419.8 353.8L414.3 355.7L419.8 357.8L425.4 355.7z" class="s11"/><path d="M419.8 347L414.2 348.9L419.8 350.9L425.4 348.9z" class="s11"/><path d="M414.3 355.7L419.8 357.8L419.8 350.9L414.2 348.9z" class="s11"/><path d="M425.4 355.7L419.8 357.8L419.8 350.9L425.4 348.9z" class="s11"/><g transform="translate(413.7 355.9) scale(0.273 -0.273)"><use href="#DejaVuSans-2705"/></g><g transform="translate(370 303.8) scale(0.12 -0.1104)"><use href="#DejaVuSans-50"/><use href="#DejaVuSans-69" transform="translate(58.05 0)"/><use href="#DejaVuSans-65" transform="translate(85.84 0)"/><use href="#DejaVuSans-63" transform="translate(147.4 0)"/><use href="#DejaVuSans-65" transform="translate(202.3 0)"/><use href="#DejaVuSans-20" transform="translate(263.9 0)"/><use href="#DejaVuSans-35" transform="translate(295.7 0)"/><use href="#DejaVuSans-20" transform="translate(359.3 0)"/><use href="#DejaVuSans-28" transform="translate(391.1 0)"/><use href="#DejaVuSans-50" transform="translate(430.1 0)"/><use href="#DejaVuSans-4c" transform="translate(490.4 0)"/><use href="#DejaVuSans-41" transform="translate(548.3 0)"/><use href="#DejaVuSans-43" transform="translate(615 0)"/><use href="#DejaVuSans-45" transform="translate(684.8 0)"/><use href="#DejaVuSans-44" transform="translate(748 0)"/><use href="#DejaVuSans-29" transform="translate(825 0)"/></g><path d="M419.8 346.3L425.4 348.2L425.4 341.3L419.8 339.4z" class="s11"/><path d="M419.8 346.3L414.2 348.2L414.1 341.3L419.8 339.4z" class="s11"/><path d="M419.8 346.3L414.2 348.2L419.7 350.1L425.4 348.2z" class="s11"/><path d="M419.8 339.4L414.1 341.3L419.7 343.1L425.4 341.3z" class="s11"/><path d="M414.2 348.2L419.7 350.1L419.7 343.1L414.1 341.3z" class="s11"/><path d="M425.4 348.2L419.7 350.1L419.7 343.1L425.4 341.3z" class="s11"/><path d="M426 356L431.7 358L431.7 351.1L426 349.1z" class="s11"/><path d="M426 356L420.4 358L420.4 351.1L426 349.1z" class="s11"/><path d="M426 356L420.4 358L426.1 360.1L431.7 358z" class="s11"/><path d="M426 349.1L420.4 351.1L426.1 353.1L431.7 351.1z" class="s11"/><path d="M420.4 358L426.1 360.1L426.1 353.1L420.4 351.1z" class="s11"/><path d="M431.7 358L426.1 360.1L426.1 353.1L431.7 351.1z" class="s11"/><path d="M426 348.4L431.7 350.3L431.8 343.3L426 341.5z" class="s11"/><path d="M426 348.4L420.4 350.3L420.4 343.3L426 341.5z" class="s11"/><path d="M426 348.4L420.4 350.3L426.1 352.3L431.7 350.3z" class="s11"/><path d="M426 341.5L420.4 343.3L426.1 345.3L431.8 343.3z" class="s11"/><path d="M420.4 350.3L426.1 352.3L426.1 345.3L420.4 343.3z" class="s11"/><path d="M431.7 350.3L426.1 352.3L426.1 345.3L431.8 343.3z" class="s11"/><g class="s12" transform="translate(346.6 34.38) scale(0.1 -0.1)"><use href="#DejaVuSans-Oblique-50"/><use href="#DejaVuSans-Oblique-69" transform="translate(60.3 0)"/><use href="#DejaVuSans-Oblique-65" transform="translate(88.09 0)"/><use href="#DejaVuSans-Oblique-63" transform="translate(149.6 0)"/><use href="#DejaVuSans-Oblique-65" transform="translate(204.6 0)"/><use href="#DejaVuSans-Oblique-73" transform="translate(266.1 0)"/></g></svg></div>
<div class="cap" style="left:1157.8px;top:276.75px"><span><i>(d)</i> Step 4</span></div>
<div class="pn" style="left:0px;top:320px"><svg width="360" height="262" viewBox="-0.511 -0.511 612.766 445.957"><path d="M129.7 284.6L228.9 322.8L233.1 140.9L129 113.3" class="s0"/><path d="M129.7 284.6L63.7 309.5L59.7 131.3L129 113.3" class="s1"/><path d="M129.7 284.6L63.7 309.5L162.9 351.4L228.9 322.8" class="s2"/><path d="M228.9 322.8L162.9 351.4" class="s3"/><path d="M212.1 329.3L214.7 330.3" class="s3"/><g transform="translate(217.6 353.8) scale(0.1 -0.1)"><use href="#DejaVuSans-30"/></g><path d="M179.1 343.6L181.7 344.7" class="s3"/><g transform="translate(184.8 368.5) scale(0.1 -0.1)"><use href="#DejaVuSans-31"/></g><g transform="translate(217.4 390.6) scale(0.1 -0.1)"><use href="#DejaVuSans-58"/></g><path d="M63.7 309.5L162.9 351.4" class="s3"/><path d="M79.8 315.8L78.2 316.5" class="s3"/><g transform="translate(71.08 338.7) scale(0.1 -0.1)"><use href="#DejaVuSans-30"/></g><path d="M112.1 329.4L110.4 330.1" class="s3"/><g transform="translate(103.2 352.7) scale(0.1 -0.1)"><use href="#DejaVuSans-31"/></g><path d="M145.9 343.7L144.2 344.4" class="s3"/><g transform="translate(136.9 367.3) scale(0.1 -0.1)"><use href="#DejaVuSans-32"/></g><g transform="translate(92.67 379.9) scale(0.1 -0.1)"><use href="#DejaVuSans-59"/></g><path d="M63.7 309.5L59.7 131.3" class="s3"/><path d="M63.8 287.9L62.1 288.5" class="s3"/><g transform="translate(47.72 294.7) scale(0.1 -0.1)"><use href="#DejaVuSans-30"/></g><path d="M62.8 244.4L61.1 245" class="s3"/><g transform="translate(46.59 251.3) scale(0.1 -0.1)"><use href="#DejaVuSans-31"/></g><path d="M61.8 199.9L60.1 200.5" class="s3"/><g transform="translate(45.45 206.9) scale(0.1 -0.1)"><use href="#DejaVuSans-32"/></g><path d="M60.8 154.4L59.1 154.8" class="s3"/><g transform="translate(44.27 161.4) scale(0.1 -0.1)"><use href="#DejaVuSans-33"/></g><g transform="translate(19.96 222.6) scale(0.1 -0.1)"><use href="#DejaVuSans-5a"/></g><path d="M129.7 284.6L129 113.3" class="s4"/><path d="M228.9 322.8L233.1 140.9" class="s4"/><path d="M63.7 309.5L59.7 131.3" class="s4"/><path d="M162.9 351.4L163.8 161.7" class="s4"/><path d="M129.7 284.6L228.9 322.8" class="s4"/><path d="M129 113.3L233.1 140.9" class="s4"/><path d="M63.7 309.5L162.9 351.4" class="s4"/><path d="M59.7 131.3L163.8 161.7" class="s4"/><path d="M129.7 284.6L63.7 309.5" class="s4"/><path d="M129 113.3L59.7 131.3" class="s4"/><path d="M228.9 322.8L162.9 351.4" class="s4"/><path d="M233.1 140.9L163.8 161.7" class="s4"/><path d="M129.7 283.7L158.1 294.6L158.3 256.7L129.5 246.4z" class="s5"/><path d="M129.7 283.7L100.6 294.6L100.1 256.7L129.5 246.4z" class="s5"/><path d="M129.7 283.7L100.6 294.6L129.1 306L158.1 294.6z" class="s5"/><path d="M129.5 246.4L100.1 256.7L128.9 267.4L158.3 256.7z" class="s5"/><path d="M100.6 294.6L129.1 306L128.9 267.4L100.1 256.7z" class="s5"/><path d="M158.1 294.6L129.1 306L128.9 267.4L158.3 256.7z" class="s5"/><g transform="translate(71.03 87.52) scale(0.12 -0.1248)"><use href="#DejaVuSans-32"/><use href="#DejaVuSans-78" transform="translate(63.62 0)"/><use href="#DejaVuSans-33" transform="translate(122.8 0)"/><use href="#DejaVuSans-78" transform="translate(186.4 0)"/><use href="#DejaVuSans-34" transform="translate(245.6 0)"/><use href="#DejaVuSans-2f" transform="translate(309.2 0)"/><use href="#DejaVuSans-70" transform="translate(342.9 0)"/><use href="#DejaVuSans-75" transform="translate(406.4 0)"/><use href="#DejaVuSans-7a" transform="translate(469.8 0)"/><use href="#DejaVuSans-7a" transform="translate(522.3 0)"/><use href="#DejaVuSans-6c" transform="translate(574.8 0)"/><use href="#DejaVuSans-65" transform="translate(602.5 0)"/><use href="#DejaVuSans-5f" transform="translate(664.1 0)"/><use href="#DejaVuSans-68" transform="translate(714.1 0)"/><use href="#DejaVuSans-61" transform="translate(777.4 0)"/><use href="#DejaVuSans-72" transform="translate(838.7 0)"/><use href="#DejaVuSans-64" transform="translate(878.1 0)"/><use href="#DejaVuSans-5f" transform="translate(941.6 0)"/><use href="#DejaVuSans-30" transform="translate(991.6 0)"/><use href="#DejaVuSans-30" transform="translate(1055 0)"/><use href="#DejaVuSans-35" transform="translate(1119 0)"/></g><g transform="translate(109.3 101.3) scale(0.12 -0.1248)"><use href="#DejaVuSans-31"/><use href="#DejaVuSans-38" transform="translate(63.62 0)"/><use href="#DejaVuSans-2f" transform="translate(127.2 0)"/><use href="#DejaVuSans-32" transform="translate(160.9 0)"/><use href="#DejaVuSans-34" transform="translate(224.6 0)"/><use href="#DejaVuSans-20" transform="translate(288.2 0)"/><use href="#DejaVuSans-63" transform="translate(320 0)"/><use href="#DejaVuSans-65" transform="translate(375 0)"/><use href="#DejaVuSans-6c" transform="translate(436.5 0)"/><use href="#DejaVuSans-6c" transform="translate(464.3 0)"/><use href="#DejaVuSans-73" transform="translate(492 0)"/></g><path d="M129.5 242.2L158.3 252.5L158.4 213.6L129.3 204.1z" class="s5"/><path d="M129.5 242.2L100.1 252.5L99.6 213.6L129.3 204.1z" class="s5"/><path d="M129.5 242.2L100.1 252.5L128.9 263.1L158.3 252.5z" class="s5"/><path d="M129.3 204.1L99.6 213.6L128.7 223.6L158.4 213.6z" class="s5"/><path d="M100.1 252.5L128.9 263.1L128.7 223.6L99.6 213.6z" class="s5"/><path d="M158.3 252.5L128.9 263.1L128.7 223.6L158.4 213.6z" class="s5"/><path d="M161.4 295.9L191.1 307.3L191.6 268.7L161.5 257.9z" class="s15"/><path d="M161.4 295.9L132.3 307.3L132.1 268.7L161.5 257.9z" class="s15"/><path d="M161.4 295.9L132.3 307.3L162 319.3L191.1 307.3z" class="s15"/><path d="M161.5 257.9L132.1 268.7L162.2 279.9L191.6 268.7z" class="s15"/><path d="M132.3 307.3L162 319.3L162.2 279.9L132.1 268.7z" class="s15"/><path d="M191.1 307.3L162 319.3L162.2 279.9L191.6 268.7z" class="s15"/><path d="M129.3 199.8L158.4 209.3L158.6 169.5L129.2 160.8z" class="s5"/><path d="M129.3 199.8L99.6 209.3L99.1 169.5L129.2 160.8z" class="s5"/><path d="M129.3 199.8L99.6 209.3L128.7 219.2L158.4 209.3z" class="s5"/><path d="M129.2 160.8L99.1 169.5L128.5 178.7L158.6 169.5z" class="s5"/><path d="M99.6 209.3L128.7 219.2L128.5 178.7L99.1 169.5z" class="s5"/><path d="M158.4 209.3L128.7 219.2L128.5 178.7L158.6 169.5z" class="s5"/><path d="M161.6 253.6L191.7 264.3L192.2 224.7L161.7 214.7z" class="s15"/><path d="M161.6 253.6L132.1 264.3L132 224.7L161.7 214.7z" class="s15"/><path d="M161.6 253.6L132.1 264.3L162.2 275.5L191.7 264.3z" class="s15"/><path d="M161.7 214.7L132 224.7L162.4 235.2L192.2 224.7z" class="s15"/><path d="M132.1 264.3L162.2 275.5L162.4 235.2L132 224.7z" class="s15"/><path d="M191.7 264.3L162.2 275.5L162.4 235.2L192.2 224.7z" class="s15"/><path d="M129.1 156.4L158.6 165.1L158.7 124.4L129 116.4z" class="s16"/><path d="M129.1 156.4L99 165.1L98.5 124.4L129 116.4z" class="s16"/><path d="M129.1 156.4L99 165.1L128.5 174.1L158.6 165.1z" class="s16"/><path d="M129 116.4L98.5 124.4L128.3 132.7L158.7 124.4z" class="s16"/><path d="M99 165.1L128.5 174.1L128.3 132.7L98.5 124.4z" class="s16"/><path d="M158.6 165.1L128.5 174.1L128.3 132.7L158.7 124.4z" class="s16"/><path d="M129 308.6L158.7 320.6L158.9 281.2L128.8 269.9z" class="s13"/><path d="M129 308.6L98.5 320.6L98 281.2L128.8 269.9z" class="s13"/><path d="M129 308.6L98.5 320.6L128.3 333.1L158.7 320.6z" class="s13"/><path d="M128.8 269.9L98 281.2L128.1 293L158.9 281.2z" class="s13"/><path d="M98.5 320.6L128.3 333.1L128.1 293L98 281.2z" class="s13"/><path d="M158.7 320.6L128.3 333.1L128.1 293L158.9 281.2z" class="s13"/><path d="M194.5 308.6L225.6 320.6L226.5 281.2L195 269.9z" class="s13"/><path d="M194.5 308.6L165.4 320.6L165.6 281.2L195 269.9z" class="s13"/><path d="M194.5 308.6L165.4 320.6L196.6 333.1L225.6 320.6z" class="s13"/><path d="M195 269.9L165.6 281.2L197.2 293L226.5 281.2z" class="s13"/><path d="M165.4 320.6L196.6 333.1L197.2 293L165.6 281.2z" class="s13"/><path d="M225.6 320.6L196.6 333.1L197.2 293L226.5 281.2z" class="s13"/><path d="M161.7 210.4L192.2 220.3L192.7 179.7L161.9 170.5z" class="s16"/><path d="M161.7 210.4L132 220.3L131.8 179.7L161.9 170.5z" class="s16"/><path d="M161.7 210.4L132 220.3L162.4 230.6L192.2 220.3z" class="s16"/><path d="M161.9 170.5L131.8 179.7L162.6 189.3L192.7 179.7z" class="s16"/><path d="M132 220.3L162.4 230.6L162.6 189.3L131.8 179.7z" class="s16"/><path d="M192.2 220.3L162.4 230.6L162.6 189.3L192.7 179.7z" class="s16"/><path d="M195.1 265.5L226.6 276.7L227.5 236.4L195.6 225.9z" class="s14"/><path d="M195.1 265.5L165.7 276.7L165.9 236.4L195.6 225.9z" class="s14"/><path d="M195.1 265.5L165.7 276.7L197.2 288.4L226.6 276.7z" class="s14"/><path d="M195.6 225.9L165.9 236.4L197.8 247.3L227.5 236.4z" class="s14"/><path d="M165.7 276.7L197.2 288.4L197.8 247.3L165.9 236.4z" class="s14"/><path d="M226.6 276.7L197.2 288.4L197.8 247.3L227.5 236.4z" class="s14"/><path d="M128.8 265.5L158.9 276.7L159 236.4L128.6 225.9z" class="s15"/><path d="M128.8 265.5L98 276.7L97.4 236.4L128.6 225.9z" class="s15"/><path d="M128.8 265.5L98 276.7L128.1 288.4L158.9 276.7z" class="s15"/><path d="M128.6 225.9L97.4 236.4L127.9 247.3L159 236.4z" class="s15"/><path d="M98 276.7L128.1 288.4L127.9 247.3L97.4 236.4z" class="s15"/><path d="M158.9 276.7L128.1 288.4L127.9 247.3L159 236.4z" class="s15"/><path d="M161.9 166.1L192.8 175.2L193.3 133.6L162.1 125.3z" class="s16"/><path d="M161.9 166.1L131.8 175.2L131.7 133.6L162.1 125.3z" class="s16"/><path d="M161.9 166.1L131.8 175.2L162.7 184.7L192.8 175.2z" class="s16"/><path d="M162.1 125.3L131.7 133.6L162.9 142.3L193.3 133.6z" class="s16"/><path d="M131.8 175.2L162.7 184.7L162.9 142.3L131.7 133.6z" class="s16"/><path d="M192.8 175.2L162.7 184.7L162.9 142.3L193.3 133.6z" class="s16"/><path d="M162.1 322L193.3 334.5L193.8 294.3L162.3 282.5z" class="s13"/><path d="M162.1 322L131.7 334.5L131.5 294.3L162.3 282.5z" class="s13"/><path d="M162.1 322L131.7 334.5L162.8 347.6L193.3 334.5z" class="s13"/><path d="M162.3 282.5L131.5 294.3L163 306.7L193.8 294.3z" class="s13"/><path d="M131.7 334.5L162.8 347.6L163 306.7L131.5 294.3z" class="s13"/><path d="M193.3 334.5L162.8 347.6L163 306.7L193.8 294.3z" class="s13"/><path d="M195.7 221.4L227.6 231.8L228.5 190.4L196.2 180.8z" class="s14"/><path d="M195.7 221.4L165.9 231.8L166.1 190.4L196.2 180.8z" class="s14"/><path d="M195.7 221.4L165.9 231.8L197.9 242.7L227.6 231.8z" class="s14"/><path d="M196.2 180.8L166.1 190.4L198.5 200.5L228.5 190.4z" class="s14"/><path d="M165.9 231.8L197.9 242.7L198.5 200.5L166.1 190.4z" class="s14"/><path d="M227.6 231.8L197.9 242.7L198.5 200.5L228.5 190.4z" class="s14"/><path d="M128.6 221.4L159.1 231.8L159.2 190.4L128.4 180.8z" class="s15"/><path d="M128.6 221.4L97.4 231.8L96.9 190.4L128.4 180.8z" class="s15"/><path d="M128.6 221.4L97.4 231.8L127.8 242.7L159.1 231.8z" class="s15"/><path d="M128.4 180.8L96.9 190.4L127.6 200.5L159.2 190.4z" class="s15"/><path d="M97.4 231.8L127.8 242.7L127.6 200.5L96.9 190.4z" class="s15"/><path d="M159.1 231.8L127.8 242.7L127.6 200.5L159.2 190.4z" class="s15"/><path d="M162.3 278L193.9 289.8L194.4 248.5L162.5 237.5z" class="s14"/><path d="M162.3 278L131.5 289.8L131.3 248.5L162.5 237.5z" class="s14"/><path d="M162.3 278L131.5 289.8L163.1 302L193.9 289.8z" class="s14"/><path d="M162.5 237.5L131.3 248.5L163.3 260L194.4 248.5z" class="s14"/><path d="M131.5 289.8L163.1 302L163.3 260L131.3 248.5z" class="s14"/><path d="M193.9 289.8L163.1 302L163.3 260L194.4 248.5z" class="s14"/><path d="M128.4 176.2L159.2 185.8L159.4 143.3L128.2 134.6z" class="s16"/><path d="M128.4 176.2L96.8 185.8L96.2 143.3L128.2 134.6z" class="s16"/><path d="M128.4 176.2L96.8 185.8L127.6 195.7L159.2 185.8z" class="s16"/><path d="M128.2 134.6L96.2 143.3L127.4 152.5L159.4 143.3z" class="s16"/><path d="M96.8 185.8L127.6 195.7L127.4 152.5L96.2 143.3z" class="s16"/><path d="M159.2 185.8L127.6 195.7L127.4 152.5L159.4 143.3z" class="s16"/><path d="M162.5 233L194.5 243.9L195.1 201.6L162.7 191.5z" class="s14"/><path d="M162.5 233L131.3 243.9L131.2 201.6L162.7 191.5z" class="s14"/><path d="M162.5 233L131.3 243.9L163.3 255.3L194.5 243.9z" class="s14"/><path d="M162.7 191.5L131.2 201.6L163.5 212.2L195.1 201.6z" class="s14"/><path d="M131.3 243.9L163.3 255.3L163.5 212.2L131.2 201.6z" class="s14"/><path d="M194.5 243.9L163.3 255.3L163.5 212.2L195.1 201.6z" class="s14"/><path d="M342.7 123.5L374 134.9L375.2 92.6L342.7 83.7" class="s0"/><path d="M342.7 123.5L311.4 134.9L310.2 92.6L342.7 83.7" class="s1"/><path d="M342.7 123.5L311.4 134.9L342.7 148L374 134.9" class="s2"/><g/><g/><g/><path d="M374 134.9L342.7 148" class="s3"/><path d="M311.4 134.9L342.7 148" class="s3"/><path d="M311.4 134.9L310.2 92.6" class="s3"/><path d="M342.7 125.8L348.7 128L348.7 120.9L342.7 118.8z" class="s6"/><path d="M342.7 125.8L336.8 128L336.7 120.9L342.7 118.8z" class="s6"/><path d="M342.7 125.8L336.8 128L342.7 130.2L348.7 128z" class="s6"/><path d="M342.7 118.8L336.7 120.9L342.7 123.1L348.7 120.9z" class="s6"/><path d="M336.8 128L342.7 130.2L342.7 123.1L336.7 120.9z" class="s6"/><path d="M348.7 128L342.7 130.2L342.7 123.1L348.7 120.9z" class="s6"/><g transform="translate(333.5 122.7) scale(0.273 -0.273)"><use href="#DejaVuSans-2705"/></g><g transform="translate(289.8 70.58) scale(0.12 -0.1104)"><use href="#DejaVuSans-50"/><use href="#DejaVuSans-69" transform="translate(58.05 0)"/><use href="#DejaVuSans-65" transform="translate(85.84 0)"/><use href="#DejaVuSans-63" transform="translate(147.4 0)"/><use href="#DejaVuSans-65" transform="translate(202.3 0)"/><use href="#DejaVuSans-20" transform="translate(263.9 0)"/><use href="#DejaVuSans-30" transform="translate(295.7 0)"/><use href="#DejaVuSans-20" transform="translate(359.3 0)"/><use href="#DejaVuSans-28" transform="translate(391.1 0)"/><use href="#DejaVuSans-50" transform="translate(430.1 0)"/><use href="#DejaVuSans-4c" transform="translate(490.4 0)"/><use href="#DejaVuSans-41" transform="translate(548.3 0)"/><use href="#DejaVuSans-43" transform="translate(615 0)"/><use href="#DejaVuSans-45" transform="translate(684.8 0)"/><use href="#DejaVuSans-44" transform="translate(748 0)"/><use href="#DejaVuSans-29" transform="translate(825 0)"/></g><path d="M342.7 118L348.7 120.1L348.7 112.9L342.7 110.9z" class="s6"/><path d="M342.7 118L336.7 120.1L336.7 112.9L342.7 110.9z" class="s6"/><path d="M342.7 118L336.7 120.1L342.7 122.3L348.7 120.1z" class="s6"/><path d="M342.7 110.9L336.7 112.9L342.7 115L348.7 112.9z" class="s6"/><path d="M336.7 120.1L342.7 122.3L342.7 115L336.7 112.9z" class="s6"/><path d="M348.7 120.1L342.7 122.3L342.7 115L348.7 112.9z" class="s6"/><path d="M342.7 110.1L348.8 112.1L348.8 104.8L342.7 102.9z" class="s6"/><path d="M342.7 110.1L336.7 112.1L336.6 104.8L342.7 102.9z" class="s6"/><path d="M342.7 110.1L336.7 112.1L342.7 114.2L348.8 112.1z" class="s6"/><path d="M342.7 102.9L336.6 104.8L342.7 106.8L348.8 104.8z" class="s6"/><path d="M336.7 112.1L342.7 114.2L342.7 106.8L336.6 104.8z" class="s6"/><path d="M348.8 112.1L342.7 114.2L342.7 106.8L348.8 104.8z" class="s6"/><path d="M422.9 123.5L454.2 134.9L455.4 92.6L422.9 83.7" class="s0"/><path d="M422.9 123.5L391.6 134.9L390.4 92.6L422.9 83.7" class="s1"/><path d="M422.9 123.5L391.6 134.9L422.9 148L454.2 134.9" class="s2"/><g/><g/><g/><path d="M454.2 134.9L422.9 148" class="s3"/><path d="M391.6 134.9L422.9 148" class="s3"/><path d="M391.6 134.9L390.4 92.6" class="s3"/><path d="M416.7 117.9L422.3 119.9L422.3 113L416.7 111.1z" class="s7"/><path d="M416.7 117.9L411 119.9L411 113L416.7 111.1z" class="s7"/><path d="M416.7 117.9L411 119.9L416.6 121.9L422.3 119.9z" class="s7"/><path d="M416.7 111.1L411 113L416.5 114.9L422.3 113z" class="s7"/><path d="M411 119.9L416.6 121.9L416.5 114.9L411 113z" class="s7"/><path d="M422.3 119.9L416.6 121.9L416.5 114.9L422.3 113z" class="s7"/><g transform="translate(413.7 122.7) scale(0.273 -0.273)"><use href="#DejaVuSans-2705"/></g><g transform="translate(370 70.58) scale(0.12 -0.1104)"><use href="#DejaVuSans-50"/><use href="#DejaVuSans-69" transform="translate(58.05 0)"/><use href="#DejaVuSans-65" transform="translate(85.84 0)"/><use href="#DejaVuSans-63" transform="translate(147.4 0)"/><use href="#DejaVuSans-65" transform="translate(202.3 0)"/><use href="#DejaVuSans-20" transform="translate(263.9 0)"/><use href="#DejaVuSans-31" transform="translate(295.7 0)"/><use href="#DejaVuSans-20" transform="translate(359.3 0)"/><use href="#DejaVuSans-28" transform="translate(391.1 0)"/><use href="#DejaVuSans-50" transform="translate(430.1 0)"/><use href="#DejaVuSans-4c" transform="translate(490.4 0)"/><use href="#DejaVuSans-41" transform="translate(548.3 0)"/><use href="#DejaVuSans-43" transform="translate(615 0)"/><use href="#DejaVuSans-45" transform="translate(684.8 0)"/><use href="#DejaVuSans-44" transform="translate(748 0)"/><use href="#DejaVuSans-29" transform="translate(825 0)"/></g><path d="M429.1 117.9L434.7 119.9L434.8 113L429.1 111.1z" class="s7"/><path d="M429.1 117.9L423.5 119.9L423.5 113L429.1 111.1z" class="s7"/><path d="M429.1 117.9L423.5 119.9L429.2 121.9L434.7 119.9z" class="s7"/><path d="M429.1 111.1L423.5 113L429.3 114.9L434.8 113z" class="s7"/><path d="M423.5 119.9L429.2 121.9L429.3 114.9L423.5 113z" class="s7"/><path d="M434.7 119.9L429.2 121.9L429.3 114.9L434.8 113z" class="s7"/><path d="M422.9 120.1L428.6 122.1L428.6 115.1L422.9 113.2z" class="s7"/><path d="M422.9 120.1L417.2 122.1L417.2 115.1L422.9 113.2z" class="s7"/><path d="M422.9 120.1L417.2 122.1L422.9 124.2L428.6 122.1z" class="s7"/><path d="M422.9 113.2L417.2 115.1L422.9 117.1L428.6 115.1z" class="s7"/><path d="M417.2 122.1L422.9 124.2L422.9 117.1L417.2 115.1z" class="s7"/><path d="M428.6 122.1L422.9 124.2L422.9 117.1L428.6 115.1z" class="s7"/><path d="M342.7 239.8L374 251.2L375.2 208.8L342.7 200" class="s0"/><path d="M342.7 239.8L311.4 251.2L310.2 208.8L342.7 200" class="s1"/><path d="M342.7 239.8L311.4 251.2L342.7 264.3L374 251.2" class="s2"/><g/><g/><g/><path d="M374 251.2L342.7 264.3" class="s3"/><path d="M311.4 251.2L342.7 264.3" class="s3"/><path d="M311.4 251.2L310.2 208.8" class="s3"/><path d="M345.7 234.7L351.2 236.6L351.3 229.9L345.7 228z" class="s8"/><path d="M345.7 234.7L340.3 236.6L340.3 229.9L345.7 228z" class="s8"/><path d="M345.7 234.7L340.3 236.6L345.8 238.6L351.2 236.6z" class="s8"/><path d="M345.7 228L340.3 229.9L345.8 231.8L351.3 229.9z" class="s8"/><path d="M340.3 236.6L345.8 238.6L345.8 231.8L340.3 229.9z" class="s8"/><path d="M351.2 236.6L345.8 238.6L345.8 231.8L351.3 229.9z" class="s8"/><g transform="translate(320.1 186.8) scale(0.12 -0.1104)"><use href="#DejaVuSans-50"/><use href="#DejaVuSans-69" transform="translate(58.05 0)"/><use href="#DejaVuSans-65" transform="translate(85.84 0)"/><use href="#DejaVuSans-63" transform="translate(147.4 0)"/><use href="#DejaVuSans-65" transform="translate(202.3 0)"/><use href="#DejaVuSans-20" transform="translate(263.9 0)"/><use href="#DejaVuSans-32" transform="translate(295.7 0)"/></g><path d="M345.7 227.3L351.3 229.1L351.3 222.3L345.8 220.5z" class="s8"/><path d="M345.7 227.3L340.3 229.1L340.2 222.3L345.8 220.5z" class="s8"/><path d="M345.7 227.3L340.3 229.1L345.8 231L351.3 229.1z" class="s8"/><path d="M345.8 220.5L340.2 222.3L345.8 224.1L351.3 222.3z" class="s8"/><path d="M340.3 229.1L345.8 231L345.8 224.1L340.2 222.3z" class="s8"/><path d="M351.3 229.1L345.8 231L345.8 224.1L351.3 222.3z" class="s8"/><path d="M339.7 236.8L345.2 238.8L345.2 232L339.6 230.1z" class="s8"/><path d="M339.7 236.8L334.1 238.8L334 232L339.6 230.1z" class="s8"/><path d="M339.7 236.8L334.1 238.8L339.6 240.8L345.2 238.8z" class="s8"/><path d="M339.6 230.1L334 232L339.6 233.9L345.2 232z" class="s8"/><path d="M334.1 238.8L339.6 240.8L339.6 233.9L334 232z" class="s8"/><path d="M345.2 238.8L339.6 240.8L339.6 233.9L345.2 232z" class="s8"/><path d="M339.6 229.3L345.2 231.2L345.2 224.3L339.6 222.5z" class="s8"/><path d="M339.6 229.3L334 231.2L334 224.3L339.6 222.5z" class="s8"/><path d="M339.6 229.3L334 231.2L339.6 233.2L345.2 231.2z" class="s8"/><path d="M339.6 222.5L334 224.3L339.5 226.2L345.2 224.3z" class="s8"/><path d="M334 231.2L339.6 233.2L339.5 226.2L334 224.3z" class="s8"/><path d="M345.2 231.2L339.6 233.2L339.5 226.2L345.2 224.3z" class="s8"/><path d="M351.9 229.3L357.6 231.2L357.7 224.3L352 222.5z" class="s8"/><path d="M351.9 229.3L346.4 231.2L346.5 224.3L352 222.5z" class="s8"/><path d="M351.9 229.3L346.4 231.2L352.2 233.2L357.6 231.2z" class="s8"/><path d="M352 222.5L346.5 224.3L352.2 226.2L357.7 224.3z" class="s8"/><path d="M346.4 231.2L352.2 233.2L352.2 226.2L346.5 224.3z" class="s8"/><path d="M357.6 231.2L352.2 233.2L352.2 226.2L357.7 224.3z" class="s8"/><path d="M333.4 231.4L338.9 233.4L338.9 226.4L333.3 224.5z" class="s8"/><path d="M333.4 231.4L327.6 233.4L327.5 226.4L333.3 224.5z" class="s8"/><path d="M333.4 231.4L327.6 233.4L333.1 235.4L338.9 233.4z" class="s8"/><path d="M333.3 224.5L327.5 226.4L333.1 228.3L338.9 226.4z" class="s8"/><path d="M327.6 233.4L333.1 235.4L333.1 228.3L327.5 226.4z" class="s8"/><path d="M338.9 233.4L333.1 235.4L333.1 228.3L338.9 226.4z" class="s8"/><path d="M422.9 239.8L454.2 251.2L455.4 208.8L422.9 200" class="s0"/><path d="M422.9 239.8L391.6 251.2L390.4 208.8L422.9 200" class="s1"/><path d="M422.9 239.8L391.6 251.2L422.9 264.3L454.2 251.2" class="s2"/><g/><g/><g/><path d="M454.2 251.2L422.9 264.3" class="s3"/><path d="M391.6 251.2L422.9 264.3" class="s3"/><path d="M391.6 251.2L390.4 208.8" class="s3"/><path d="M419.8 233.1L425.4 235L425.4 228.2L419.8 226.3z" class="s9"/><path d="M419.8 233.1L414.2 235L414.2 228.2L419.8 226.3z" class="s9"/><path d="M419.8 233.1L414.2 235L419.8 237L425.4 235z" class="s9"/><path d="M419.8 226.3L414.2 228.2L419.7 230.1L425.4 228.2z" class="s9"/><path d="M414.2 235L419.8 237L419.7 230.1L414.2 228.2z" class="s9"/><path d="M425.4 235L419.8 237L419.7 230.1L425.4 228.2z" class="s9"/><g transform="translate(413.7 238.9) scale(0.273 -0.273)"><use href="#DejaVuSans-2705"/></g><g transform="translate(370 186.8) scale(0.12 -0.1104)"><use href="#DejaVuSans-50"/><use href="#DejaVuSans-69" transform="translate(58.05 0)"/><use href="#DejaVuSans-65" transform="translate(85.84 0)"/><use href="#DejaVuSans-63" transform="translate(147.4 0)"/><use href="#DejaVuSans-65" transform="translate(202.3 0)"/><use href="#DejaVuSans-20" transform="translate(263.9 0)"/><use href="#DejaVuSans-33" transform="translate(295.7 0)"/><use href="#DejaVuSans-20" transform="translate(359.3 0)"/><use href="#DejaVuSans-28" transform="translate(391.1 0)"/><use href="#DejaVuSans-50" transform="translate(430.1 0)"/><use href="#DejaVuSans-4c" transform="translate(490.4 0)"/><use href="#DejaVuSans-41" transform="translate(548.3 0)"/><use href="#DejaVuSans-43" transform="translate(615 0)"/><use href="#DejaVuSans-45" transform="translate(684.8 0)"/><use href="#DejaVuSans-44" transform="translate(748 0)"/><use href="#DejaVuSans-29" transform="translate(825 0)"/></g><path d="M432.1 233.1L437.8 235L437.9 228.2L432.1 226.3z" class="s9"/><path d="M432.1 233.1L426.6 235L426.6 228.2L432.1 226.3z" class="s9"/><path d="M432.1 233.1L426.6 235L432.3 237L437.8 235z" class="s9"/><path d="M432.1 226.3L426.6 228.2L432.4 230.1L437.9 228.2z" class="s9"/><path d="M426.6 235L432.3 237L432.4 230.1L426.6 228.2z" class="s9"/><path d="M437.8 235L432.3 237L432.4 230.1L437.9 228.2z" class="s9"/><path d="M413.6 235.2L419.1 237.2L419.1 230.3L413.5 228.4z" class="s9"/><path d="M413.6 235.2L407.8 237.2L407.7 230.3L413.5 228.4z" class="s9"/><path d="M413.6 235.2L407.8 237.2L413.3 239.3L419.1 237.2z" class="s9"/><path d="M413.5 228.4L407.7 230.3L413.3 232.3L419.1 230.3z" class="s9"/><path d="M407.8 237.2L413.3 239.3L413.3 232.3L407.7 230.3z" class="s9"/><path d="M419.1 237.2L413.3 239.3L413.3 232.3L419.1 230.3z" class="s9"/><path d="M426 235.2L431.7 237.2L431.7 230.3L426 228.4z" class="s9"/><path d="M426 235.2L420.4 237.2L420.4 230.3L426 228.4z" class="s9"/><path d="M426 235.2L420.4 237.2L426.1 239.3L431.7 237.2z" class="s9"/><path d="M426 228.4L420.4 230.3L426.1 232.3L431.7 230.3z" class="s9"/><path d="M420.4 237.2L426.1 239.3L426.1 232.3L420.4 230.3z" class="s9"/><path d="M431.7 237.2L426.1 239.3L426.1 232.3L431.7 230.3z" class="s9"/><path d="M342.7 356.7L374 368.1L375.2 325.7L342.7 316.9" class="s0"/><path d="M342.7 356.7L311.4 368.1L310.2 325.7L342.7 316.9" class="s1"/><path d="M342.7 356.7L311.4 368.1L342.7 381.2L374 368.1" class="s2"/><g/><g/><g/><path d="M374 368.1L342.7 381.2" class="s3"/><path d="M311.4 368.1L342.7 381.2" class="s3"/><path d="M311.4 368.1L310.2 325.7" class="s3"/><path d="M342.7 352.7L348.2 354.6L348.3 347.9L342.7 346z" class="s10"/><path d="M342.7 352.7L337.2 354.6L337.2 347.9L342.7 346z" class="s10"/><path d="M342.7 352.7L337.2 354.6L342.7 356.6L348.2 354.6z" class="s10"/><path d="M342.7 346L337.2 347.9L342.7 349.8L348.3 347.9z" class="s10"/><path d="M337.2 354.6L342.7 356.6L342.7 349.8L337.2 347.9z" class="s10"/><path d="M348.2 354.6L342.7 356.6L342.7 349.8L348.3 347.9z" class="s10"/><g transform="translate(333.5 355.9) scale(0.273 -0.273)"><use href="#DejaVuSans-2705"/></g><g transform="translate(289.8 303.8) scale(0.12 -0.1104)"><use href="#DejaVuSans-50"/><use href="#DejaVuSans-69" transform="translate(58.05 0)"/><use href="#DejaVuSans-65" transform="translate(85.84 0)"/><use href="#DejaVuSans-63" transform="translate(147.4 0)"/><use href="#DejaVuSans-65" transform="translate(202.3 0)"/><use href="#DejaVuSans-20" transform="translate(263.9 0)"/><use href="#DejaVuSans-34" transform="translate(295.7 0)"/><use href="#DejaVuSans-20" transform="translate(359.3 0)"/><use href="#DejaVuSans-28" transform="translate(391.1 0)"/><use href="#DejaVuSans-50" transform="translate(430.1 0)"/><use href="#DejaVuSans-4c" transform="translate(490.4 0)"/><use href="#DejaVuSans-41" transform="translate(548.3 0)"/><use href="#DejaVuSans-43" transform="translate(615 0)"/><use href="#DejaVuSans-45" transform="translate(684.8 0)"/><use href="#DejaVuSans-44" transform="translate(748 0)"/><use href="#DejaVuSans-29" transform="translate(825 0)"/></g><path d="M342.7 345.2L348.3 347.1L348.3 340.2L342.7 338.4z" class="s10"/><path d="M342.7 345.2L337.2 347.1L337.1 340.2L342.7 338.4z" class="s10"/><path d="M342.7 345.2L337.2 347.1L342.7 349L348.3 347.1z" class="s10"/><path d="M342.7 338.4L337.1 340.2L342.7 342.1L348.3 340.2z" class="s10"/><path d="M337.2 347.1L342.7 349L342.7 342.1L337.1 340.2z" class="s10"/><path d="M348.3 347.1L342.7 349L342.7 342.1L348.3 340.2z" class="s10"/><path d="M336.6 354.8L342.1 356.9L342.1 350L336.5 348.1z" class="s10"/><path d="M336.6 354.8L330.9 356.9L330.8 350L336.5 348.1z" class="s10"/><path d="M336.6 354.8L330.9 356.9L336.4 358.9L342.1 356.9z" class="s10"/><path d="M336.5 348.1L330.8 350L336.4 352L342.1 350z" class="s10"/><path d="M330.9 356.9L336.4 358.9L336.4 352L330.8 350z" class="s10"/><path d="M342.1 356.9L336.4 358.9L336.4 352L342.1 350z" class="s10"/><path d="M348.8 354.8L354.5 356.9L354.6 350L348.9 348.1z" class="s10"/><path d="M348.8 354.8L343.3 356.9L343.3 350L348.9 348.1z" class="s10"/><path d="M348.8 354.8L343.3 356.9L349 358.9L354.5 356.9z" class="s10"/><path d="M348.9 348.1L343.3 350L349 352L354.6 350z" class="s10"/><path d="M343.3 356.9L349 358.9L349 352L343.3 350z" class="s10"/><path d="M354.5 356.9L349 358.9L349 352L354.6 350z" class="s10"/><path d="M422.9 356.7L454.2 368.1L455.4 325.7L422.9 316.9" class="s0"/><path d="M422.9 356.7L391.6 368.1L390.4 325.7L422.9 316.9" class="s1"/><path d="M422.9 356.7L391.6 368.1L422.9 381.2L454.2 368.1" class="s2"/><g/><g/><g/><path d="M454.2 368.1L422.9 381.2" class="s3"/><path d="M391.6 368.1L422.9 381.2" class="s3"/><path d="M391.6 368.1L390.4 325.7" class="s3"/><path d="M419.8 353.8L425.4 355.7L425.4 348.9L419.8 347z" class="s11"/><path d="M419.8 353.8L414.3 355.7L414.2 348.9L419.8 347z" class="s11"/><path d="M419.8 353.8L414.3 355.7L419.8 357.8L425.4 355.7z" class="s11"/><path d="M419.8 347L414.2 348.9L419.8 350.9L425.4 348.9z" class="s11"/><path d="M414.3 355.7L419.8 357.8L419.8 350.9L414.2 348.9z" class="s11"/><path d="M425.4 355.7L419.8 357.8L419.8 350.9L425.4 348.9z" class="s11"/><g transform="translate(413.7 355.9) scale(0.273 -0.273)"><use href="#DejaVuSans-2705"/></g><g transform="translate(370 303.8) scale(0.12 -0.1104)"><use href="#DejaVuSans-50"/><use href="#DejaVuSans-69" transform="translate(58.05 0)"/><use href="#DejaVuSans-65" transform="translate(85.84 0)"/><use href="#DejaVuSans-63" transform="translate(147.4 0)"/><use href="#DejaVuSans-65" transform="translate(202.3 0)"/><use href="#DejaVuSans-20" transform="translate(263.9 0)"/><use href="#DejaVuSans-35" transform="translate(295.7 0)"/><use href="#DejaVuSans-20" transform="translate(359.3 0)"/><use href="#DejaVuSans-28" transform="translate(391.1 0)"/><use href="#DejaVuSans-50" transform="translate(430.1 0)"/><use href="#DejaVuSans-4c" transform="translate(490.4 0)"/><use href="#DejaVuSans-41" transform="translate(548.3 0)"/><use href="#DejaVuSans-43" transform="translate(615 0)"/><use href="#DejaVuSans-45" transform="translate(684.8 0)"/><use href="#DejaVuSans-44" transform="translate(748 0)"/><use href="#DejaVuSans-29" transform="translate(825 0)"/></g><path d="M419.8 346.3L425.4 348.2L425.4 341.3L419.8 339.4z" class="s11"/><path d="M419.8 346.3L414.2 348.2L414.1 341.3L419.8 339.4z" class="s11"/><path d="M419.8 346.3L414.2 348.2L419.7 350.1L425.4 348.2z" class="s11"/><path d="M419.8 339.4L414.1 341.3L419.7 343.1L425.4 341.3z" class="s11"/><path d="M414.2 348.2L419.7 350.1L419.7 343.1L414.1 341.3z" class="s11"/><path d="M425.4 348.2L419.7 350.1L419.7 343.1L425.4 341.3z" class="s11"/><path d="M426 356L431.7 358L431.7 351.1L426 349.1z" class="s11"/><path d="M426 356L420.4 358L420.4 351.1L426 349.1z" class="s11"/><path d="M426 356L420.4 358L426.1 360.1L431.7 358z" class="s11"/><path d="M426 349.1L420.4 351.1L426.1 353.1L431.7 351.1z" class="s11"/><path d="M420.4 358L426.1 360.1L426.1 353.1L420.4 351.1z" class="s11"/><path d="M431.7 358L426.1 360.1L426.1 353.1L431.7 351.1z" class="s11"/><path d="M426 348.4L431.7 350.3L431.8 343.3L426 341.5z" class="s11"/><path d="M426 348.4L420.4 350.3L420.4 343.3L426 341.5z" class="s11"/><path d="M426 348.4L420.4 350.3L426.1 352.3L431.7 350.3z" class="s11"/><path d="M426 341.5L420.4 343.3L426.1 345.3L431.8 343.3z" class="s11"/><path d="M420.4 350.3L426.1 352.3L426.1 345.3L420.4 343.3z" class="s11"/><path d="M431.7 350.3L426.1 352.3L426.1 345.3L431.8 343.3z" class="s11"/><g class="s12" transform="translate(346.6 34.38) scale(0.1 -0.1)"><use href="#DejaVuSans-Oblique-50"/><use href="#DejaVuSans-Oblique-69" transform="translate(60.3 0)"/><use href="#DejaVuSans-Oblique-65" transform="translate(88.09 0)"/><use href="#DejaVuSans-Oblique-63" transform="translate(149.6 0)"/><use href="#DejaVuSans-Oblique-65" transform="translate(204.6 0)"/><use href="#DejaVuSans-Oblique-73" transform="translate(266.1 0)"/></g></svg></div>
<div class="cap" style="left:34.9px;top:596.75px"><span><i>(e)</i> Step 5</span></div>
<div class="pn" style="left:374px;top:320px"><svg width="360" height="262" viewBox="-0.340 -0.511 612.766 445.957"><path d="M129.7 284.6L228.9 322.8L233.1 140.9L129 113.3" class="s0"/><path d="M129.7 284.6L63.7 309.5L59.7 131.3L129 113.3" class="s1"/><path d="M129.7 284.6L63.7 309.5L162.9 351.4L228.9 322.8" class="s2"/><path d="M228.9 322.8L162.9 351.4" class="s3"/><path d="M212.1 329.3L214.7 330.3" class="s3"/><g transform="translate(217.6 353.8) scale(0.1 -0.1)"><use href="#DejaVuSans-30"/></g><path d="M179.1 343.6L181.7 344.7" class="s3"/><g transform="translate(184.8 368.5) scale(0.1 -0.1)"><use href="#DejaVuSans-31"/></g><g transform="translate(217.4 390.6) scale(0.1 -0.1)"><use href="#DejaVuSans-58"/></g><path d="M63.7 309.5L162.9 351.4" class="s3"/><path d="M79.8 315.8L78.2 316.5" class="s3"/><g transform="translate(71.08 338.7) scale(0.1 -0.1)"><use href="#DejaVuSans-30"/></g><path d="M112.1 329.4L110.4 330.1" class="s3"/><g transform="translate(103.2 352.7) scale(0.1 -0.1)"><use href="#DejaVuSans-31"/></g><path d="M145.9 343.7L144.2 344.4" class="s3"/><g transform="translate(136.9 367.3) scale(0.1 -0.1)"><use href="#DejaVuSans-32"/></g><g transform="translate(92.67 379.9) scale(0.1 -0.1)"><use href="#DejaVuSans-59"/></g><path d="M63.7 309.5L59.7 131.3" class="s3"/><path d="M63.8 287.9L62.1 288.5" class="s3"/><g transform="translate(47.72 294.7) scale(0.1 -0.1)"><use href="#DejaVuSans-30"/></g><path d="M62.8 244.4L61.1 245" class="s3"/><g transform="translate(46.59 251.3) scale(0.1 -0.1)"><use href="#DejaVuSans-31"/></g><path d="M61.8 199.9L60.1 200.5" class="s3"/><g transform="translate(45.45 206.9) scale(0.1 -0.1)"><use href="#DejaVuSans-32"/></g><path d="M60.8 154.4L59.1 154.8" class="s3"/><g transform="translate(44.27 161.4) scale(0.1 -0.1)"><use href="#DejaVuSans-33"/></g><g transform="translate(19.96 222.6) scale(0.1 -0.1)"><use href="#DejaVuSans-5a"/></g><path d="M129.7 284.6L129 113.3" class="s4"/><path d="M228.9 322.8L233.1 140.9" class="s4"/><path d="M63.7 309.5L59.7 131.3" class="s4"/><path d="M162.9 351.4L163.8 161.7" class="s4"/><path d="M129.7 284.6L228.9 322.8" class="s4"/><path d="M129 113.3L233.1 140.9" class="s4"/><path d="M63.7 309.5L162.9 351.4" class="s4"/><path d="M59.7 131.3L163.8 161.7" class="s4"/><path d="M129.7 284.6L63.7 309.5" class="s4"/><path d="M129 113.3L59.7 131.3" class="s4"/><path d="M228.9 322.8L162.9 351.4" class="s4"/><path d="M233.1 140.9L163.8 161.7" class="s4"/><path d="M129.7 283.7L158.1 294.6L158.3 256.7L129.5 246.4z" class="s5"/><path d="M129.7 283.7L100.6 294.6L100.1 256.7L129.5 246.4z" class="s5"/><path d="M129.7 283.7L100.6 294.6L129.1 306L158.1 294.6z" class="s5"/><path d="M129.5 246.4L100.1 256.7L128.9 267.4L158.3 256.7z" class="s5"/><path d="M100.6 294.6L129.1 306L128.9 267.4L100.1 256.7z" class="s5"/><path d="M158.1 294.6L129.1 306L128.9 267.4L158.3 256.7z" class="s5"/><g transform="translate(71.03 87.52) scale(0.12 -0.1248)"><use href="#DejaVuSans-32"/><use href="#DejaVuSans-78" transform="translate(63.62 0)"/><use href="#DejaVuSans-33" transform="translate(122.8 0)"/><use href="#DejaVuSans-78" transform="translate(186.4 0)"/><use href="#DejaVuSans-34" transform="translate(245.6 0)"/><use href="#DejaVuSans-2f" transform="translate(309.2 0)"/><use href="#DejaVuSans-70" transform="translate(342.9 0)"/><use href="#DejaVuSans-75" transform="translate(406.4 0)"/><use href="#DejaVuSans-7a" transform="translate(469.8 0)"/><use href="#DejaVuSans-7a" transform="translate(522.3 0)"/><use href="#DejaVuSans-6c" transform="translate(574.8 0)"/><use href="#DejaVuSans-65" transform="translate(602.5 0)"/><use href="#DejaVuSans-5f" transform="translate(664.1 0)"/><use href="#DejaVuSans-68" transform="translate(714.1 0)"/><use href="#DejaVuSans-61" transform="translate(777.4 0)"/><use href="#DejaVuSans-72" transform="translate(838.7 0)"/><use href="#DejaVuSans-64" transform="translate(878.1 0)"/><use href="#DejaVuSans-5f" transform="translate(941.6 0)"/><use href="#DejaVuSans-30" transform="translate(991.6 0)"/><use href="#DejaVuSans-30" transform="translate(1055 0)"/><use href="#DejaVuSans-35" transform="translate(1119 0)"/></g><g transform="translate(109.3 101.3) scale(0.12 -0.1248)"><use href="#DejaVuSans-31"/><use href="#DejaVuSans-30" transform="translate(63.62 0)"/><use href="#DejaVuSans-2f" transform="translate(127.2 0)"/><use href="#DejaVuSans-32" transform="translate(160.9 0)"/><use href="#DejaVuSans-34" transform="translate(224.6 0)"/><use href="#DejaVuSans-20" transform="translate(288.2 0)"/><use href="#DejaVuSans-63" transform="translate(320 0)"/><use href="#DejaVuSans-65" transform="translate(375 0)"/><use href="#DejaVuSans-6c" transform="translate(436.5 0)"/><use href="#DejaVuSans-6c" transform="translate(464.3 0)"/><use href="#DejaVuSans-73" transform="translate(492 0)"/></g><path d="M129.5 242.2L158.3 252.5L158.4 213.6L129.3 204.1z" class="s5"/><path d="M129.5 242.2L100.1 252.5L99.6 213.6L129.3 204.1z" class="s5"/><path d="M129.5 242.2L100.1 252.5L128.9 263.1L158.3 252.5z" class="s5"/><path d="M129.3 204.1L99.6 213.6L128.7 223.6L158.4 213.6z" class="s5"/><path d="M100.1 252.5L128.9 263.1L128.7 223.6L99.6 213.6z" class="s5"/><path d="M158.3 252.5L128.9 263.1L128.7 223.6L158.4 213.6z" class="s5"/><path d="M129.3 199.8L158.4 209.3L158.6 169.5L129.2 160.8z" class="s5"/><path d="M129.3 199.8L99.6 209.3L99.1 169.5L129.2 160.8z" class="s5"/><path d="M129.3 199.8L99.6 209.3L128.7 219.2L158.4 209.3z" class="s5"/><path d="M129.2 160.8L99.1 169.5L128.5 178.7L158.6 169.5z" class="s5"/><path d="M99.6 209.3L128.7 219.2L128.5 178.7L99.1 169.5z" class="s5"/><path d="M158.4 209.3L128.7 219.2L128.5 178.7L158.6 169.5z" class="s5"/><path d="M129 308.6L158.7 320.6L158.9 281.2L128.8 269.9z" class="s13"/><path d="M129 308.6L98.5 320.6L98 281.2L128.8 269.9z" class="s13"/><path d="M129 308.6L98.5 320.6L128.3 333.1L158.7 320.6z" class="s13"/><path d="M128.8 269.9L98 281.2L128.1 293L158.9 281.2z" class="s13"/><path d="M98.5 320.6L128.3 333.1L128.1 293L98 281.2z" class="s13"/><path d="M158.7 320.6L128.3 333.1L128.1 293L158.9 281.2z" class="s13"/><path d="M194.5 308.6L225.6 320.6L226.5 281.2L195 269.9z" class="s13"/><path d="M194.5 308.6L165.4 320.6L165.6 281.2L195 269.9z" class="s13"/><path d="M194.5 308.6L165.4 320.6L196.6 333.1L225.6 320.6z" class="s13"/><path d="M195 269.9L165.6 281.2L197.2 293L226.5 281.2z" class="s13"/><path d="M165.4 320.6L196.6 333.1L197.2 293L165.6 281.2z" class="s13"/><path d="M225.6 320.6L196.6 333.1L197.2 293L226.5 281.2z" class="s13"/><path d="M195.1 265.5L226.6 276.7L227.5 236.4L195.6 225.9z" class="s14"/><path d="M195.1 265.5L165.7 276.7L165.9 236.4L195.6 225.9z" class="s14"/><path d="M195.1 265.5L165.7 276.7L197.2 288.4L226.6 276.7z" class="s14"/><path d="M195.6 225.9L165.9 236.4L197.8 247.3L227.5 236.4z" class="s14"/><path d="M165.7 276.7L197.2 288.4L197.8 247.3L165.9 236.4z" class="s14"/><path d="M226.6 276.7L197.2 288.4L197.8 247.3L227.5 236.4z" class="s14"/><path d="M162.1 322L193.3 334.5L193.8 294.3L162.3 282.5z" class="s13"/><path d="M162.1 322L131.7 334.5L131.5 294.3L162.3 282.5z" class="s13"/><path d="M162.1 322L131.7 334.5L162.8 347.6L193.3 334.5z" class="s13"/><path d="M162.3 282.5L131.5 294.3L163 306.7L193.8 294.3z" class="s13"/><path d="M131.7 334.5L162.8 347.6L163 306.7L131.5 294.3z" class="s13"/><path d="M193.3 334.5L162.8 347.6L163 306.7L193.8 294.3z" class="s13"/><path d="M195.7 221.4L227.6 231.8L228.5 190.4L196.2 180.8z" class="s14"/><path d="M195.7 221.4L165.9 231.8L166.1 190.4L196.2 180.8z" class="s14"/><path d="M195.7 221.4L165.9 231.8L197.9 242.7L227.6 231.8z" class="s14"/><path d="M196.2 180.8L166.1 190.4L198.5 200.5L228.5 190.4z" class="s14"/><path d="M165.9 231.8L197.9 242.7L198.5 200.5L166.1 190.4z" class="s14"/><path d="M227.6 231.8L197.9 242.7L198.5 200.5L228.5 190.4z" class="s14"/><path d="M162.3 278L193.9 289.8L194.4 248.5L162.5 237.5z" class="s14"/><path d="M162.3 278L131.5 289.8L131.3 248.5L162.5 237.5z" class="s14"/><path d="M162.3 278L131.5 289.8L163.1 302L193.9 289.8z" class="s14"/><path d="M162.5 237.5L131.3 248.5L163.3 260L194.4 248.5z" class="s14"/><path d="M131.5 289.8L163.1 302L163.3 260L131.3 248.5z" class="s14"/><path d="M193.9 289.8L163.1 302L163.3 260L194.4 248.5z" class="s14"/><path d="M162.5 233L194.5 243.9L195.1 201.6L162.7 191.5z" class="s14"/><path d="M162.5 233L131.3 243.9L131.2 201.6L162.7 191.5z" class="s14"/><path d="M162.5 233L131.3 243.9L163.3 255.3L194.5 243.9z" class="s14"/><path d="M162.7 191.5L131.2 201.6L163.5 212.2L195.1 201.6z" class="s14"/><path d="M131.3 243.9L163.3 255.3L163.5 212.2L131.2 201.6z" class="s14"/><path d="M194.5 243.9L163.3 255.3L163.5 212.2L195.1 201.6z" class="s14"/><path d="M342.7 123.5L374 134.9L375.2 92.6L342.7 83.7" class="s0"/><path d="M342.7 123.5L311.4 134.9L310.2 92.6L342.7 83.7" class="s1"/><path d="M342.7 123.5L311.4 134.9L342.7 148L374 134.9" class="s2"/><g/><g/><g/><path d="M374 134.9L342.7 148" class="s3"/><path d="M311.4 134.9L342.7 148" class="s3"/><path d="M311.4 134.9L310.2 92.6" class="s3"/><path d="M342.7 125.8L348.7 128L348.7 120.9L342.7 118.8z" class="s6"/><path d="M342.7 125.8L336.8 128L336.7 120.9L342.7 118.8z" class="s6"/><path d="M342.7 125.8L336.8 128L342.7 130.2L348.7 128z" class="s6"/><path d="M342.7 118.8L336.7 120.9L342.7 123.1L348.7 120.9z" class="s6"/><path d="M336.8 128L342.7 130.2L342.7 123.1L336.7 120.9z" class="s6"/><path d="M348.7 128L342.7 130.2L342.7 123.1L348.7 120.9z" class="s6"/><g transform="translate(333.5 122.7) scale(0.273 -0.273)"><use href="#DejaVuSans-2705"/></g><g transform="translate(289.8 70.58) scale(0.12 -0.1104)"><use href="#DejaVuSans-50"/><use href="#DejaVuSans-69" transform="translate(58.05 0)"/><use href="#DejaVuSans-65" transform="translate(85.84 0)"/><use href="#DejaVuSans-63" transform="translate(147.4 0)"/><use href="#DejaVuSans-65" transform="translate(202.3 0)"/><use href="#DejaVuSans-20" transform="translate(263.9 0)"/><use href="#DejaVuSans-30" transform="translate(295.7 0)"/><use href="#DejaVuSans-20" transform="translate(359.3 0)"/><use href="#DejaVuSans-28" transform="translate(391.1 0)"/><use href="#DejaVuSans-50" transform="translate(430.1 0)"/><use href="#DejaVuSans-4c" transform="translate(490.4 0)"/><use href="#DejaVuSans-41" transform="translate(548.3 0)"/><use href="#DejaVuSans-43" transform="translate(615 0)"/><use href="#DejaVuSans-45" transform="translate(684.8 0)"/><use href="#DejaVuSans-44" transform="translate(748 0)"/><use href="#DejaVuSans-29" transform="translate(825 0)"/></g><path d="M342.7 118L348.7 120.1L348.7 112.9L342.7 110.9z" class="s6"/><path d="M342.7 118L336.7 120.1L336.7 112.9L342.7 110.9z" class="s6"/><path d="M342.7 118L336.7 120.1L342.7 122.3L348.7 120.1z" class="s6"/><path d="M342.7 110.9L336.7 112.9L342.7 115L348.7 112.9z" class="s6"/><path d="M336.7 120.1L342.7 122.3L342.7 115L336.7 112.9z" class="s6"/><path d="M348.7 120.1L342.7 122.3L342.7 115L348.7 112.9z" class="s6"/><path d="M342.7 110.1L348.8 112.1L348.8 104.8L342.7 102.9z" class="s6"/><path d="M342.7 110.1L336.7 112.1L336.6 104.8L342.7 102.9z" class="s6"/><path d="M342.7 110.1L336.7 112.1L342.7 114.2L348.8 112.1z" class="s6"/><path d="M342.7 102.9L336.6 104.8L342.7 106.8L348.8 104.8z" class="s6"/><path d="M336.7 112.1L342.7 114.2L342.7 106.8L336.6 104.8z" class="s6"/><path d="M348.8 112.1L342.7 114.2L342.7 106.8L348.8 104.8z" class="s6"/><path d="M422.9 123.5L454.2 134.9L455.4 92.6L422.9 83.7" class="s0"/><path d="M422.9 123.5L391.6 134.9L390.4 92.6L422.9 83.7" class="s1"/><path d="M422.9 123.5L391.6 134.9L422.9 148L454.2 134.9" class="s2"/><g/><g/><g/><path d="M454.2 134.9L422.9 148" class="s3"/><path d="M391.6 134.9L422.9 148" class="s3"/><path d="M391.6 134.9L390.4 92.6" class="s3"/><path d="M416.7 117.9L422.3 119.9L422.3 113L416.7 111.1z" class="s7"/><path d="M416.7 117.9L411 119.9L411 113L416.7 111.1z" class="s7"/><path d="M416.7 117.9L411 119.9L416.6 121.9L422.3 119.9z" class="s7"/><path d="M416.7 111.1L411 113L416.5 114.9L422.3 113z" class="s7"/><path d="M411 119.9L416.6 121.9L416.5 114.9L411 113z" class="s7"/><path d="M422.3 119.9L416.6 121.9L416.5 114.9L422.3 113z" class="s7"/><g transform="translate(413.7 122.7) scale(0.273 -0.273)"><use href="#DejaVuSans-2705"/></g><g transform="translate(370 70.58) scale(0.12 -0.1104)"><use href="#DejaVuSans-50"/><use href="#DejaVuSans-69" transform="translate(58.05 0)"/><use href="#DejaVuSans-65" transform="translate(85.84 0)"/><use href="#DejaVuSans-63" transform="translate(147.4 0)"/><use href="#DejaVuSans-65" transform="translate(202.3 0)"/><use href="#DejaVuSans-20" transform="translate(263.9 0)"/><use href="#DejaVuSans-31" transform="translate(295.7 0)"/><use href="#DejaVuSans-20" transform="translate(359.3 0)"/><use href="#DejaVuSans-28" transform="translate(391.1 0)"/><use href="#DejaVuSans-50" transform="translate(430.1 0)"/><use href="#DejaVuSans-4c" transform="translate(490.4 0)"/><use href="#DejaVuSans-41" transform="translate(548.3 0)"/><use href="#DejaVuSans-43" transform="translate(615 0)"/><use href="#DejaVuSans-45" transform="translate(684.8 0)"/><use href="#DejaVuSans-44" transform="translate(748 0)"/><use href="#DejaVuSans-29" transform="translate(825 0)"/></g><path d="M429.1 117.9L434.7 119.9L434.8 113L429.1 111.1z" class="s7"/><path d="M429.1 117.9L423.5 119.9L423.5 113L429.1 111.1z" class="s7"/><path d="M429.1 117.9L423.5 119.9L429.2 121.9L434.7 119.9z" class="s7"/><path d="M429.1 111.1L423.5 113L429.3 114.9L434.8 113z" class="s7"/><path d="M423.5 119.9L429.2 121.9L429.3 114.9L423.5 113z" class="s7"/><path d="M434.7 119.9L429.2 121.9L429.3 114.9L434.8 113z" class="s7"/><path d="M422.9 120.1L428.6 122.1L428.6 115.1L422.9 113.2z" class="s7"/><path d="M422.9 120.1L417.2 122.1L417.2 115.1L422.9 113.2z" class="s7"/><path d="M422.9 120.1L417.2 122.1L422.9 124.2L428.6 122.1z" class="s7"/><path d="M422.9 113.2L417.2 115.1L422.9 117.1L428.6 115.1z" class="s7"/><path d="M417.2 122.1L422.9 124.2L422.9 117.1L417.2 115.1z" class="s7"/><path d="M428.6 122.1L422.9 124.2L422.9 117.1L428.6 115.1z" class="s7"/><path d="M342.7 239.8L374 251.2L375.2 208.8L342.7 200" class="s0"/><path d="M342.7 239.8L311.4 251.2L310.2 208.8L342.7 200" class="s1"/><path d="M342.7 239.8L311.4 251.2L342.7 264.3L374 251.2" class="s2"/><g/><g/><g/><path d="M374 251.2L342.7 264.3" class="s3"/><path d="M311.4 251.2L342.7 264.3" class="s3"/><path d="M311.4 251.2L310.2 208.8" class="s3"/><path d="M345.7 234.7L351.2 236.6L351.3 229.9L345.7 228z" class="s8"/><path d="M345.7 234.7L340.3 236.6L340.3 229.9L345.7 228z" class="s8"/><path d="M345.7 234.7L340.3 236.6L345.8 238.6L351.2 236.6z" class="s8"/><path d="M345.7 228L340.3 229.9L345.8 231.8L351.3 229.9z" class="s8"/><path d="M340.3 236.6L345.8 238.6L345.8 231.8L340.3 229.9z" class="s8"/><path d="M351.2 236.6L345.8 238.6L345.8 231.8L351.3 229.9z" class="s8"/><g transform="translate(320.1 186.8) scale(0.12 -0.1104)"><use href="#DejaVuSans-50"/><use href="#DejaVuSans-69" transform="translate(58.05 0)"/><use href="#DejaVuSans-65" transform="translate(85.84 0)"/><use href="#DejaVuSans-63" transform="translate(147.4 0)"/><use href="#DejaVuSans-65" transform="translate(202.3 0)"/><use href="#DejaVuSans-20" transform="translate(263.9 0)"/><use href="#DejaVuSans-32" transform="translate(295.7 0)"/></g><path d="M345.7 227.3L351.3 229.1L351.3 222.3L345.8 220.5z" class="s8"/><path d="M345.7 227.3L340.3 229.1L340.2 222.3L345.8 220.5z" class="s8"/><path d="M345.7 227.3L340.3 229.1L345.8 231L351.3 229.1z" class="s8"/><path d="M345.8 220.5L340.2 222.3L345.8 224.1L351.3 222.3z" class="s8"/><path d="M340.3 229.1L345.8 231L345.8 224.1L340.2 222.3z" class="s8"/><path d="M351.3 229.1L345.8 231L345.8 224.1L351.3 222.3z" class="s8"/><path d="M339.7 236.8L345.2 238.8L345.2 232L339.6 230.1z" class="s8"/><path d="M339.7 236.8L334.1 238.8L334 232L339.6 230.1z" class="s8"/><path d="M339.7 236.8L334.1 238.8L339.6 240.8L345.2 238.8z" class="s8"/><path d="M339.6 230.1L334 232L339.6 233.9L345.2 232z" class="s8"/><path d="M334.1 238.8L339.6 240.8L339.6 233.9L334 232z" class="s8"/><path d="M345.2 238.8L339.6 240.8L339.6 233.9L345.2 232z" class="s8"/><path d="M339.6 229.3L345.2 231.2L345.2 224.3L339.6 222.5z" class="s8"/><path d="M339.6 229.3L334 231.2L334 224.3L339.6 222.5z" class="s8"/><path d="M339.6 229.3L334 231.2L339.6 233.2L345.2 231.2z" class="s8"/><path d="M339.6 222.5L334 224.3L339.5 226.2L345.2 224.3z" class="s8"/><path d="M334 231.2L339.6 233.2L339.5 226.2L334 224.3z" class="s8"/><path d="M345.2 231.2L339.6 233.2L339.5 226.2L345.2 224.3z" class="s8"/><path d="M351.9 229.3L357.6 231.2L357.7 224.3L352 222.5z" class="s8"/><path d="M351.9 229.3L346.4 231.2L346.5 224.3L352 222.5z" class="s8"/><path d="M351.9 229.3L346.4 231.2L352.2 233.2L357.6 231.2z" class="s8"/><path d="M352 222.5L346.5 224.3L352.2 226.2L357.7 224.3z" class="s8"/><path d="M346.4 231.2L352.2 233.2L352.2 226.2L346.5 224.3z" class="s8"/><path d="M357.6 231.2L352.2 233.2L352.2 226.2L357.7 224.3z" class="s8"/><path d="M333.4 231.4L338.9 233.4L338.9 226.4L333.3 224.5z" class="s8"/><path d="M333.4 231.4L327.6 233.4L327.5 226.4L333.3 224.5z" class="s8"/><path d="M333.4 231.4L327.6 233.4L333.1 235.4L338.9 233.4z" class="s8"/><path d="M333.3 224.5L327.5 226.4L333.1 228.3L338.9 226.4z" class="s8"/><path d="M327.6 233.4L333.1 235.4L333.1 228.3L327.5 226.4z" class="s8"/><path d="M338.9 233.4L333.1 235.4L333.1 228.3L338.9 226.4z" class="s8"/><path d="M422.9 239.8L454.2 251.2L455.4 208.8L422.9 200" class="s0"/><path d="M422.9 239.8L391.6 251.2L390.4 208.8L422.9 200" class="s1"/><path d="M422.9 239.8L391.6 251.2L422.9 264.3L454.2 251.2" class="s2"/><g/><g/><g/><path d="M454.2 251.2L422.9 264.3" class="s3"/><path d="M391.6 251.2L422.9 264.3" class="s3"/><path d="M391.6 251.2L390.4 208.8" class="s3"/><path d="M419.8 233.1L425.4 235L425.4 228.2L419.8 226.3z" class="s9"/><path d="M419.8 233.1L414.2 235L414.2 228.2L419.8 226.3z" class="s9"/><path d="M419.8 233.1L414.2 235L419.8 237L425.4 235z" class="s9"/><path d="M419.8 226.3L414.2 228.2L419.7 230.1L425.4 228.2z" class="s9"/><path d="M414.2 235L419.8 237L419.7 230.1L414.2 228.2z" class="s9"/><path d="M425.4 235L419.8 237L419.7 230.1L425.4 228.2z" class="s9"/><g transform="translate(400.3 186.8) scale(0.12 -0.1104)"><use href="#DejaVuSans-50"/><use href="#DejaVuSans-69" transform="translate(58.05 0)"/><use href="#DejaVuSans-65" transform="translate(85.84 0)"/><use href="#DejaVuSans-63" transform="translate(147.4 0)"/><use href="#DejaVuSans-65" transform="translate(202.3 0)"/><use href="#DejaVuSans-20" transform="translate(263.9 0)"/><use href="#DejaVuSans-33" transform="translate(295.7 0)"/></g><path d="M432.1 233.1L437.8 235L437.9 228.2L432.1 226.3z" class="s9"/><path d="M432.1 233.1L426.6 235L426.6 228.2L432.1 226.3z" class="s9"/><path d="M432.1 233.1L426.6 235L432.3 237L437.8 235z" class="s9"/><path d="M432.1 226.3L426.6 228.2L432.4 230.1L437.9 228.2z" class="s9"/><path d="M426.6 235L432.3 237L432.4 230.1L426.6 228.2z" class="s9"/><path d="M437.8 235L432.3 237L432.4 230.1L437.9 228.2z" class="s9"/><path d="M413.6 235.2L419.1 237.2L419.1 230.3L413.5 228.4z" class="s9"/><path d="M413.6 235.2L407.8 237.2L407.7 230.3L413.5 228.4z" class="s9"/><path d="M413.6 235.2L407.8 237.2L413.3 239.3L419.1 237.2z" class="s9"/><path d="M413.5 228.4L407.7 230.3L413.3 232.3L419.1 230.3z" class="s9"/><path d="M407.8 237.2L413.3 239.3L413.3 232.3L407.7 230.3z" class="s9"/><path d="M419.1 237.2L413.3 239.3L413.3 232.3L419.1 230.3z" class="s9"/><path d="M426 235.2L431.7 237.2L431.7 230.3L426 228.4z" class="s9"/><path d="M426 235.2L420.4 237.2L420.4 230.3L426 228.4z" class="s9"/><path d="M426 235.2L420.4 237.2L426.1 239.3L431.7 237.2z" class="s9"/><path d="M426 228.4L420.4 230.3L426.1 232.3L431.7 230.3z" class="s9"/><path d="M420.4 237.2L426.1 239.3L426.1 232.3L420.4 230.3z" class="s9"/><path d="M431.7 237.2L426.1 239.3L426.1 232.3L431.7 230.3z" class="s9"/><path d="M342.7 356.7L374 368.1L375.2 325.7L342.7 316.9" class="s0"/><path d="M342.7 356.7L311.4 368.1L310.2 325.7L342.7 316.9" class="s1"/><path d="M342.7 356.7L311.4 368.1L342.7 381.2L374 368.1" class="s2"/><g/><g/><g/><path d="M374 368.1L342.7 381.2" class="s3"/><path d="M311.4 368.1L342.7 381.2" class="s3"/><path d="M311.4 368.1L310.2 325.7" class="s3"/><path d="M342.7 352.7L348.2 354.6L348.3 347.9L342.7 346z" class="s10"/><path d="M342.7 352.7L337.2 354.6L337.2 347.9L342.7 346z" class="s10"/><path d="M342.7 352.7L337.2 354.6L342.7 356.6L348.2 354.6z" class="s10"/><path d="M342.7 346L337.2 347.9L342.7 349.8L348.3 347.9z" class="s10"/><path d="M337.2 354.6L342.7 356.6L342.7 349.8L337.2 347.9z" class="s10"/><path d="M348.2 354.6L342.7 356.6L342.7 349.8L348.3 347.9z" class="s10"/><g transform="translate(320.1 303.8) scale(0.12 -0.1104)"><use href="#DejaVuSans-50"/><use href="#DejaVuSans-69" transform="translate(58.05 0)"/><use href="#DejaVuSans-65" transform="translate(85.84 0)"/><use href="#DejaVuSans-63" transform="translate(147.4 0)"/><use href="#DejaVuSans-65" transform="translate(202.3 0)"/><use href="#DejaVuSans-20" transform="translate(263.9 0)"/><use href="#DejaVuSans-34" transform="translate(295.7 0)"/></g><path d="M342.7 345.2L348.3 347.1L348.3 340.2L342.7 338.4z" class="s10"/><path d="M342.7 345.2L337.2 347.1L337.1 340.2L342.7 338.4z" class="s10"/><path d="M342.7 345.2L337.2 347.1L342.7 349L348.3 347.1z" class="s10"/><path d="M342.7 338.4L337.1 340.2L342.7 342.1L348.3 340.2z" class="s10"/><path d="M337.2 347.1L342.7 349L342.7 342.1L337.1 340.2z" class="s10"/><path d="M348.3 347.1L342.7 349L342.7 342.1L348.3 340.2z" class="s10"/><path d="M336.6 354.8L342.1 356.9L342.1 350L336.5 348.1z" class="s10"/><path d="M336.6 354.8L330.9 356.9L330.8 350L336.5 348.1z" class="s10"/><path d="M336.6 354.8L330.9 356.9L336.4 358.9L342.1 356.9z" class="s10"/><path d="M336.5 348.1L330.8 350L336.4 352L342.1 350z" class="s10"/><path d="M330.9 356.9L336.4 358.9L336.4 352L330.8 350z" class="s10"/><path d="M342.1 356.9L336.4 358.9L336.4 352L342.1 350z" class="s10"/><path d="M348.8 354.8L354.5 356.9L354.6 350L348.9 348.1z" class="s10"/><path d="M348.8 354.8L343.3 356.9L343.3 350L348.9 348.1z" class="s10"/><path d="M348.8 354.8L343.3 356.9L349 358.9L354.5 356.9z" class="s10"/><path d="M348.9 348.1L343.3 350L349 352L354.6 350z" class="s10"/><path d="M343.3 356.9L349 358.9L349 352L343.3 350z" class="s10"/><path d="M354.5 356.9L349 358.9L349 352L354.6 350z" class="s10"/><path d="M422.9 356.7L454.2 368.1L455.4 325.7L422.9 316.9" class="s0"/><path d="M422.9 356.7L391.6 368.1L390.4 325.7L422.9 316.9" class="s1"/><path d="M422.9 356.7L391.6 368.1L422.9 381.2L454.2 368.1" class="s2"/><g/><g/><g/><path d="M454.2 368.1L422.9 381.2" class="s3"/><path d="M391.6 368.1L422.9 381.2" class="s3"/><path d="M391.6 368.1L390.4 325.7" class="s3"/><path d="M419.8 353.8L425.4 355.7L425.4 348.9L419.8 347z" class="s11"/><path d="M419.8 353.8L414.3 355.7L414.2 348.9L419.8 347z" class="s11"/><path d="M419.8 353.8L414.3 355.7L419.8 357.8L425.4 355.7z" class="s11"/><path d="M419.8 347L414.2 348.9L419.8 350.9L425.4 348.9z" class="s11"/><path d="M414.3 355.7L419.8 357.8L419.8 350.9L414.2 348.9z" class="s11"/><path d="M425.4 355.7L419.8 357.8L419.8 350.9L425.4 348.9z" class="s11"/><g transform="translate(413.7 355.9) scale(0.273 -0.273)"><use href="#DejaVuSans-2705"/></g><g transform="translate(370 303.8) scale(0.12 -0.1104)"><use href="#DejaVuSans-50"/><use href="#DejaVuSans-69" transform="translate(58.05 0)"/><use href="#DejaVuSans-65" transform="translate(85.84 0)"/><use href="#DejaVuSans-63" transform="translate(147.4 0)"/><use href="#DejaVuSans-65" transform="translate(202.3 0)"/><use href="#DejaVuSans-20" transform="translate(263.9 0)"/><use href="#DejaVuSans-35" transform="translate(295.7 0)"/><use href="#DejaVuSans-20" transform="translate(359.3 0)"/><use href="#DejaVuSans-28" transform="translate(391.1 0)"/><use href="#DejaVuSans-50" transform="translate(430.1 0)"/><use href="#DejaVuSans-4c" transform="translate(490.4 0)"/><use href="#DejaVuSans-41" transform="translate(548.3 0)"/><use href="#DejaVuSans-43" transform="translate(615 0)"/><use href="#DejaVuSans-45" transform="translate(684.8 0)"/><use href="#DejaVuSans-44" transform="translate(748 0)"/><use href="#DejaVuSans-29" transform="translate(825 0)"/></g><path d="M419.8 346.3L425.4 348.2L425.4 341.3L419.8 339.4z" class="s11"/><path d="M419.8 346.3L414.2 348.2L414.1 341.3L419.8 339.4z" class="s11"/><path d="M419.8 346.3L414.2 348.2L419.7 350.1L425.4 348.2z" class="s11"/><path d="M419.8 339.4L414.1 341.3L419.7 343.1L425.4 341.3z" class="s11"/><path d="M414.2 348.2L419.7 350.1L419.7 343.1L414.1 341.3z" class="s11"/><path d="M425.4 348.2L419.7 350.1L419.7 343.1L425.4 341.3z" class="s11"/><path d="M426 356L431.7 358L431.7 351.1L426 349.1z" class="s11"/><path d="M426 356L420.4 358L420.4 351.1L426 349.1z" class="s11"/><path d="M426 356L420.4 358L426.1 360.1L431.7 358z" class="s11"/><path d="M426 349.1L420.4 351.1L426.1 353.1L431.7 351.1z" class="s11"/><path d="M420.4 358L426.1 360.1L426.1 353.1L420.4 351.1z" class="s11"/><path d="M431.7 358L426.1 360.1L426.1 353.1L431.7 351.1z" class="s11"/><path d="M426 348.4L431.7 350.3L431.8 343.3L426 341.5z" class="s11"/><path d="M426 348.4L420.4 350.3L420.4 343.3L426 341.5z" class="s11"/><path d="M426 348.4L420.4 350.3L426.1 352.3L431.7 350.3z" class="s11"/><path d="M426 341.5L420.4 343.3L426.1 345.3L431.8 343.3z" class="s11"/><path d="M420.4 350.3L426.1 352.3L426.1 345.3L420.4 343.3z" class="s11"/><path d="M431.7 350.3L426.1 352.3L426.1 345.3L431.8 343.3z" class="s11"/><g class="s12" transform="translate(346.6 34.38) scale(0.1 -0.1)"><use href="#DejaVuSans-Oblique-50"/><use href="#DejaVuSans-Oblique-69" transform="translate(60.3 0)"/><use href="#DejaVuSans-Oblique-65" transform="translate(88.09 0)"/><use href="#DejaVuSans-Oblique-63" transform="translate(149.6 0)"/><use href="#DejaVuSans-Oblique-65" transform="translate(204.6 0)"/><use href="#DejaVuSans-Oblique-73" transform="translate(266.1 0)"/></g></svg></div>
<div class="cap" style="left:409.2px;top:596.75px"><span><i>(f)</i> Step 6</span></div>
<div class="pn" style="left:749px;top:320px"><svg width="360" height="262" viewBox="-0.000 -0.511 612.766 445.957"><path d="M129.7 284.6L228.9 322.8L233.1 140.9L129 113.3" class="s0"/><path d="M129.7 284.6L63.7 309.5L59.7 131.3L129 113.3" class="s1"/><path d="M129.7 284.6L63.7 309.5L162.9 351.4L228.9 322.8" class="s2"/><path d="M228.9 322.8L162.9 351.4" class="s3"/><path d="M212.1 329.3L214.7 330.3" class="s3"/><g transform="translate(217.6 353.8) scale(0.1 -0.1)"><use href="#DejaVuSans-30"/></g><path d="M179.1 343.6L181.7 344.7" class="s3"/><g transform="translate(184.8 368.5) scale(0.1 -0.1)"><use href="#DejaVuSans-31"/></g><g transform="translate(217.4 390.6) scale(0.1 -0.1)"><use href="#DejaVuSans-58"/></g><path d="M63.7 309.5L162.9 351.4" class="s3"/><path d="M79.8 315.8L78.2 316.5" class="s3"/><g transform="translate(71.08 338.7) scale(0.1 -0.1)"><use href="#DejaVuSans-30"/></g><path d="M112.1 329.4L110.4 330.1" class="s3"/><g transform="translate(103.2 352.7) scale(0.1 -0.1)"><use href="#DejaVuSans-31"/></g><path d="M145.9 343.7L144.2 344.4" class="s3"/><g transform="translate(136.9 367.3) scale(0.1 -0.1)"><use href="#DejaVuSans-32"/></g><g transform="translate(92.67 379.9) scale(0.1 -0.1)"><use href="#DejaVuSans-59"/></g><path d="M63.7 309.5L59.7 131.3" class="s3"/><path d="M63.8 287.9L62.1 288.5" class="s3"/><g transform="translate(47.72 294.7) scale(0.1 -0.1)"><use href="#DejaVuSans-30"/></g><path d="M62.8 244.4L61.1 245" class="s3"/><g transform="translate(46.59 251.3) scale(0.1 -0.1)"><use href="#DejaVuSans-31"/></g><path d="M61.8 199.9L60.1 200.5" class="s3"/><g transform="translate(45.45 206.9) scale(0.1 -0.1)"><use href="#DejaVuSans-32"/></g><path d="M60.8 154.4L59.1 154.8" class="s3"/><g transform="translate(44.27 161.4) scale(0.1 -0.1)"><use href="#DejaVuSans-33"/></g><g transform="translate(19.96 222.6) scale(0.1 -0.1)"><use href="#DejaVuSans-5a"/></g><path d="M129.7 284.6L129 113.3" class="s4"/><path d="M228.9 322.8L233.1 140.9" class="s4"/><path d="M63.7 309.5L59.7 131.3" class="s4"/><path d="M162.9 351.4L163.8 161.7" class="s4"/><path d="M129.7 284.6L228.9 322.8" class="s4"/><path d="M129 113.3L233.1 140.9" class="s4"/><path d="M63.7 309.5L162.9 351.4" class="s4"/><path d="M59.7 131.3L163.8 161.7" class="s4"/><path d="M129.7 284.6L63.7 309.5" class="s4"/><path d="M129 113.3L59.7 131.3" class="s4"/><path d="M228.9 322.8L162.9 351.4" class="s4"/><path d="M233.1 140.9L163.8 161.7" class="s4"/><path d="M129.7 283.7L158.1 294.6L158.3 256.7L129.5 246.4z" class="s5"/><path d="M129.7 283.7L100.6 294.6L100.1 256.7L129.5 246.4z" class="s5"/><path d="M129.7 283.7L100.6 294.6L129.1 306L158.1 294.6z" class="s5"/><path d="M129.5 246.4L100.1 256.7L128.9 267.4L158.3 256.7z" class="s5"/><path d="M100.6 294.6L129.1 306L128.9 267.4L100.1 256.7z" class="s5"/><path d="M158.1 294.6L129.1 306L128.9 267.4L158.3 256.7z" class="s5"/><g transform="translate(71.03 87.52) scale(0.12 -0.1248)"><use href="#DejaVuSans-32"/><use href="#DejaVuSans-78" transform="translate(63.62 0)"/><use href="#DejaVuSans-33" transform="translate(122.8 0)"/><use href="#DejaVuSans-78" transform="translate(186.4 0)"/><use href="#DejaVuSans-34" transform="translate(245.6 0)"/><use href="#DejaVuSans-2f" transform="translate(309.2 0)"/><use href="#DejaVuSans-70" transform="translate(342.9 0)"/><use href="#DejaVuSans-75" transform="translate(406.4 0)"/><use href="#DejaVuSans-7a" transform="translate(469.8 0)"/><use href="#DejaVuSans-7a" transform="translate(522.3 0)"/><use href="#DejaVuSans-6c" transform="translate(574.8 0)"/><use href="#DejaVuSans-65" transform="translate(602.5 0)"/><use href="#DejaVuSans-5f" transform="translate(664.1 0)"/><use href="#DejaVuSans-68" transform="translate(714.1 0)"/><use href="#DejaVuSans-61" transform="translate(777.4 0)"/><use href="#DejaVuSans-72" transform="translate(838.7 0)"/><use href="#DejaVuSans-64" transform="translate(878.1 0)"/><use href="#DejaVuSans-5f" transform="translate(941.6 0)"/><use href="#DejaVuSans-30" transform="translate(991.6 0)"/><use href="#DejaVuSans-30" transform="translate(1055 0)"/><use href="#DejaVuSans-35" transform="translate(1119 0)"/></g><g transform="translate(109.3 101.3) scale(0.12 -0.1248)"><use href="#DejaVuSans-31"/><use href="#DejaVuSans-34" transform="translate(63.62 0)"/><use href="#DejaVuSans-2f" transform="translate(127.2 0)"/><use href="#DejaVuSans-32" transform="translate(160.9 0)"/><use href="#DejaVuSans-34" transform="translate(224.6 0)"/><use href="#DejaVuSans-20" transform="translate(288.2 0)"/><use href="#DejaVuSans-63" transform="translate(320 0)"/><use href="#DejaVuSans-65" transform="translate(375 0)"/><use href="#DejaVuSans-6c" transform="translate(436.5 0)"/><use href="#DejaVuSans-6c" transform="translate(464.3 0)"/><use href="#DejaVuSans-73" transform="translate(492 0)"/></g><path d="M129.5 242.2L158.3 252.5L158.4 213.6L129.3 204.1z" class="s5"/><path d="M129.5 242.2L100.1 252.5L99.6 213.6L129.3 204.1z" class="s5"/><path d="M129.5 242.2L100.1 252.5L128.9 263.1L158.3 252.5z" class="s5"/><path d="M129.3 204.1L99.6 213.6L128.7 223.6L158.4 213.6z" class="s5"/><path d="M100.1 252.5L128.9 263.1L128.7 223.6L99.6 213.6z" class="s5"/><path d="M158.3 252.5L128.9 263.1L128.7 223.6L158.4 213.6z" class="s5"/><path d="M97.3 295.9L125.7 307.3L125.5 268.7L96.8 257.9z" class="s15"/><path d="M97.3 295.9L66.9 307.3L66.1 268.7L96.8 257.9z" class="s15"/><path d="M97.3 295.9L66.9 307.3L95.3 319.3L125.7 307.3z" class="s15"/><path d="M96.8 257.9L66.1 268.7L94.8 279.9L125.5 268.7z" class="s15"/><path d="M66.9 307.3L95.3 319.3L94.8 279.9L66.1 268.7z" class="s15"/><path d="M125.7 307.3L95.3 319.3L94.8 279.9L125.5 268.7z" class="s15"/><path d="M129.3 199.8L158.4 209.3L158.6 169.5L129.2 160.8z" class="s5"/><path d="M129.3 199.8L99.6 209.3L99.1 169.5L129.2 160.8z" class="s5"/><path d="M129.3 199.8L99.6 209.3L128.7 219.2L158.4 209.3z" class="s5"/><path d="M129.2 160.8L99.1 169.5L128.5 178.7L158.6 169.5z" class="s5"/><path d="M99.6 209.3L128.7 219.2L128.5 178.7L99.1 169.5z" class="s5"/><path d="M158.4 209.3L128.7 219.2L128.5 178.7L158.6 169.5z" class="s5"/><path d="M96.8 253.6L125.5 264.3L125.3 224.7L96.2 214.7z" class="s15"/><path d="M96.8 253.6L66 264.3L65.1 224.7L96.2 214.7z" class="s15"/><path d="M96.8 253.6L66 264.3L94.7 275.5L125.5 264.3z" class="s15"/><path d="M96.2 214.7L65.1 224.7L94.1 235.2L125.3 224.7z" class="s15"/><path d="M66 264.3L94.7 275.5L94.1 235.2L65.1 224.7z" class="s15"/><path d="M125.5 264.3L94.7 275.5L94.1 235.2L125.3 224.7z" class="s15"/><path d="M129 308.6L158.7 320.6L158.9 281.2L128.8 269.9z" class="s13"/><path d="M129 308.6L98.5 320.6L98 281.2L128.8 269.9z" class="s13"/><path d="M129 308.6L98.5 320.6L128.3 333.1L158.7 320.6z" class="s13"/><path d="M128.8 269.9L98 281.2L128.1 293L158.9 281.2z" class="s13"/><path d="M98.5 320.6L128.3 333.1L128.1 293L98 281.2z" class="s13"/><path d="M158.7 320.6L128.3 333.1L128.1 293L158.9 281.2z" class="s13"/><path d="M194.5 308.6L225.6 320.6L226.5 281.2L195 269.9z" class="s13"/><path d="M194.5 308.6L165.4 320.6L165.6 281.2L195 269.9z" class="s13"/><path d="M194.5 308.6L165.4 320.6L196.6 333.1L225.6 320.6z" class="s13"/><path d="M195 269.9L165.6 281.2L197.2 293L226.5 281.2z" class="s13"/><path d="M165.4 320.6L196.6 333.1L197.2 293L165.6 281.2z" class="s13"/><path d="M225.6 320.6L196.6 333.1L197.2 293L226.5 281.2z" class="s13"/><path d="M195.1 265.5L226.6 276.7L227.5 236.4L195.6 225.9z" class="s14"/><path d="M195.1 265.5L165.7 276.7L165.9 236.4L195.6 225.9z" class="s14"/><path d="M195.1 265.5L165.7 276.7L197.2 288.4L226.6 276.7z" class="s14"/><path d="M195.6 225.9L165.9 236.4L197.8 247.3L227.5 236.4z" class="s14"/><path d="M165.7 276.7L197.2 288.4L197.8 247.3L165.9 236.4z" class="s14"/><path d="M226.6 276.7L197.2 288.4L197.8 247.3L227.5 236.4z" class="s14"/><path d="M128.8 265.5L158.9 276.7L159 236.4L128.6 225.9z" class="s15"/><path d="M128.8 265.5L98 276.7L97.4 236.4L128.6 225.9z" class="s15"/><path d="M128.8 265.5L98 276.7L128.1 288.4L158.9 276.7z" class="s15"/><path d="M128.6 225.9L97.4 236.4L127.9 247.3L159 236.4z" class="s15"/><path d="M98 276.7L128.1 288.4L127.9 247.3L97.4 236.4z" class="s15"/><path d="M158.9 276.7L128.1 288.4L127.9 247.3L159 236.4z" class="s15"/><path d="M162.1 322L193.3 334.5L193.8 294.3L162.3 282.5z" class="s13"/><path d="M162.1 322L131.7 334.5L131.5 294.3L162.3 282.5z" class="s13"/><path d="M162.1 322L131.7 334.5L162.8 347.6L193.3 334.5z" class="s13"/><path d="M162.3 282.5L131.5 294.3L163 306.7L193.8 294.3z" class="s13"/><path d="M131.7 334.5L162.8 347.6L163 306.7L131.5 294.3z" class="s13"/><path d="M193.3 334.5L162.8 347.6L163 306.7L193.8 294.3z" class="s13"/><path d="M195.7 221.4L227.6 231.8L228.5 190.4L196.2 180.8z" class="s14"/><path d="M195.7 221.4L165.9 231.8L166.1 190.4L196.2 180.8z" class="s14"/><path d="M195.7 221.4L165.9 231.8L197.9 242.7L227.6 231.8z" class="s14"/><path d="M196.2 180.8L166.1 190.4L198.5 200.5L228.5 190.4z" class="s14"/><path d="M165.9 231.8L197.9 242.7L198.5 200.5L166.1 190.4z" class="s14"/><path d="M227.6 231.8L197.9 242.7L198.5 200.5L228.5 190.4z" class="s14"/><path d="M128.6 221.4L159.1 231.8L159.2 190.4L128.4 180.8z" class="s15"/><path d="M128.6 221.4L97.4 231.8L96.9 190.4L128.4 180.8z" class="s15"/><path d="M128.6 221.4L97.4 231.8L127.8 242.7L159.1 231.8z" class="s15"/><path d="M128.4 180.8L96.9 190.4L127.6 200.5L159.2 190.4z" class="s15"/><path d="M97.4 231.8L127.8 242.7L127.6 200.5L96.9 190.4z" class="s15"/><path d="M159.1 231.8L127.8 242.7L127.6 200.5L159.2 190.4z" class="s15"/><path d="M162.3 278L193.9 289.8L194.4 248.5L162.5 237.5z" class="s14"/><path d="M162.3 278L131.5 289.8L131.3 248.5L162.5 237.5z" class="s14"/><path d="M162.3 278L131.5 289.8L163.1 302L193.9 289.8z" class="s14"/><path d="M162.5 237.5L131.3 248.5L163.3 260L194.4 248.5z" class="s14"/><path d="M131.5 289.8L163.1 302L163.3 260L131.3 248.5z" class="s14"/><path d="M193.9 289.8L163.1 302L163.3 260L194.4 248.5z" class="s14"/><path d="M162.5 233L194.5 243.9L195.1 201.6L162.7 191.5z" class="s14"/><path d="M162.5 233L131.3 243.9L131.2 201.6L162.7 191.5z" class="s14"/><path d="M162.5 233L131.3 243.9L163.3 255.3L194.5 243.9z" class="s14"/><path d="M162.7 191.5L131.2 201.6L163.5 212.2L195.1 201.6z" class="s14"/><path d="M131.3 243.9L163.3 255.3L163.5 212.2L131.2 201.6z" class="s14"/><path d="M194.5 243.9L163.3 255.3L163.5 212.2L195.1 201.6z" class="s14"/><path d="M342.7 123.5L374 134.9L375.2 92.6L342.7 83.7" class="s0"/><path d="M342.7 123.5L311.4 134.9L310.2 92.6L342.7 83.7" class="s1"/><path d="M342.7 123.5L311.4 134.9L342.7 148L374 134.9" class="s2"/><g/><g/><g/><path d="M374 134.9L342.7 148" class="s3"/><path d="M311.4 134.9L342.7 148" class="s3"/><path d="M311.4 134.9L310.2 92.6" class="s3"/><path d="M342.7 125.8L348.7 128L348.7 120.9L342.7 118.8z" class="s6"/><path d="M342.7 125.8L336.8 128L336.7 120.9L342.7 118.8z" class="s6"/><path d="M342.7 125.8L336.8 128L342.7 130.2L348.7 128z" class="s6"/><path d="M342.7 118.8L336.7 120.9L342.7 123.1L348.7 120.9z" class="s6"/><path d="M336.8 128L342.7 130.2L342.7 123.1L336.7 120.9z" class="s6"/><path d="M348.7 128L342.7 130.2L342.7 123.1L348.7 120.9z" class="s6"/><g transform="translate(333.5 122.7) scale(0.273 -0.273)"><use href="#DejaVuSans-2705"/></g><g transform="translate(289.8 70.58) scale(0.12 -0.1104)"><use href="#DejaVuSans-50"/><use href="#DejaVuSans-69" transform="translate(58.05 0)"/><use href="#DejaVuSans-65" transform="translate(85.84 0)"/><use href="#DejaVuSans-63" transform="translate(147.4 0)"/><use href="#DejaVuSans-65" transform="translate(202.3 0)"/><use href="#DejaVuSans-20" transform="translate(263.9 0)"/><use href="#DejaVuSans-30" transform="translate(295.7 0)"/><use href="#DejaVuSans-20" transform="translate(359.3 0)"/><use href="#DejaVuSans-28" transform="translate(391.1 0)"/><use href="#DejaVuSans-50" transform="translate(430.1 0)"/><use href="#DejaVuSans-4c" transform="translate(490.4 0)"/><use href="#DejaVuSans-41" transform="translate(548.3 0)"/><use href="#DejaVuSans-43" transform="translate(615 0)"/><use href="#DejaVuSans-45" transform="translate(684.8 0)"/><use href="#DejaVuSans-44" transform="translate(748 0)"/><use href="#DejaVuSans-29" transform="translate(825 0)"/></g><path d="M342.7 118L348.7 120.1L348.7 112.9L342.7 110.9z" class="s6"/><path d="M342.7 118L336.7 120.1L336.7 112.9L342.7 110.9z" class="s6"/><path d="M342.7 118L336.7 120.1L342.7 122.3L348.7 120.1z" class="s6"/><path d="M342.7 110.9L336.7 112.9L342.7 115L348.7 112.9z" class="s6"/><path d="M336.7 120.1L342.7 122.3L342.7 115L336.7 112.9z" class="s6"/><path d="M348.7 120.1L342.7 122.3L342.7 115L348.7 112.9z" class="s6"/><path d="M342.7 110.1L348.8 112.1L348.8 104.8L342.7 102.9z" class="s6"/><path d="M342.7 110.1L336.7 112.1L336.6 104.8L342.7 102.9z" class="s6"/><path d="M342.7 110.1L336.7 112.1L342.7 114.2L348.8 112.1z" class="s6"/><path d="M342.7 102.9L336.6 104.8L342.7 106.8L348.8 104.8z" class="s6"/><path d="M336.7 112.1L342.7 114.2L342.7 106.8L336.6 104.8z" class="s6"/><path d="M348.8 112.1L342.7 114.2L342.7 106.8L348.8 104.8z" class="s6"/><path d="M422.9 123.5L454.2 134.9L455.4 92.6L422.9 83.7" class="s0"/><path d="M422.9 123.5L391.6 134.9L390.4 92.6L422.9 83.7" class="s1"/><path d="M422.9 123.5L391.6 134.9L422.9 148L454.2 134.9" class="s2"/><g/><g/><g/><path d="M454.2 134.9L422.9 148" class="s3"/><path d="M391.6 134.9L422.9 148" class="s3"/><path d="M391.6 134.9L390.4 92.6" class="s3"/><path d="M416.7 117.9L422.3 119.9L422.3 113L416.7 111.1z" class="s7"/><path d="M416.7 117.9L411 119.9L411 113L416.7 111.1z" class="s7"/><path d="M416.7 117.9L411 119.9L416.6 121.9L422.3 119.9z" class="s7"/><path d="M416.7 111.1L411 113L416.5 114.9L422.3 113z" class="s7"/><path d="M411 119.9L416.6 121.9L416.5 114.9L411 113z" class="s7"/><path d="M422.3 119.9L416.6 121.9L416.5 114.9L422.3 113z" class="s7"/><g transform="translate(413.7 122.7) scale(0.273 -0.273)"><use href="#DejaVuSans-2705"/></g><g transform="translate(370 70.58) scale(0.12 -0.1104)"><use href="#DejaVuSans-50"/><use href="#DejaVuSans-69" transform="translate(58.05 0)"/><use href="#DejaVuSans-65" transform="translate(85.84 0)"/><use href="#DejaVuSans-63" transform="translate(147.4 0)"/><use href="#DejaVuSans-65" transform="translate(202.3 0)"/><use href="#DejaVuSans-20" transform="translate(263.9 0)"/><use href="#DejaVuSans-31" transform="translate(295.7 0)"/><use href="#DejaVuSans-20" transform="translate(359.3 0)"/><use href="#DejaVuSans-28" transform="translate(391.1 0)"/><use href="#DejaVuSans-50" transform="translate(430.1 0)"/><use href="#DejaVuSans-4c" transform="translate(490.4 0)"/><use href="#DejaVuSans-41" transform="translate(548.3 0)"/><use href="#DejaVuSans-43" transform="translate(615 0)"/><use href="#DejaVuSans-45" transform="translate(684.8 0)"/><use href="#DejaVuSans-44" transform="translate(748 0)"/><use href="#DejaVuSans-29" transform="translate(825 0)"/></g><path d="M429.1 117.9L434.7 119.9L434.8 113L429.1 111.1z" class="s7"/><path d="M429.1 117.9L423.5 119.9L423.5 113L429.1 111.1z" class="s7"/><path d="M429.1 117.9L423.5 119.9L429.2 121.9L434.7 119.9z" class="s7"/><path d="M429.1 111.1L423.5 113L429.3 114.9L434.8 113z" class="s7"/><path d="M423.5 119.9L429.2 121.9L429.3 114.9L423.5 113z" class="s7"/><path d="M434.7 119.9L429.2 121.9L429.3 114.9L434.8 113z" class="s7"/><path d="M422.9 120.1L428.6 122.1L428.6 115.1L422.9 113.2z" class="s7"/><path d="M422.9 120.1L417.2 122.1L417.2 115.1L422.9 113.2z" class="s7"/><path d="M422.9 120.1L417.2 122.1L422.9 124.2L428.6 122.1z" class="s7"/><path d="M422.9 113.2L417.2 115.1L422.9 117.1L428.6 115.1z" class="s7"/><path d="M417.2 122.1L422.9 124.2L422.9 117.1L417.2 115.1z" class="s7"/><path d="M428.6 122.1L422.9 124.2L422.9 117.1L428.6 115.1z" class="s7"/><path d="M342.7 239.8L374 251.2L375.2 208.8L342.7 200" class="s0"/><path d="M342.7 239.8L311.4 251.2L310.2 208.8L342.7 200" class="s1"/><path d="M342.7 239.8L311.4 251.2L342.7 264.3L374 251.2" class="s2"/><g/><g/><g/><path d="M374 251.2L342.7 264.3" class="s3"/><path d="M311.4 251.2L342.7 264.3" class="s3"/><path d="M311.4 251.2L310.2 208.8" class="s3"/><path d="M345.7 234.7L351.2 236.6L351.3 229.9L345.7 228z" class="s8"/><path d="M345.7 234.7L340.3 236.6L340.3 229.9L345.7 228z" class="s8"/><path d="M345.7 234.7L340.3 236.6L345.8 238.6L351.2 236.6z" class="s8"/><path d="M345.7 228L340.3 229.9L345.8 231.8L351.3 229.9z" class="s8"/><path d="M340.3 236.6L345.8 238.6L345.8 231.8L340.3 229.9z" class="s8"/><path d="M351.2 236.6L345.8 238.6L345.8 231.8L351.3 229.9z" class="s8"/><g transform="translate(320.1 186.8) scale(0.12 -0.1104)"><use href="#DejaVuSans-50"/><use href="#DejaVuSans-69" transform="translate(58.05 0)"/><use href="#DejaVuSans-65" transform="translate(85.84 0)"/><use href="#DejaVuSans-63" transform="translate(147.4 0)"/><use href="#DejaVuSans-65" transform="translate(202.3 0)"/><use href="#DejaVuSans-20" transform="translate(263.9 0)"/><use href="#DejaVuSans-32" transform="translate(295.7 0)"/></g><path d="M345.7 227.3L351.3 229.1L351.3 222.3L345.8 220.5z" class="s8"/><path d="M345.7 227.3L340.3 229.1L340.2 222.3L345.8 220.5z" class="s8"/><path d="M345.7 227.3L340.3 229.1L345.8 231L351.3 229.1z" class="s8"/><path d="M345.8 220.5L340.2 222.3L345.8 224.1L351.3 222.3z" class="s8"/><path d="M340.3 229.1L345.8 231L345.8 224.1L340.2 222.3z" class="s8"/><path d="M351.3 229.1L345.8 231L345.8 224.1L351.3 222.3z" class="s8"/><path d="M339.7 236.8L345.2 238.8L345.2 232L339.6 230.1z" class="s8"/><path d="M339.7 236.8L334.1 238.8L334 232L339.6 230.1z" class="s8"/><path d="M339.7 236.8L334.1 238.8L339.6 240.8L345.2 238.8z" class="s8"/><path d="M339.6 230.1L334 232L339.6 233.9L345.2 232z" class="s8"/><path d="M334.1 238.8L339.6 240.8L339.6 233.9L334 232z" class="s8"/><path d="M345.2 238.8L339.6 240.8L339.6 233.9L345.2 232z" class="s8"/><path d="M339.6 229.3L345.2 231.2L345.2 224.3L339.6 222.5z" class="s8"/><path d="M339.6 229.3L334 231.2L334 224.3L339.6 222.5z" class="s8"/><path d="M339.6 229.3L334 231.2L339.6 233.2L345.2 231.2z" class="s8"/><path d="M339.6 222.5L334 224.3L339.5 226.2L345.2 224.3z" class="s8"/><path d="M334 231.2L339.6 233.2L339.5 226.2L334 224.3z" class="s8"/><path d="M345.2 231.2L339.6 233.2L339.5 226.2L345.2 224.3z" class="s8"/><path d="M351.9 229.3L357.6 231.2L357.7 224.3L352 222.5z" class="s8"/><path d="M351.9 229.3L346.4 231.2L346.5 224.3L352 222.5z" class="s8"/><path d="M351.9 229.3L346.4 231.2L352.2 233.2L357.6 231.2z" class="s8"/><path d="M352 222.5L346.5 224.3L352.2 226.2L357.7 224.3z" class="s8"/><path d="M346.4 231.2L352.2 233.2L352.2 226.2L346.5 224.3z" class="s8"/><path d="M357.6 231.2L352.2 233.2L352.2 226.2L357.7 224.3z" class="s8"/><path d="M333.4 231.4L338.9 233.4L338.9 226.4L333.3 224.5z" class="s8"/><path d="M333.4 231.4L327.6 233.4L327.5 226.4L333.3 224.5z" class="s8"/><path d="M333.4 231.4L327.6 233.4L333.1 235.4L338.9 233.4z" class="s8"/><path d="M333.3 224.5L327.5 226.4L333.1 228.3L338.9 226.4z" class="s8"/><path d="M327.6 233.4L333.1 235.4L333.1 228.3L327.5 226.4z" class="s8"/><path d="M338.9 233.4L333.1 235.4L333.1 228.3L338.9 226.4z" class="s8"/><path d="M422.9 239.8L454.2 251.2L455.4 208.8L422.9 200" class="s0"/><path d="M422.9 239.8L391.6 251.2L390.4 208.8L422.9 200" class="s1"/><path d="M422.9 239.8L391.6 251.2L422.9 264.3L454.2 251.2" class="s2"/><g/><g/><g/><path d="M454.2 251.2L422.9 264.3" class="s3"/><path d="M391.6 251.2L422.9 264.3" class="s3"/><path d="M391.6 251.2L390.4 208.8" class="s3"/><path d="M419.8 233.1L425.4 235L425.4 228.2L419.8 226.3z" class="s9"/><path d="M419.8 233.1L414.2 235L414.2 228.2L419.8 226.3z" class="s9"/><path d="M419.8 233.1L414.2 235L419.8 237L425.4 235z" class="s9"/><path d="M419.8 226.3L414.2 228.2L419.7 230.1L425.4 228.2z" class="s9"/><path d="M414.2 235L419.8 237L419.7 230.1L414.2 228.2z" class="s9"/><path d="M425.4 235L419.8 237L419.7 230.1L425.4 228.2z" class="s9"/><g transform="translate(413.7 238.9) scale(0.273 -0.273)"><use href="#DejaVuSans-2705"/></g><g transform="translate(370 186.8) scale(0.12 -0.1104)"><use href="#DejaVuSans-50"/><use href="#DejaVuSans-69" transform="translate(58.05 0)"/><use href="#DejaVuSans-65" transform="translate(85.84 0)"/><use href="#DejaVuSans-63" transform="translate(147.4 0)"/><use href="#DejaVuSans-65" transform="translate(202.3 0)"/><use href="#DejaVuSans-20" transform="translate(263.9 0)"/><use href="#DejaVuSans-33" transform="translate(295.7 0)"/><use href="#DejaVuSans-20" transform="translate(359.3 0)"/><use href="#DejaVuSans-28" transform="translate(391.1 0)"/><use href="#DejaVuSans-50" transform="translate(430.1 0)"/><use href="#DejaVuSans-4c" transform="translate(490.4 0)"/><use href="#DejaVuSans-41" transform="translate(548.3 0)"/><use href="#DejaVuSans-43" transform="translate(615 0)"/><use href="#DejaVuSans-45" transform="translate(684.8 0)"/><use href="#DejaVuSans-44" transform="translate(748 0)"/><use href="#DejaVuSans-29" transform="translate(825 0)"/></g><path d="M432.1 233.1L437.8 235L437.9 228.2L432.1 226.3z" class="s9"/><path d="M432.1 233.1L426.6 235L426.6 228.2L432.1 226.3z" class="s9"/><path d="M432.1 233.1L426.6 235L432.3 237L437.8 235z" class="s9"/><path d="M432.1 226.3L426.6 228.2L432.4 230.1L437.9 228.2z" class="s9"/><path d="M426.6 235L432.3 237L432.4 230.1L426.6 228.2z" class="s9"/><path d="M437.8 235L432.3 237L432.4 230.1L437.9 228.2z" class="s9"/><path d="M413.6 235.2L419.1 237.2L419.1 230.3L413.5 228.4z" class="s9"/><path d="M413.6 235.2L407.8 237.2L407.7 230.3L413.5 228.4z" class="s9"/><path d="M413.6 235.2L407.8 237.2L413.3 239.3L419.1 237.2z" class="s9"/><path d="M413.5 228.4L407.7 230.3L413.3 232.3L419.1 230.3z" class="s9"/><path d="M407.8 237.2L413.3 239.3L413.3 232.3L407.7 230.3z" class="s9"/><path d="M419.1 237.2L413.3 239.3L413.3 232.3L419.1 230.3z" class="s9"/><path d="M426 235.2L431.7 237.2L431.7 230.3L426 228.4z" class="s9"/><path d="M426 235.2L420.4 237.2L420.4 230.3L426 228.4z" class="s9"/><path d="M426 235.2L420.4 237.2L426.1 239.3L431.7 237.2z" class="s9"/><path d="M426 228.4L420.4 230.3L426.1 232.3L431.7 230.3z" class="s9"/><path d="M420.4 237.2L426.1 239.3L426.1 232.3L420.4 230.3z" class="s9"/><path d="M431.7 237.2L426.1 239.3L426.1 232.3L431.7 230.3z" class="s9"/><path d="M342.7 356.7L374 368.1L375.2 325.7L342.7 316.9" class="s0"/><path d="M342.7 356.7L311.4 368.1L310.2 325.7L342.7 316.9" class="s1"/><path d="M342.7 356.7L311.4 368.1L342.7 381.2L374 368.1" class="s2"/><g/><g/><g/><path d="M374 368.1L342.7 381.2" class="s3"/><path d="M311.4 368.1L342.7 381.2" class="s3"/><path d="M311.4 368.1L310.2 325.7" class="s3"/><path d="M342.7 352.7L348.2 354.6L348.3 347.9L342.7 346z" class="s10"/><path d="M342.7 352.7L337.2 354.6L337.2 347.9L342.7 346z" class="s10"/><path d="M342.7 352.7L337.2 354.6L342.7 356.6L348.2 354.6z" class="s10"/><path d="M342.7 346L337.2 347.9L342.7 349.8L348.3 347.9z" class="s10"/><path d="M337.2 354.6L342.7 356.6L342.7 349.8L337.2 347.9z" class="s10"/><path d="M348.2 354.6L342.7 356.6L342.7 349.8L348.3 347.9z" class="s10"/><g transform="translate(320.1 303.8) scale(0.12 -0.1104)"><use href="#DejaVuSans-50"/><use href="#DejaVuSans-69" transform="translate(58.05 0)"/><use href="#DejaVuSans-65" transform="translate(85.84 0)"/><use href="#DejaVuSans-63" transform="translate(147.4 0)"/><use href="#DejaVuSans-65" transform="translate(202.3 0)"/><use href="#DejaVuSans-20" transform="translate(263.9 0)"/><use href="#DejaVuSans-34" transform="translate(295.7 0)"/></g><path d="M342.7 345.2L348.3 347.1L348.3 340.2L342.7 338.4z" class="s10"/><path d="M342.7 345.2L337.2 347.1L337.1 340.2L342.7 338.4z" class="s10"/><path d="M342.7 345.2L337.2 347.1L342.7 349L348.3 347.1z" class="s10"/><path d="M342.7 338.4L337.1 340.2L342.7 342.1L348.3 340.2z" class="s10"/><path d="M337.2 347.1L342.7 349L342.7 342.1L337.1 340.2z" class="s10"/><path d="M348.3 347.1L342.7 349L342.7 342.1L348.3 340.2z" class="s10"/><path d="M336.6 354.8L342.1 356.9L342.1 350L336.5 348.1z" class="s10"/><path d="M336.6 354.8L330.9 356.9L330.8 350L336.5 348.1z" class="s10"/><path d="M336.6 354.8L330.9 356.9L336.4 358.9L342.1 356.9z" class="s10"/><path d="M336.5 348.1L330.8 350L336.4 352L342.1 350z" class="s10"/><path d="M330.9 356.9L336.4 358.9L336.4 352L330.8 350z" class="s10"/><path d="M342.1 356.9L336.4 358.9L336.4 352L342.1 350z" class="s10"/><path d="M348.8 354.8L354.5 356.9L354.6 350L348.9 348.1z" class="s10"/><path d="M348.8 354.8L343.3 356.9L343.3 350L348.9 348.1z" class="s10"/><path d="M348.8 354.8L343.3 356.9L349 358.9L354.5 356.9z" class="s10"/><path d="M348.9 348.1L343.3 350L349 352L354.6 350z" class="s10"/><path d="M343.3 356.9L349 358.9L349 352L343.3 350z" class="s10"/><path d="M354.5 356.9L349 358.9L349 352L354.6 350z" class="s10"/><path d="M422.9 356.7L454.2 368.1L455.4 325.7L422.9 316.9" class="s0"/><path d="M422.9 356.7L391.6 368.1L390.4 325.7L422.9 316.9" class="s1"/><path d="M422.9 356.7L391.6 368.1L422.9 381.2L454.2 368.1" class="s2"/><g/><g/><g/><path d="M454.2 368.1L422.9 381.2" class="s3"/><path d="M391.6 368.1L422.9 381.2" class="s3"/><path d="M391.6 368.1L390.4 325.7" class="s3"/><path d="M419.8 353.8L425.4 355.7L425.4 348.9L419.8 347z" class="s11"/><path d="M419.8 353.8L414.3 355.7L414.2 348.9L419.8 347z" class="s11"/><path d="M419.8 353.8L414.3 355.7L419.8 357.8L425.4 355.7z" class="s11"/><path d="M419.8 347L414.2 348.9L419.8 350.9L425.4 348.9z" class="s11"/><path d="M414.3 355.7L419.8 357.8L419.8 350.9L414.2 348.9z" class="s11"/><path d="M425.4 355.7L419.8 357.8L419.8 350.9L425.4 348.9z" class="s11"/><g transform="translate(413.7 355.9) scale(0.273 -0.273)"><use href="#DejaVuSans-2705"/></g><g transform="translate(370 303.8) scale(0.12 -0.1104)"><use href="#DejaVuSans-50"/><use href="#DejaVuSans-69" transform="translate(58.05 0)"/><use href="#DejaVuSans-65" transform="translate(85.84 0)"/><use href="#DejaVuSans-63" transform="translate(147.4 0)"/><use href="#DejaVuSans-65" transform="translate(202.3 0)"/><use href="#DejaVuSans-20" transform="translate(263.9 0)"/><use href="#DejaVuSans-35" transform="translate(295.7 0)"/><use href="#DejaVuSans-20" transform="translate(359.3 0)"/><use href="#DejaVuSans-28" transform="translate(391.1 0)"/><use href="#DejaVuSans-50" transform="translate(430.1 0)"/><use href="#DejaVuSans-4c" transform="translate(490.4 0)"/><use href="#DejaVuSans-41" transform="translate(548.3 0)"/><use href="#DejaVuSans-43" transform="translate(615 0)"/><use href="#DejaVuSans-45" transform="translate(684.8 0)"/><use href="#DejaVuSans-44" transform="translate(748 0)"/><use href="#DejaVuSans-29" transform="translate(825 0)"/></g><path d="M419.8 346.3L425.4 348.2L425.4 341.3L419.8 339.4z" class="s11"/><path d="M419.8 346.3L414.2 348.2L414.1 341.3L419.8 339.4z" class="s11"/><path d="M419.8 346.3L414.2 348.2L419.7 350.1L425.4 348.2z" class="s11"/><path d="M419.8 339.4L414.1 341.3L419.7 343.1L425.4 341.3z" class="s11"/><path d="M414.2 348.2L419.7 350.1L419.7 343.1L414.1 341.3z" class="s11"/><path d="M425.4 348.2L419.7 350.1L419.7 343.1L425.4 341.3z" class="s11"/><path d="M426 356L431.7 358L431.7 351.1L426 349.1z" class="s11"/><path d="M426 356L420.4 358L420.4 351.1L426 349.1z" class="s11"/><path d="M426 356L420.4 358L426.1 360.1L431.7 358z" class="s11"/><path d="M426 349.1L420.4 351.1L426.1 353.1L431.7 351.1z" class="s11"/><path d="M420.4 358L426.1 360.1L426.1 353.1L420.4 351.1z" class="s11"/><path d="M431.7 358L426.1 360.1L426.1 353.1L431.7 351.1z" class="s11"/><path d="M426 348.4L431.7 350.3L431.8 343.3L426 341.5z" class="s11"/><path d="M426 348.4L420.4 350.3L420.4 343.3L426 341.5z" class="s11"/><path d="M426 348.4L420.4 350.3L426.1 352.3L431.7 350.3z" class="s11"/><path d="M426 341.5L420.4 343.3L426.1 345.3L431.8 343.3z" class="s11"/><path d="M420.4 350.3L426.1 352.3L426.1 345.3L420.4 343.3z" class="s11"/><path d="M431.7 350.3L426.1 352.3L426.1 345.3L431.8 343.3z" class="s11"/><g class="s12" transform="translate(346.6 34.38) scale(0.1 -0.1)"><use href="#DejaVuSans-Oblique-50"/><use href="#DejaVuSans-Oblique-69" transform="translate(60.3 0)"/><use href="#DejaVuSans-Oblique-65" transform="translate(88.09 0)"/><use href="#DejaVuSans-Oblique-63" transform="translate(149.6 0)"/><use href="#DejaVuSans-Oblique-65" transform="translate(204.6 0)"/><use href="#DejaVuSans-Oblique-73" transform="translate(266.1 0)"/></g></svg></div>
<div class="cap" style="left:783.5px;top:596.75px"><span><i>(g)</i> Step 7</span></div>
<div class="pn" style="left:1123px;top:320px"><svg width="360" height="262" viewBox="-0.000 -0.511 612.766 445.957"><path d="M129.7 284.6L228.9 322.8L233.1 140.9L129 113.3" class="s0"/><path d="M129.7 284.6L63.7 309.5L59.7 131.3L129 113.3" class="s1"/><path d="M129.7 284.6L63.7 309.5L162.9 351.4L228.9 322.8" class="s2"/><path d="M228.9 322.8L162.9 351.4" class="s3"/><path d="M212.1 329.3L214.7 330.3" class="s3"/><g transform="translate(217.6 353.8) scale(0.1 -0.1)"><use href="#DejaVuSans-30"/></g><path d="M179.1 343.6L181.7 344.7" class="s3"/><g transform="translate(184.8 368.5) scale(0.1 -0.1)"><use href="#DejaVuSans-31"/></g><g transform="translate(217.4 390.6) scale(0.1 -0.1)"><use href="#DejaVuSans-58"/></g><path d="M63.7 309.5L162.9 351.4" class="s3"/><path d="M79.8 315.8L78.2 316.5" class="s3"/><g transform="translate(71.08 338.7) scale(0.1 -0.1)"><use href="#DejaVuSans-30"/></g><path d="M112.1 329.4L110.4 330.1" class="s3"/><g transform="translate(103.2 352.7) scale(0.1 -0.1)"><use href="#DejaVuSans-31"/></g><path d="M145.9 343.7L144.2 344.4" class="s3"/><g transform="translate(136.9 367.3) scale(0.1 -0.1)"><use href="#DejaVuSans-32"/></g><g transform="translate(92.67 379.9) scale(0.1 -0.1)"><use href="#DejaVuSans-59"/></g><path d="M63.7 309.5L59.7 131.3" class="s3"/><path d="M63.8 287.9L62.1 288.5" class="s3"/><g transform="translate(47.72 294.7) scale(0.1 -0.1)"><use href="#DejaVuSans-30"/></g><path d="M62.8 244.4L61.1 245" class="s3"/><g transform="translate(46.59 251.3) scale(0.1 -0.1)"><use href="#DejaVuSans-31"/></g><path d="M61.8 199.9L60.1 200.5" class="s3"/><g transform="translate(45.45 206.9) scale(0.1 -0.1)"><use href="#DejaVuSans-32"/></g><path d="M60.8 154.4L59.1 154.8" class="s3"/><g transform="translate(44.27 161.4) scale(0.1 -0.1)"><use href="#DejaVuSans-33"/></g><g transform="translate(19.96 222.6) scale(0.1 -0.1)"><use href="#DejaVuSans-5a"/></g><path d="M129.7 284.6L129 113.3" class="s4"/><path d="M228.9 322.8L233.1 140.9" class="s4"/><path d="M63.7 309.5L59.7 131.3" class="s4"/><path d="M162.9 351.4L163.8 161.7" class="s4"/><path d="M129.7 284.6L228.9 322.8" class="s4"/><path d="M129 113.3L233.1 140.9" class="s4"/><path d="M63.7 309.5L162.9 351.4" class="s4"/><path d="M59.7 131.3L163.8 161.7" class="s4"/><path d="M129.7 284.6L63.7 309.5" class="s4"/><path d="M129 113.3L59.7 131.3" class="s4"/><path d="M228.9 322.8L162.9 351.4" class="s4"/><path d="M233.1 140.9L163.8 161.7" class="s4"/><path d="M129.7 283.7L158.1 294.6L158.3 256.7L129.5 246.4z" class="s5"/><path d="M129.7 283.7L100.6 294.6L100.1 256.7L129.5 246.4z" class="s5"/><path d="M129.7 283.7L100.6 294.6L129.1 306L158.1 294.6z" class="s5"/><path d="M129.5 246.4L100.1 256.7L128.9 267.4L158.3 256.7z" class="s5"/><path d="M100.6 294.6L129.1 306L128.9 267.4L100.1 256.7z" class="s5"/><path d="M158.1 294.6L129.1 306L128.9 267.4L158.3 256.7z" class="s5"/><g transform="translate(71.03 87.52) scale(0.12 -0.1248)"><use href="#DejaVuSans-32"/><use href="#DejaVuSans-78" transform="translate(63.62 0)"/><use href="#DejaVuSans-33" transform="translate(122.8 0)"/><use href="#DejaVuSans-78" transform="translate(186.4 0)"/><use href="#DejaVuSans-34" transform="translate(245.6 0)"/><use href="#DejaVuSans-2f" transform="translate(309.2 0)"/><use href="#DejaVuSans-70" transform="translate(342.9 0)"/><use href="#DejaVuSans-75" transform="translate(406.4 0)"/><use href="#DejaVuSans-7a" transform="translate(469.8 0)"/><use href="#DejaVuSans-7a" transform="translate(522.3 0)"/><use href="#DejaVuSans-6c" transform="translate(574.8 0)"/><use href="#DejaVuSans-65" transform="translate(602.5 0)"/><use href="#DejaVuSans-5f" transform="translate(664.1 0)"/><use href="#DejaVuSans-68" transform="translate(714.1 0)"/><use href="#DejaVuSans-61" transform="translate(777.4 0)"/><use href="#DejaVuSans-72" transform="translate(838.7 0)"/><use href="#DejaVuSans-64" transform="translate(878.1 0)"/><use href="#DejaVuSans-5f" transform="translate(941.6 0)"/><use href="#DejaVuSans-30" transform="translate(991.6 0)"/><use href="#DejaVuSans-30" transform="translate(1055 0)"/><use href="#DejaVuSans-35" transform="translate(1119 0)"/></g><g transform="translate(109.3 101.3) scale(0.12 -0.1248)"><use href="#DejaVuSans-31"/><use href="#DejaVuSans-38" transform="translate(63.62 0)"/><use href="#DejaVuSans-2f" transform="translate(127.2 0)"/><use href="#DejaVuSans-32" transform="translate(160.9 0)"/><use href="#DejaVuSans-34" transform="translate(224.6 0)"/><use href="#DejaVuSans-20" transform="translate(288.2 0)"/><use href="#DejaVuSans-63" transform="translate(320 0)"/><use href="#DejaVuSans-65" transform="translate(375 0)"/><use href="#DejaVuSans-6c" transform="translate(436.5 0)"/><use href="#DejaVuSans-6c" transform="translate(464.3 0)"/><use href="#DejaVuSans-73" transform="translate(492 0)"/></g><path d="M129.5 242.2L158.3 252.5L158.4 213.6L129.3 204.1z" class="s5"/><path d="M129.5 242.2L100.1 252.5L99.6 213.6L129.3 204.1z" class="s5"/><path d="M129.5 242.2L100.1 252.5L128.9 263.1L158.3 252.5z" class="s5"/><path d="M129.3 204.1L99.6 213.6L128.7 223.6L158.4 213.6z" class="s5"/><path d="M100.1 252.5L128.9 263.1L128.7 223.6L99.6 213.6z" class="s5"/><path d="M158.3 252.5L128.9 263.1L128.7 223.6L158.4 213.6z" class="s5"/><path d="M97.3 295.9L125.7 307.3L125.5 268.7L96.8 257.9z" class="s15"/><path d="M97.3 295.9L66.9 307.3L66.1 268.7L96.8 257.9z" class="s15"/><path d="M97.3 295.9L66.9 307.3L95.3 319.3L125.7 307.3z" class="s15"/><path d="M96.8 257.9L66.1 268.7L94.8 279.9L125.5 268.7z" class="s15"/><path d="M66.9 307.3L95.3 319.3L94.8 279.9L66.1 268.7z" class="s15"/><path d="M125.7 307.3L95.3 319.3L94.8 279.9L125.5 268.7z" class="s15"/><path d="M129.3 199.8L158.4 209.3L158.6 169.5L129.2 160.8z" class="s5"/><path d="M129.3 199.8L99.6 209.3L99.1 169.5L129.2 160.8z" class="s5"/><path d="M129.3 199.8L99.6 209.3L128.7 219.2L158.4 209.3z" class="s5"/><path d="M129.2 160.8L99.1 169.5L128.5 178.7L158.6 169.5z" class="s5"/><path d="M99.6 209.3L128.7 219.2L128.5 178.7L99.1 169.5z" class="s5"/><path d="M158.4 209.3L128.7 219.2L128.5 178.7L158.6 169.5z" class="s5"/><path d="M96.8 253.6L125.5 264.3L125.3 224.7L96.2 214.7z" class="s15"/><path d="M96.8 253.6L66 264.3L65.1 224.7L96.2 214.7z" class="s15"/><path d="M96.8 253.6L66 264.3L94.7 275.5L125.5 264.3z" class="s15"/><path d="M96.2 214.7L65.1 224.7L94.1 235.2L125.3 224.7z" class="s15"/><path d="M66 264.3L94.7 275.5L94.1 235.2L65.1 224.7z" class="s15"/><path d="M125.5 264.3L94.7 275.5L94.1 235.2L125.3 224.7z" class="s15"/><path d="M129.1 156.4L158.6 165.1L158.7 124.4L129 116.4z" class="s16"/><path d="M129.1 156.4L99 165.1L98.5 124.4L129 116.4z" class="s16"/><path d="M129.1 156.4L99 165.1L128.5 174.1L158.6 165.1z" class="s16"/><path d="M129 116.4L98.5 124.4L128.3 132.7L158.7 124.4z" class="s16"/><path d="M99 165.1L128.5 174.1L128.3 132.7L98.5 124.4z" class="s16"/><path d="M158.6 165.1L128.5 174.1L128.3 132.7L158.7 124.4z" class="s16"/><path d="M129 308.6L158.7 320.6L158.9 281.2L128.8 269.9z" class="s13"/><path d="M129 308.6L98.5 320.6L98 281.2L128.8 269.9z" class="s13"/><path d="M129 308.6L98.5 320.6L128.3 333.1L158.7 320.6z" class="s13"/><path d="M128.8 269.9L98 281.2L128.1 293L158.9 281.2z" class="s13"/><path d="M98.5 320.6L128.3 333.1L128.1 293L98 281.2z" class="s13"/><path d="M158.7 320.6L128.3 333.1L128.1 293L158.9 281.2z" class="s13"/><path d="M194.5 308.6L225.6 320.6L226.5 281.2L195 269.9z" class="s13"/><path d="M194.5 308.6L165.4 320.6L165.6 281.2L195 269.9z" class="s13"/><path d="M194.5 308.6L165.4 320.6L196.6 333.1L225.6 320.6z" class="s13"/><path d="M195 269.9L165.6 281.2L197.2 293L226.5 281.2z" class="s13"/><path d="M165.4 320.6L196.6 333.1L197.2 293L165.6 281.2z" class="s13"/><path d="M225.6 320.6L196.6 333.1L197.2 293L226.5 281.2z" class="s13"/><path d="M96.2 210.4L125.3 220.3L125.1 179.7L95.7 170.5z" class="s16"/><path d="M96.2 210.4L65 220.3L64.2 179.7L95.7 170.5z" class="s16"/><path d="M96.2 210.4L65 220.3L94.1 230.6L125.3 220.3z" class="s16"/><path d="M95.7 170.5L64.2 179.7L93.5 189.3L125.1 179.7z" class="s16"/><path d="M65 220.3L94.1 230.6L93.5 189.3L64.2 179.7z" class="s16"/><path d="M125.3 220.3L94.1 230.6L93.5 189.3L125.1 179.7z" class="s16"/><path d="M195.1 265.5L226.6 276.7L227.5 236.4L195.6 225.9z" class="s14"/><path d="M195.1 265.5L165.7 276.7L165.9 236.4L195.6 225.9z" class="s14"/><path d="M195.1 265.5L165.7 276.7L197.2 288.4L226.6 276.7z" class="s14"/><path d="M195.6 225.9L165.9 236.4L197.8 247.3L227.5 236.4z" class="s14"/><path d="M165.7 276.7L197.2 288.4L197.8 247.3L165.9 236.4z" class="s14"/><path d="M226.6 276.7L197.2 288.4L197.8 247.3L227.5 236.4z" class="s14"/><path d="M128.8 265.5L158.9 276.7L159 236.4L128.6 225.9z" class="s15"/><path d="M128.8 265.5L98 276.7L97.4 236.4L128.6 225.9z" class="s15"/><path d="M128.8 265.5L98 276.7L128.1 288.4L158.9 276.7z" class="s15"/><path d="M128.6 225.9L97.4 236.4L127.9 247.3L159 236.4z" class="s15"/><path d="M98 276.7L128.1 288.4L127.9 247.3L97.4 236.4z" class="s15"/><path d="M158.9 276.7L128.1 288.4L127.9 247.3L159 236.4z" class="s15"/><path d="M95.6 166.1L125 175.2L124.8 133.6L95.1 125.3z" class="s16"/><path d="M95.6 166.1L64.1 175.2L63.2 133.6L95.1 125.3z" class="s16"/><path d="M95.6 166.1L64.1 175.2L93.4 184.7L125 175.2z" class="s16"/><path d="M95.1 125.3L63.2 133.6L92.9 142.3L124.8 133.6z" class="s16"/><path d="M64.1 175.2L93.4 184.7L92.9 142.3L63.2 133.6z" class="s16"/><path d="M125 175.2L93.4 184.7L92.9 142.3L124.8 133.6z" class="s16"/><path d="M162.1 322L193.3 334.5L193.8 294.3L162.3 282.5z" class="s13"/><path d="M162.1 322L131.7 334.5L131.5 294.3L162.3 282.5z" class="s13"/><path d="M162.1 322L131.7 334.5L162.8 347.6L193.3 334.5z" class="s13"/><path d="M162.3 282.5L131.5 294.3L163 306.7L193.8 294.3z" class="s13"/><path d="M131.7 334.5L162.8 347.6L163 306.7L131.5 294.3z" class="s13"/><path d="M193.3 334.5L162.8 347.6L163 306.7L193.8 294.3z" class="s13"/><path d="M195.7 221.4L227.6 231.8L228.5 190.4L196.2 180.8z" class="s14"/><path d="M195.7 221.4L165.9 231.8L166.1 190.4L196.2 180.8z" class="s14"/><path d="M195.7 221.4L165.9 231.8L197.9 242.7L227.6 231.8z" class="s14"/><path d="M196.2 180.8L166.1 190.4L198.5 200.5L228.5 190.4z" class="s14"/><path d="M165.9 231.8L197.9 242.7L198.5 200.5L166.1 190.4z" class="s14"/><path d="M227.6 231.8L197.9 242.7L198.5 200.5L228.5 190.4z" class="s14"/><path d="M128.6 221.4L159.1 231.8L159.2 190.4L128.4 180.8z" class="s15"/><path d="M128.6 221.4L97.4 231.8L96.9 190.4L128.4 180.8z" class="s15"/><path d="M128.6 221.4L97.4 231.8L127.8 242.7L159.1 231.8z" class="s15"/><path d="M128.4 180.8L96.9 190.4L127.6 200.5L159.2 190.4z" class="s15"/><path d="M97.4 231.8L127.8 242.7L127.6 200.5L96.9 190.4z" class="s15"/><path d="M159.1 231.8L127.8 242.7L127.6 200.5L159.2 190.4z" class="s15"/><path d="M162.3 278L193.9 289.8L194.4 248.5L162.5 237.5z" class="s14"/><path d="M162.3 278L131.5 289.8L131.3 248.5L162.5 237.5z" class="s14"/><path d="M162.3 278L131.5 289.8L163.1 302L193.9 289.8z" class="s14"/><path d="M162.5 237.5L131.3 248.5L163.3 260L194.4 248.5z" class="s14"/><path d="M131.5 289.8L163.1 302L163.3 260L131.3 248.5z" class="s14"/><path d="M193.9 289.8L163.1 302L163.3 260L194.4 248.5z" class="s14"/><path d="M128.4 176.2L159.2 185.8L159.4 143.3L128.2 134.6z" class="s16"/><path d="M128.4 176.2L96.8 185.8L96.2 143.3L128.2 134.6z" class="s16"/><path d="M128.4 176.2L96.8 185.8L127.6 195.7L159.2 185.8z" class="s16"/><path d="M128.2 134.6L96.2 143.3L127.4 152.5L159.4 143.3z" class="s16"/><path d="M96.8 185.8L127.6 195.7L127.4 152.5L96.2 143.3z" class="s16"/><path d="M159.2 185.8L127.6 195.7L127.4 152.5L159.4 143.3z" class="s16"/><path d="M162.5 233L194.5 243.9L195.1 201.6L162.7 191.5z" class="s14"/><path d="M162.5 233L131.3 243.9L131.2 201.6L162.7 191.5z" class="s14"/><path d="M162.5 233L131.3 243.9L163.3 255.3L194.5 243.9z" class="s14"/><path d="M162.7 191.5L131.2 201.6L163.5 212.2L195.1 201.6z" class="s14"/><path d="M131.3 243.9L163.3 255.3L163.5 212.2L131.2 201.6z" class="s14"/><path d="M194.5 243.9L163.3 255.3L163.5 212.2L195.1 201.6z" class="s14"/><path d="M342.7 123.5L374 134.9L375.2 92.6L342.7 83.7" class="s0"/><path d="M342.7 123.5L311.4 134.9L310.2 92.6L342.7 83.7" class="s1"/><path d="M342.7 123.5L311.4 134.9L342.7 148L374 134.9" class="s2"/><g/><g/><g/><path d="M374 134.9L342.7 148" class="s3"/><path d="M311.4 134.9L342.7 148" class="s3"/><path d="M311.4 134.9L310.2 92.6" class="s3"/><path d="M342.7 125.8L348.7 128L348.7 120.9L342.7 118.8z" class="s6"/><path d="M342.7 125.8L336.8 128L336.7 120.9L342.7 118.8z" class="s6"/><path d="M342.7 125.8L336.8 128L342.7 130.2L348.7 128z" class="s6"/><path d="M342.7 118.8L336.7 120.9L342.7 123.1L348.7 120.9z" class="s6"/><path d="M336.8 128L342.7 130.2L342.7 123.1L336.7 120.9z" class="s6"/><path d="M348.7 128L342.7 130.2L342.7 123.1L348.7 120.9z" class="s6"/><g transform="translate(333.5 122.7) scale(0.273 -0.273)"><use href="#DejaVuSans-2705"/></g><g transform="translate(289.8 70.58) scale(0.12 -0.1104)"><use href="#DejaVuSans-50"/><use href="#DejaVuSans-69" transform="translate(58.05 0)"/><use href="#DejaVuSans-65" transform="translate(85.84 0)"/><use href="#DejaVuSans-63" transform="translate(147.4 0)"/><use href="#DejaVuSans-65" transform="translate(202.3 0)"/><use href="#DejaVuSans-20" transform="translate(263.9 0)"/><use href="#DejaVuSans-30" transform="translate(295.7 0)"/><use href="#DejaVuSans-20" transform="translate(359.3 0)"/><use href="#DejaVuSans-28" transform="translate(391.1 0)"/><use href="#DejaVuSans-50" transform="translate(430.1 0)"/><use href="#DejaVuSans-4c" transform="translate(490.4 0)"/><use href="#DejaVuSans-41" transform="translate(548.3 0)"/><use href="#DejaVuSans-43" transform="translate(615 0)"/><use href="#DejaVuSans-45" transform="translate(684.8 0)"/><use href="#DejaVuSans-44" transform="translate(748 0)"/><use href="#DejaVuSans-29" transform="translate(825 0)"/></g><path d="M342.7 118L348.7 120.1L348.7 112.9L342.7 110.9z" class="s6"/><path d="M342.7 118L336.7 120.1L336.7 112.9L342.7 110.9z" class="s6"/><path d="M342.7 118L336.7 120.1L342.7 122.3L348.7 120.1z" class="s6"/><path d="M342.7 110.9L336.7 112.9L342.7 115L348.7 112.9z" class="s6"/><path d="M336.7 120.1L342.7 122.3L342.7 115L336.7 112.9z" class="s6"/><path d="M348.7 120.1L342.7 122.3L342.7 115L348.7 112.9z" class="s6"/><path d="M342.7 110.1L348.8 112.1L348.8 104.8L342.7 102.9z" class="s6"/><path d="M342.7 110.1L336.7 112.1L336.6 104.8L342.7 102.9z" class="s6"/><path d="M342.7 110.1L336.7 112.1L342.7 114.2L348.8 112.1z" class="s6"/><path d="M342.7 102.9L336.6 104.8L342.7 106.8L348.8 104.8z" class="s6"/><path d="M336.7 112.1L342.7 114.2L342.7 106.8L336.6 104.8z" class="s6"/><path d="M348.8 112.1L342.7 114.2L342.7 106.8L348.8 104.8z" class="s6"/><path d="M422.9 123.5L454.2 134.9L455.4 92.6L422.9 83.7" class="s0"/><path d="M422.9 123.5L391.6 134.9L390.4 92.6L422.9 83.7" class="s1"/><path d="M422.9 123.5L391.6 134.9L422.9 148L454.2 134.9" class="s2"/><g/><g/><g/><path d="M454.2 134.9L422.9 148" class="s3"/><path d="M391.6 134.9L422.9 148" class="s3"/><path d="M391.6 134.9L390.4 92.6" class="s3"/><path d="M416.7 117.9L422.3 119.9L422.3 113L416.7 111.1z" class="s7"/><path d="M416.7 117.9L411 119.9L411 113L416.7 111.1z" class="s7"/><path d="M416.7 117.9L411 119.9L416.6 121.9L422.3 119.9z" class="s7"/><path d="M416.7 111.1L411 113L416.5 114.9L422.3 113z" class="s7"/><path d="M411 119.9L416.6 121.9L416.5 114.9L411 113z" class="s7"/><path d="M422.3 119.9L416.6 121.9L416.5 114.9L422.3 113z" class="s7"/><g transform="translate(413.7 122.7) scale(0.273 -0.273)"><use href="#DejaVuSans-2705"/></g><g transform="translate(370 70.58) scale(0.12 -0.1104)"><use href="#DejaVuSans-50"/><use href="#DejaVuSans-69" transform="translate(58.05 0)"/><use href="#DejaVuSans-65" transform="translate(85.84 0)"/><use href="#DejaVuSans-63" transform="translate(147.4 0)"/><use href="#DejaVuSans-65" transform="translate(202.3 0)"/><use href="#DejaVuSans-20" transform="translate(263.9 0)"/><use href="#DejaVuSans-31" transform="translate(295.7 0)"/><use href="#DejaVuSans-20" transform="translate(359.3 0)"/><use href="#DejaVuSans-28" transform="translate(391.1 0)"/><use href="#DejaVuSans-50" transform="translate(430.1 0)"/><use href="#DejaVuSans-4c" transform="translate(490.4 0)"/><use href="#DejaVuSans-41" transform="translate(548.3 0)"/><use href="#DejaVuSans-43" transform="translate(615 0)"/><use href="#DejaVuSans-45" transform="translate(684.8 0)"/><use href="#DejaVuSans-44" transform="translate(748 0)"/><use href="#DejaVuSans-29" transform="translate(825 0)"/></g><path d="M429.1 117.9L434.7 119.9L434.8 113L429.1 111.1z" class="s7"/><path d="M429.1 117.9L423.5 119.9L423.5 113L429.1 111.1z" class="s7"/><path d="M429.1 117.9L423.5 119.9L429.2 121.9L434.7 119.9z" class="s7"/><path d="M429.1 111.1L423.5 113L429.3 114.9L434.8 113z" class="s7"/><path d="M423.5 119.9L429.2 121.9L429.3 114.9L423.5 113z" class="s7"/><path d="M434.7 119.9L429.2 121.9L429.3 114.9L434.8 113z" class="s7"/><path d="M422.9 120.1L428.6 122.1L428.6 115.1L422.9 113.2z" class="s7"/><path d="M422.9 120.1L417.2 122.1L417.2 115.1L422.9 113.2z" class="s7"/><path d="M422.9 120.1L417.2 122.1L422.9 124.2L428.6 122.1z" class="s7"/><path d="M422.9 113.2L417.2 115.1L422.9 117.1L428.6 115.1z" class="s7"/><path d="M417.2 122.1L422.9 124.2L422.9 117.1L417.2 115.1z" class="s7"/><path d="M428.6 122.1L422.9 124.2L422.9 117.1L428.6 115.1z" class="s7"/><path d="M342.7 239.8L374 251.2L375.2 208.8L342.7 200" class="s0"/><path d="M342.7 239.8L311.4 251.2L310.2 208.8L342.7 200" class="s1"/><path d="M342.7 239.8L311.4 251.2L342.7 264.3L374 251.2" class="s2"/><g/><g/><g/><path d="M374 251.2L342.7 264.3" class="s3"/><path d="M311.4 251.2L342.7 264.3" class="s3"/><path d="M311.4 251.2L310.2 208.8" class="s3"/><path d="M345.7 234.7L351.2 236.6L351.3 229.9L345.7 228z" class="s8"/><path d="M345.7 234.7L340.3 236.6L340.3 229.9L345.7 228z" class="s8"/><path d="M345.7 234.7L340.3 236.6L345.8 238.6L351.2 236.6z" class="s8"/><path d="M345.7 228L340.3 229.9L345.8 231.8L351.3 229.9z" class="s8"/><path d="M340.3 236.6L345.8 238.6L345.8 231.8L340.3 229.9z" class="s8"/><path d="M351.2 236.6L345.8 238.6L345.8 231.8L351.3 229.9z" class="s8"/><g transform="translate(320.1 186.8) scale(0.12 -0.1104)"><use href="#DejaVuSans-50"/><use href="#DejaVuSans-69" transform="translate(58.05 0)"/><use href="#DejaVuSans-65" transform="translate(85.84 0)"/><use href="#DejaVuSans-63" transform="translate(147.4 0)"/><use href="#DejaVuSans-65" transform="translate(202.3 0)"/><use href="#DejaVuSans-20" transform="translate(263.9 0)"/><use href="#DejaVuSans-32" transform="translate(295.7 0)"/></g><path d="M345.7 227.3L351.3 229.1L351.3 222.3L345.8 220.5z" class="s8"/><path d="M345.7 227.3L340.3 229.1L340.2 222.3L345.8 220.5z" class="s8"/><path d="M345.7 227.3L340.3 229.1L345.8 231L351.3 229.1z" class="s8"/><path d="M345.8 220.5L340.2 222.3L345.8 224.1L351.3 222.3z" class="s8"/><path d="M340.3 229.1L345.8 231L345.8 224.1L340.2 222.3z" class="s8"/><path d="M351.3 229.1L345.8 231L345.8 224.1L351.3 222.3z" class="s8"/><path d="M339.7 236.8L345.2 238.8L345.2 232L339.6 230.1z" class="s8"/><path d="M339.7 236.8L334.1 238.8L334 232L339.6 230.1z" class="s8"/><path d="M339.7 236.8L334.1 238.8L339.6 240.8L345.2 238.8z" class="s8"/><path d="M339.6 230.1L334 232L339.6 233.9L345.2 232z" class="s8"/><path d="M334.1 238.8L339.6 240.8L339.6 233.9L334 232z" class="s8"/><path d="M345.2 238.8L339.6 240.8L339.6 233.9L345.2 232z" class="s8"/><path d="M339.6 229.3L345.2 231.2L345.2 224.3L339.6 222.5z" class="s8"/><path d="M339.6 229.3L334 231.2L334 224.3L339.6 222.5z" class="s8"/><path d="M339.6 229.3L334 231.2L339.6 233.2L345.2 231.2z" class="s8"/><path d="M339.6 222.5L334 224.3L339.5 226.2L345.2 224.3z" class="s8"/><path d="M334 231.2L339.6 233.2L339.5 226.2L334 224.3z" class="s8"/><path d="M345.2 231.2L339.6 233.2L339.5 226.2L345.2 224.3z" class="s8"/><path d="M351.9 229.3L357.6 231.2L357.7 224.3L352 222.5z" class="s8"/><path d="M351.9 229.3L346.4 231.2L346.5 224.3L352 222.5z" class="s8"/><path d="M351.9 229.3L346.4 231.2L352.2 233.2L357.6 231.2z" class="s8"/><path d="M352 222.5L346.5 224.3L352.2 226.2L357.7 224.3z" class="s8"/><path d="M346.4 231.2L352.2 233.2L352.2 226.2L346.5 224.3z" class="s8"/><path d="M357.6 231.2L352.2 233.2L352.2 226.2L357.7 224.3z" class="s8"/><path d="M333.4 231.4L338.9 233.4L338.9 226.4L333.3 224.5z" class="s8"/><path d="M333.4 231.4L327.6 233.4L327.5 226.4L333.3 224.5z" class="s8"/><path d="M333.4 231.4L327.6 233.4L333.1 235.4L338.9 233.4z" class="s8"/><path d="M333.3 224.5L327.5 226.4L333.1 228.3L338.9 226.4z" class="s8"/><path d="M327.6 233.4L333.1 235.4L333.1 228.3L327.5 226.4z" class="s8"/><path d="M338.9 233.4L333.1 235.4L333.1 228.3L338.9 226.4z" class="s8"/><path d="M422.9 239.8L454.2 251.2L455.4 208.8L422.9 200" class="s0"/><path d="M422.9 239.8L391.6 251.2L390.4 208.8L422.9 200" class="s1"/><path d="M422.9 239.8L391.6 251.2L422.9 264.3L454.2 251.2" class="s2"/><g/><g/><g/><path d="M454.2 251.2L422.9 264.3" class="s3"/><path d="M391.6 251.2L422.9 264.3" class="s3"/><path d="M391.6 251.2L390.4 208.8" class="s3"/><path d="M419.8 233.1L425.4 235L425.4 228.2L419.8 226.3z" class="s9"/><path d="M419.8 233.1L414.2 235L414.2 228.2L419.8 226.3z" class="s9"/><path d="M419.8 233.1L414.2 235L419.8 237L425.4 235z" class="s9"/><path d="M419.8 226.3L414.2 228.2L419.7 230.1L425.4 228.2z" class="s9"/><path d="M414.2 235L419.8 237L419.7 230.1L414.2 228.2z" class="s9"/><path d="M425.4 235L419.8 237L419.7 230.1L425.4 228.2z" class="s9"/><g transform="translate(413.7 238.9) scale(0.273 -0.273)"><use href="#DejaVuSans-2705"/></g><g transform="translate(370 186.8) scale(0.12 -0.1104)"><use href="#DejaVuSans-50"/><use href="#DejaVuSans-69" transform="translate(58.05 0)"/><use href="#DejaVuSans-65" transform="translate(85.84 0)"/><use href="#DejaVuSans-63" transform="translate(147.4 0)"/><use href="#DejaVuSans-65" transform="translate(202.3 0)"/><use href="#DejaVuSans-20" transform="translate(263.9 0)"/><use href="#DejaVuSans-33" transform="translate(295.7 0)"/><use href="#DejaVuSans-20" transform="translate(359.3 0)"/><use href="#DejaVuSans-28" transform="translate(391.1 0)"/><use href="#DejaVuSans-50" transform="translate(430.1 0)"/><use href="#DejaVuSans-4c" transform="translate(490.4 0)"/><use href="#DejaVuSans-41" transform="translate(548.3 0)"/><use href="#DejaVuSans-43" transform="translate(615 0)"/><use href="#DejaVuSans-45" transform="translate(684.8 0)"/><use href="#DejaVuSans-44" transform="translate(748 0)"/><use href="#DejaVuSans-29" transform="translate(825 0)"/></g><path d="M432.1 233.1L437.8 235L437.9 228.2L432.1 226.3z" class="s9"/><path d="M432.1 233.1L426.6 235L426.6 228.2L432.1 226.3z" class="s9"/><path d="M432.1 233.1L426.6 235L432.3 237L437.8 235z" class="s9"/><path d="M432.1 226.3L426.6 228.2L432.4 230.1L437.9 228.2z" class="s9"/><path d="M426.6 235L432.3 237L432.4 230.1L426.6 228.2z" class="s9"/><path d="M437.8 235L432.3 237L432.4 230.1L437.9 228.2z" class="s9"/><path d="M413.6 235.2L419.1 237.2L419.1 230.3L413.5 228.4z" class="s9"/><path d="M413.6 235.2L407.8 237.2L407.7 230.3L413.5 228.4z" class="s9"/><path d="M413.6 235.2L407.8 237.2L413.3 239.3L419.1 237.2z" class="s9"/><path d="M413.5 228.4L407.7 230.3L413.3 232.3L419.1 230.3z" class="s9"/><path d="M407.8 237.2L413.3 239.3L413.3 232.3L407.7 230.3z" class="s9"/><path d="M419.1 237.2L413.3 239.3L413.3 232.3L419.1 230.3z" class="s9"/><path d="M426 235.2L431.7 237.2L431.7 230.3L426 228.4z" class="s9"/><path d="M426 235.2L420.4 237.2L420.4 230.3L426 228.4z" class="s9"/><path d="M426 235.2L420.4 237.2L426.1 239.3L431.7 237.2z" class="s9"/><path d="M426 228.4L420.4 230.3L426.1 232.3L431.7 230.3z" class="s9"/><path d="M420.4 237.2L426.1 239.3L426.1 232.3L420.4 230.3z" class="s9"/><path d="M431.7 237.2L426.1 239.3L426.1 232.3L431.7 230.3z" class="s9"/><path d="M342.7 356.7L374 368.1L375.2 325.7L342.7 316.9" class="s0"/><path d="M342.7 356.7L311.4 368.1L310.2 325.7L342.7 316.9" class="s1"/><path d="M342.7 356.7L311.4 368.1L342.7 381.2L374 368.1" class="s2"/><g/><g/><g/><path d="M374 368.1L342.7 381.2" class="s3"/><path d="M311.4 368.1L342.7 381.2" class="s3"/><path d="M311.4 368.1L310.2 325.7" class="s3"/><path d="M342.7 352.7L348.2 354.6L348.3 347.9L342.7 346z" class="s10"/><path d="M342.7 352.7L337.2 354.6L337.2 347.9L342.7 346z" class="s10"/><path d="M342.7 352.7L337.2 354.6L342.7 356.6L348.2 354.6z" class="s10"/><path d="M342.7 346L337.2 347.9L342.7 349.8L348.3 347.9z" class="s10"/><path d="M337.2 354.6L342.7 356.6L342.7 349.8L337.2 347.9z" class="s10"/><path d="M348.2 354.6L342.7 356.6L342.7 349.8L348.3 347.9z" class="s10"/><g transform="translate(333.5 355.9) scale(0.273 -0.273)"><use href="#DejaVuSans-2705"/></g><g transform="translate(289.8 303.8) scale(0.12 -0.1104)"><use href="#DejaVuSans-50"/><use href="#DejaVuSans-69" transform="translate(58.05 0)"/><use href="#DejaVuSans-65" transform="translate(85.84 0)"/><use href="#DejaVuSans-63" transform="translate(147.4 0)"/><use href="#DejaVuSans-65" transform="translate(202.3 0)"/><use href="#DejaVuSans-20" transform="translate(263.9 0)"/><use href="#DejaVuSans-34" transform="translate(295.7 0)"/><use href="#DejaVuSans-20" transform="translate(359.3 0)"/><use href="#DejaVuSans-28" transform="translate(391.1 0)"/><use href="#DejaVuSans-50" transform="translate(430.1 0)"/><use href="#DejaVuSans-4c" transform="translate(490.4 0)"/><use href="#DejaVuSans-41" transform="translate(548.3 0)"/><use href="#DejaVuSans-43" transform="translate(615 0)"/><use href="#DejaVuSans-45" transform="translate(684.8 0)"/><use href="#DejaVuSans-44" transform="translate(748 0)"/><use href="#DejaVuSans-29" transform="translate(825 0)"/></g><path d="M342.7 345.2L348.3 347.1L348.3 340.2L342.7 338.4z" class="s10"/><path d="M342.7 345.2L337.2 347.1L337.1 340.2L342.7 338.4z" class="s10"/><path d="M342.7 345.2L337.2 347.1L342.7 349L348.3 347.1z" class="s10"/><path d="M342.7 338.4L337.1 340.2L342.7 342.1L348.3 340.2z" class="s10"/><path d="M337.2 347.1L342.7 349L342.7 342.1L337.1 340.2z" class="s10"/><path d="M348.3 347.1L342.7 349L342.7 342.1L348.3 340.2z" class="s10"/><path d="M336.6 354.8L342.1 356.9L342.1 350L336.5 348.1z" class="s10"/><path d="M336.6 354.8L330.9 356.9L330.8 350L336.5 348.1z" class="s10"/><path d="M336.6 354.8L330.9 356.9L336.4 358.9L342.1 356.9z" class="s10"/><path d="M336.5 348.1L330.8 350L336.4 352L342.1 350z" class="s10"/><path d="M330.9 356.9L336.4 358.9L336.4 352L330.8 350z" class="s10"/><path d="M342.1 356.9L336.4 358.9L336.4 352L342.1 350z" class="s10"/><path d="M348.8 354.8L354.5 356.9L354.6 350L348.9 348.1z" class="s10"/><path d="M348.8 354.8L343.3 356.9L343.3 350L348.9 348.1z" class="s10"/><path d="M348.8 354.8L343.3 356.9L349 358.9L354.5 356.9z" class="s10"/><path d="M348.9 348.1L343.3 350L349 352L354.6 350z" class="s10"/><path d="M343.3 356.9L349 358.9L349 352L343.3 350z" class="s10"/><path d="M354.5 356.9L349 358.9L349 352L354.6 350z" class="s10"/><path d="M422.9 356.7L454.2 368.1L455.4 325.7L422.9 316.9" class="s0"/><path d="M422.9 356.7L391.6 368.1L390.4 325.7L422.9 316.9" class="s1"/><path d="M422.9 356.7L391.6 368.1L422.9 381.2L454.2 368.1" class="s2"/><g/><g/><g/><path d="M454.2 368.1L422.9 381.2" class="s3"/><path d="M391.6 368.1L422.9 381.2" class="s3"/><path d="M391.6 368.1L390.4 325.7" class="s3"/><path d="M419.8 353.8L425.4 355.7L425.4 348.9L419.8 347z" class="s11"/><path d="M419.8 353.8L414.3 355.7L414.2 348.9L419.8 347z" class="s11"/><path d="M419.8 353.8L414.3 355.7L419.8 357.8L425.4 355.7z" class="s11"/><path d="M419.8 347L414.2 348.9L419.8 350.9L425.4 348.9z" class="s11"/><path d="M414.3 355.7L419.8 357.8L419.8 350.9L414.2 348.9z" class="s11"/><path d="M425.4 355.7L419.8 357.8L419.8 350.9L425.4 348.9z" class="s11"/><g transform="translate(413.7 355.9) scale(0.273 -0.273)"><use href="#DejaVuSans-2705"/></g><g transform="translate(370 303.8) scale(0.12 -0.1104)"><use href="#DejaVuSans-50"/><use href="#DejaVuSans-69" transform="translate(58.05 0)"/><use href="#DejaVuSans-65" transform="translate(85.84 0)"/><use href="#DejaVuSans-63" transform="translate(147.4 0)"/><use href="#DejaVuSans-65" transform="translate(202.3 0)"/><use href="#DejaVuSans-20" transform="translate(263.9 0)"/><use href="#DejaVuSans-35" transform="translate(295.7 0)"/><use href="#DejaVuSans-20" transform="translate(359.3 0)"/><use href="#DejaVuSans-28" transform="translate(391.1 0)"/><use href="#DejaVuSans-50" transform="translate(430.1 0)"/><use href="#DejaVuSans-4c" transform="translate(490.4 0)"/><use href="#DejaVuSans-41" transform="translate(548.3 0)"/><use href="#DejaVuSans-43" transform="translate(615 0)"/><use href="#DejaVuSans-45" transform="translate(684.8 0)"/><use href="#DejaVuSans-44" transform="translate(748 0)"/><use href="#DejaVuSans-29" transform="translate(825 0)"/></g><path d="M419.8 346.3L425.4 348.2L425.4 341.3L419.8 339.4z" class="s11"/><path d="M419.8 346.3L414.2 348.2L414.1 341.3L419.8 339.4z" class="s11"/><path d="M419.8 346.3L414.2 348.2L419.7 350.1L425.4 348.2z" class="s11"/><path d="M419.8 339.4L414.1 341.3L419.7 343.1L425.4 341.3z" class="s11"/><path d="M414.2 348.2L419.7 350.1L419.7 343.1L414.1 341.3z" class="s11"/><path d="M425.4 348.2L419.7 350.1L419.7 343.1L425.4 341.3z" class="s11"/><path d="M426 356L431.7 358L431.7 351.1L426 349.1z" class="s11"/><path d="M426 356L420.4 358L420.4 351.1L426 349.1z" class="s11"/><path d="M426 356L420.4 358L426.1 360.1L431.7 358z" class="s11"/><path d="M426 349.1L420.4 351.1L426.1 353.1L431.7 351.1z" class="s11"/><path d="M420.4 358L426.1 360.1L426.1 353.1L420.4 351.1z" class="s11"/><path d="M431.7 358L426.1 360.1L426.1 353.1L431.7 351.1z" class="s11"/><path d="M426 348.4L431.7 350.3L431.8 343.3L426 341.5z" class="s11"/><path d="M426 348.4L420.4 350.3L420.4 343.3L426 341.5z" class="s11"/><path d="M426 348.4L420.4 350.3L426.1 352.3L431.7 350.3z" class="s11"/><path d="M426 341.5L420.4 343.3L426.1 345.3L431.8 343.3z" class="s11"/><path d="M420.4 350.3L426.1 352.3L426.1 345.3L420.4 343.3z" class="s11"/><path d="M431.7 350.3L426.1 352.3L426.1 345.3L431.8 343.3z" class="s11"/><g class="s12" transform="translate(346.6 34.38) scale(0.1 -0.1)"><use href="#DejaVuSans-Oblique-50"/><use href="#DejaVuSans-Oblique-69" transform="translate(60.3 0)"/><use href="#DejaVuSans-Oblique-65" transform="translate(88.09 0)"/><use href="#DejaVuSans-Oblique-63" transform="translate(149.6 0)"/><use href="#DejaVuSans-Oblique-65" transform="translate(204.6 0)"/><use href="#DejaVuSans-Oblique-73" transform="translate(266.1 0)"/></g></svg></div>
<div class="cap" style="left:1157.8px;top:596.75px"><span><i>(h)</i> Step 8</span></div>
</body></html>
